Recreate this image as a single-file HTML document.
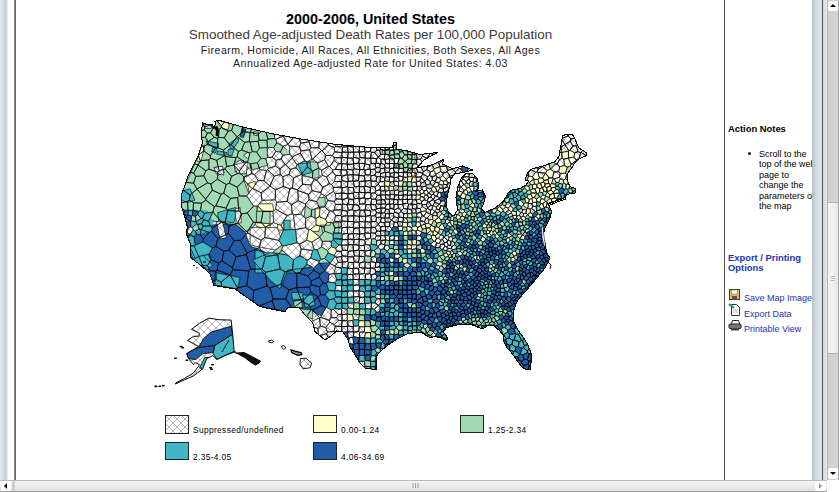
<!DOCTYPE html><html><head><meta charset="utf-8"><title>Map</title><style>
html,body{margin:0;padding:0;}
body{width:839px;height:492px;overflow:hidden;background:#fff;position:relative;font-family:"Liberation Sans",sans-serif;color:#000;}
.abs{position:absolute;}
#lstrip{left:0;top:0;width:8px;height:480px;background:linear-gradient(90deg,#dfe4ea 0,#d6dce3 3px,#c3cad1 6px,#e9ecef 7.5px,#fff 8px);}
#lline{left:14px;top:0;width:2px;height:480px;background:linear-gradient(90deg,#b5b5b5 0,#5f5f5f 1px,#6a6a6a 2px);}
#sline{left:724px;top:0;width:1px;height:480px;background:#555;}
#rstrip{left:812px;top:0;width:10px;height:480px;background:linear-gradient(90deg,#b4bcc4 0,#c6cdd5 3px,#dce2e9 7px,#d5dbe2 10px);opacity:.93}
#rline{left:822px;top:0;width:1px;height:480px;background:#555;}
#rstrip2{left:823px;top:0;width:4px;height:480px;background:linear-gradient(90deg,#cfd6de,#e6ebf0);}
#vsb{left:827px;top:0;width:12px;height:480px;background:#d2d2d2;border-left:1px solid #b4b4b4;border-right:1px solid #a8a8a8;box-sizing:border-box;}
#vthumb{left:828px;top:202px;width:10px;height:152px;background:linear-gradient(90deg,#f3f3f3 0,#f0f0f0 5px,#e4e4e4 10px);border-top:1px solid #b0b0b0;border-bottom:1px solid #b0b0b0;box-sizing:border-box;}
.btn{background:#fff;border-radius:2px;}
#vup{left:828px;top:1px;width:10px;height:10px;}
#vdn{left:828px;top:468px;width:10px;height:11px;}
#hsb{left:0;top:480px;width:827px;height:12px;background:linear-gradient(180deg,#b9b9b9 0,#b9b9b9 1px,#f2f2f2 1px,#ececec 6px,#e0e0e0 10.5px,#a9a9a9 10.5px,#a0a0a0 12px);}
#hl{left:1px;top:481px;width:10px;height:10px;}
#hr{left:815px;top:481px;width:11px;height:10px;}
#corner{left:827px;top:480px;width:12px;height:12px;background:#fff;}
.tri{width:0;height:0;position:absolute;}
.t{position:absolute;white-space:nowrap;text-align:center;left:170px;width:401px;}
#t1{top:10.5px;font-size:14.4px;font-weight:bold;}
#t2{top:27px;font-size:13.4px;color:#3c3c3c;}
#t3{top:44px;font-size:10.6px;letter-spacing:.46px;color:#222;}
#t4{top:56.5px;font-size:10.6px;letter-spacing:.46px;color:#222;}
.lg{position:absolute;width:22px;height:16px;border:1px solid #222;}
.lt{position:absolute;font-size:8.4px;letter-spacing:.35px;white-space:nowrap;}
.sb{position:absolute;font-size:9px;white-space:nowrap;}
.sbh{font-weight:bold;font-size:9.4px;}
.sbl{letter-spacing:0;}
.blue{color:#2233bb;}
</style></head><body>
<div class="t" id="t1">2000-2006, United States</div>
<div class="t" id="t2">Smoothed Age-adjusted Death Rates per 100,000 Population</div>
<div class="t" id="t3">Firearm, Homicide, All Races, All Ethnicities, Both Sexes, All Ages</div>
<div class="t" id="t4">Annualized Age-adjusted Rate for United States: 4.03</div>
<svg class="abs" style="left:0;top:0" width="839" height="480" viewBox="0 0 839 480">
<defs><pattern id="hatch" width="8" height="8" patternUnits="userSpaceOnUse"><rect width="8" height="8" fill="#fff"/><path d="M0 0L8 8M8 0L0 8" stroke="#888" stroke-width=".65"/></pattern><clipPath id="us"><path d="M202.5,123.0L207.0,124.5L212.0,124.0L214.0,128.0L215.5,124.0L215.0,121.5L218.0,120.0L242.6,127.0L272.6,133.8L300.0,138.8L335.0,144.3L370.0,147.5L392.5,147.5L393.7,142.5L396.0,142.5L396.0,149.0L407.5,151.0L420.0,154.5L437.5,152.5L424.0,160.0L417.5,167.5L427.5,166.0L435.0,163.7L443.7,159.0L442.5,164.0L452.5,168.7L462.5,166.0L472.5,170.0L463.7,172.5L455.0,173.7L451.0,178.7L450.0,185.0L447.5,195.0L446.0,205.0L448.7,212.5L453.7,216.0L457.5,210.0L456.0,197.5L457.5,187.5L461.0,178.7L466.0,173.7L472.5,173.7L477.5,178.7L478.7,187.5L476.0,191.0L482.5,190.0L485.5,196.0L483.7,203.7L481.0,208.7L485.0,212.5L495.0,208.0L503.0,201.7L509.0,191.7L512.0,190.0L520.0,188.5L526.0,185.0L529.0,181.0L525.0,180.0L527.5,173.0L531.7,169.0L543.0,166.0L555.0,161.7L559.0,156.0L561.0,145.0L562.5,136.0L566.7,134.0L571.7,134.0L574.0,136.7L576.7,143.0L579.0,148.0L586.0,152.5L586.0,156.0L581.7,157.5L577.5,160.0L574.0,164.0L571.7,168.0L568.0,173.0L567.5,181.0L570.0,186.7L573.0,187.5L576.0,189.0L575.0,193.0L571.7,193.0L566.7,195.0L561.7,199.0L548.0,204.0L551.7,211.7L550.0,218.0L547.5,223.0L545.0,228.0L543.0,236.7L545.0,243.0L546.7,253.0L550.0,258.0L545.0,268.0L536.0,279.0L527.5,289.0L517.5,300.5L513.7,310.5L513.0,320.0L518.0,330.0L523.0,336.7L528.0,345.0L531.0,353.0L531.0,363.0L530.0,370.0L525.0,369.0L521.7,366.7L516.7,360.0L511.7,353.0L506.7,347.5L504.0,341.7L503.0,335.0L500.0,331.0L494.0,326.0L488.0,325.0L483.0,329.0L480.0,328.0L470.0,324.0L460.0,324.0L453.0,326.0L446.7,327.5L443.0,331.7L448.0,338.0L446.7,341.0L440.0,337.5L435.0,336.7L430.0,337.5L420.0,332.0L407.0,334.0L397.0,339.0L388.0,345.0L380.0,351.7L376.0,356.7L376.7,361.7L376.7,370.0L365.0,368.0L360.0,363.0L355.0,355.0L350.0,346.7L348.0,340.0L343.0,331.7L336.7,331.0L330.0,336.7L325.0,340.0L315.0,331.7L312.5,322.5L305.0,315.0L299.0,307.5L288.0,307.5L286.7,309.0L285.0,311.7L260.0,306.7L235.0,289.0L213.7,285.5L210.0,274.0L201.0,265.5L191.0,258.0L190.0,243.0L186.0,233.0L187.5,227.5L185.0,217.5L181.0,205.0L181.0,196.0L185.0,185.0L187.5,177.5L191.0,170.0L197.5,157.5L202.5,142.5L201.0,135.0Z"/></clipPath></defs>
<g clip-path="url(#us)" stroke-linejoin="round">
<path d="M202.5,123.0L207.0,124.5L212.0,124.0L214.0,128.0L215.5,124.0L215.0,121.5L218.0,120.0L242.6,127.0L272.6,133.8L300.0,138.8L335.0,144.3L370.0,147.5L392.5,147.5L393.7,142.5L396.0,142.5L396.0,149.0L407.5,151.0L420.0,154.5L437.5,152.5L424.0,160.0L417.5,167.5L427.5,166.0L435.0,163.7L443.7,159.0L442.5,164.0L452.5,168.7L462.5,166.0L472.5,170.0L463.7,172.5L455.0,173.7L451.0,178.7L450.0,185.0L447.5,195.0L446.0,205.0L448.7,212.5L453.7,216.0L457.5,210.0L456.0,197.5L457.5,187.5L461.0,178.7L466.0,173.7L472.5,173.7L477.5,178.7L478.7,187.5L476.0,191.0L482.5,190.0L485.5,196.0L483.7,203.7L481.0,208.7L485.0,212.5L495.0,208.0L503.0,201.7L509.0,191.7L512.0,190.0L520.0,188.5L526.0,185.0L529.0,181.0L525.0,180.0L527.5,173.0L531.7,169.0L543.0,166.0L555.0,161.7L559.0,156.0L561.0,145.0L562.5,136.0L566.7,134.0L571.7,134.0L574.0,136.7L576.7,143.0L579.0,148.0L586.0,152.5L586.0,156.0L581.7,157.5L577.5,160.0L574.0,164.0L571.7,168.0L568.0,173.0L567.5,181.0L570.0,186.7L573.0,187.5L576.0,189.0L575.0,193.0L571.7,193.0L566.7,195.0L561.7,199.0L548.0,204.0L551.7,211.7L550.0,218.0L547.5,223.0L545.0,228.0L543.0,236.7L545.0,243.0L546.7,253.0L550.0,258.0L545.0,268.0L536.0,279.0L527.5,289.0L517.5,300.5L513.7,310.5L513.0,320.0L518.0,330.0L523.0,336.7L528.0,345.0L531.0,353.0L531.0,363.0L530.0,370.0L525.0,369.0L521.7,366.7L516.7,360.0L511.7,353.0L506.7,347.5L504.0,341.7L503.0,335.0L500.0,331.0L494.0,326.0L488.0,325.0L483.0,329.0L480.0,328.0L470.0,324.0L460.0,324.0L453.0,326.0L446.7,327.5L443.0,331.7L448.0,338.0L446.7,341.0L440.0,337.5L435.0,336.7L430.0,337.5L420.0,332.0L407.0,334.0L397.0,339.0L388.0,345.0L380.0,351.7L376.0,356.7L376.7,361.7L376.7,370.0L365.0,368.0L360.0,363.0L355.0,355.0L350.0,346.7L348.0,340.0L343.0,331.7L336.7,331.0L330.0,336.7L325.0,340.0L315.0,331.7L312.5,322.5L305.0,315.0L299.0,307.5L288.0,307.5L286.7,309.0L285.0,311.7L260.0,306.7L235.0,289.0L213.7,285.5L210.0,274.0L201.0,265.5L191.0,258.0L190.0,243.0L186.0,233.0L187.5,227.5L185.0,217.5L181.0,205.0L181.0,196.0L185.0,185.0L187.5,177.5L191.0,170.0L197.5,157.5L202.5,142.5L201.0,135.0Z" fill="url(#hatch)"/>
<path d="M200,118 218,118 273,133 277,141 287,150 292,163 287,165 277,153 270,158 263,160 260,168 248,168 243,160 247,175 243,178 250,197 257,203 257,222 252,228 245,232 235,225 217,222 210,220 190,222 180,215 180,195 190,175 200,150Z" fill="#a1dab4" stroke="#000" stroke-width=".65"/>
<path d="M202.6,122.5 210.1,124.2 211.7,128.4 205.1,128.4Z" fill="url(#hatch)" stroke="#000" stroke-width=".65"/>
<path d="M214.2,167.6 221.8,166.8 224.3,172.6 218.4,175.1Z" fill="url(#hatch)" stroke="#000" stroke-width=".65"/>
<path d="M234.3,163.4 240.1,160.1 248.5,168.4 243.5,173.4 235.1,171.8Z" fill="url(#hatch)" stroke="#000" stroke-width=".65"/>
<path d="M243.5,155.1 250.1,150.1 261.8,153.4 260.2,157.6 248.5,159.2Z" fill="url(#hatch)" stroke="#000" stroke-width=".65"/>
<path d="M253.5,131.7 258.5,132.5 258.5,135.9 253.5,135Z" fill="url(#hatch)" stroke="#000" stroke-width=".65"/>
<path d="M213.8,167.5 222.6,166.3 223.8,175 216.3,173.8Z" fill="url(#hatch)" stroke="#000" stroke-width=".65"/>
<path d="M233.8,165 247.6,161.3 246.4,173.8 237.6,173.8Z" fill="url(#hatch)" stroke="#000" stroke-width=".65"/>
<path d="M217.6,120 229.3,123.4 228.4,129.2 223.4,129.2 218.4,124.2Z" fill="#ffffcc" stroke="#000" stroke-width=".65"/>
<path d="M201.7,145.9 205.1,145.1 200.9,161.8 196.7,160.9Z" fill="#ffffcc" stroke="#000" stroke-width=".65"/>
<path d="M205.9,140.9 218.4,143.4 218.4,147.6 207.6,145.1Z" fill="#41b6c4" stroke="#000" stroke-width=".65"/>
<path d="M212.6,147.6 217.6,147.6 215.1,153.4 211.7,151.7Z" fill="#41b6c4" stroke="#000" stroke-width=".65"/>
<path d="M217.6,150.9 226.8,152.6 225.9,155.9 216.7,154.2Z" fill="#41b6c4" stroke="#000" stroke-width=".65"/>
<path d="M228.4,149.2 234.3,149.2 231.8,155.9 227.6,155.1Z" fill="#41b6c4" stroke="#000" stroke-width=".65"/>
<path d="M229.3,143.4 238.4,137.5 238.4,141.7 233.4,148.4 230.1,148.4Z" fill="#41b6c4" stroke="#000" stroke-width=".65"/>
<path d="M241.8,128.4 246,129.2 243.5,137.5 240.1,136.7Z" fill="#225ea8" stroke="#000" stroke-width=".65"/>
<path d="M292.7,160 318.9,162.5 318.9,177.5 310.2,178.8 295.2,175Z" fill="#a1dab4" stroke="#000" stroke-width=".65"/>
<path d="M297.7,163.8 310.2,162.5 311.4,172.5 302.7,175Z" fill="#41b6c4" stroke="#000" stroke-width=".65"/>
<path d="M247.6,183.8 255.1,181.3 255.1,190.1 248.9,191.3Z" fill="#ffffcc" stroke="#000" stroke-width=".65"/>
<path d="M257.6,203.8 272.6,203.8 273.9,211.3 257.6,211.3Z" fill="#ffffcc" stroke="#000" stroke-width=".65"/>
<path d="M256.4,211.3 270.1,211.3 270.1,223.8 256.4,222.6Z" fill="#a1dab4" stroke="#000" stroke-width=".65"/>
<path d="M255.1,222.6 270.1,223.8 270.1,230.1 256.4,226.3Z" fill="#ffffcc" stroke="#000" stroke-width=".65"/>
<path d="M267.6,190.1 276.4,191.3 276.4,196.3 268.9,195.1Z" fill="#ffffcc" stroke="#000" stroke-width=".65"/>
<path d="M277.6,220.1 283.9,220.1 283.9,230.1 277.6,230.1Z" fill="#ffffcc" stroke="#000" stroke-width=".65"/>
<path d="M283.9,220.1 290.2,220.1 290.2,231.4 283.9,231.4Z" fill="#41b6c4" stroke="#000" stroke-width=".65"/>
<path d="M273.9,242.6 290.2,240.1 290.2,252.6 277.6,255.1Z" fill="#a1dab4" stroke="#000" stroke-width=".65"/>
<path d="M305.2,206.3 315.2,206.3 315.2,222.6 303.9,220.1Z" fill="#a1dab4" stroke="#000" stroke-width=".65"/>
<path d="M316.4,197.6 325.2,197.6 325.2,206.3 316.4,206.3Z" fill="#a1dab4" stroke="#000" stroke-width=".65"/>
<path d="M310.2,231.4 339,225.1 339,247.6 330.2,255.1 310.2,250.1Z" fill="#a1dab4"/>
<path d="M320.2,222.6 339,222.6 339,232.6 332.7,235.1 322.7,232.6Z" fill="#a1dab4" stroke="#000" stroke-width=".65"/>
<path d="M315.2,208.8 321.5,208.8 321.5,216.3 330.2,216.3 330.2,225.1 320.2,225.1 318.9,231.4 310.2,231.4 310.2,222.6 315.2,221.3Z" fill="#ffffcc" stroke="#000" stroke-width=".65"/>
<path d="M302.7,237.6 310.2,237.6 310.2,246.4 301.4,246.4Z" fill="#ffffcc" stroke="#000" stroke-width=".65"/>
<path d="M300.2,250.1 332.7,255.1 332.7,265.1 325.2,267.6 305.2,260.1Z" fill="#41b6c4"/>
<path d="M181.3,191.3 190,188.8 195,200.1 187.5,202.6 181.3,200.1Z" fill="#41b6c4" stroke="#000" stroke-width=".65"/>
<path d="M217.6,212.6 235.1,207.6 237.6,208.8 233.8,222.6 218.8,221.3Z" fill="#41b6c4" stroke="#000" stroke-width=".65"/>
<path d="M235.1,208.8 240.1,207.6 241.4,222.6 236.3,223.8Z" fill="url(#hatch)" stroke="#000" stroke-width=".65"/>
<path d="M210,225 235,224 245,232 250,246 265,252 262,262 270,270 290,268 330,262 332,300 325,318 312,311 286,311 261,307 234,290 214,287 210,275 200,266 190,258 188,240 187,232 198,234Z" fill="#225ea8" stroke="#000" stroke-width=".65"/>
<path d="M216.3,221.3 222.6,222.6 226.3,237.6 220.1,238.9Z" fill="url(#hatch)" stroke="#000" stroke-width=".65"/>
<path d="M181.3,208.8 207.6,210.6 213.8,222.6 205.1,232.6 195,235.1 186.3,225.1Z" fill="#41b6c4"/>
<path d="M186.3,232.6 197.5,236.4 210.1,260.1 200.1,272.9 190,250.1Z" fill="#41b6c4"/>
<path d="M187.5,235 197.5,237.5 202.5,255 212.6,265 207.5,270.1 195,257.5 188.8,245Z" fill="#41b6c4" stroke="#000" stroke-width=".65"/>
<path d="M215.1,272.6 240.1,277.6 237.6,288.8 215.1,285.1Z" fill="#41b6c4" stroke="#000" stroke-width=".65"/>
<path d="M250.1,227.6 277.6,227.6 282.7,245.1 275.1,250.1 250.1,245.1Z" fill="url(#hatch)" stroke="#000" stroke-width=".65"/>
<path d="M255.1,250.1 277.6,255.1 300.2,250.1 305.2,260.1 300.2,272.9 255.1,272.9Z" fill="#41b6c4" stroke="#000" stroke-width=".65"/>
<path d="M252.6,260 270.1,252.5 306.4,257.5 310.2,267.5 287.6,270.1 286.4,273.8 280.1,288.8 270.1,280.1Z" fill="#41b6c4" stroke="#000" stroke-width=".65"/>
<path d="M272.6,252.5 285.1,242.5 287.6,255Z" fill="#a1dab4" stroke="#000" stroke-width=".65"/>
<path d="M287.6,235 330.2,235 332.7,262.5 310.2,262.5 306.4,255 287.6,255Z" fill="#a1dab4"/>
<path d="M291.4,292.6 302.7,292.6 303.9,298.8 292.7,300.1Z" fill="#41b6c4" stroke="#000" stroke-width=".65"/>
<path d="M302.7,295.1 312.7,295.1 315.2,305.1 305.2,307.6Z" fill="#41b6c4" stroke="#000" stroke-width=".65"/>
<path d="M293.9,301.3 301.4,300.1 302.7,307.6 293.9,307.6Z" fill="#a1dab4" stroke="#000" stroke-width=".65"/>
<path d="M300.2,308.8 312.7,310.1 312.7,318.9 305.2,316.4Z" fill="#a1dab4" stroke="#000" stroke-width=".65"/>
<path d="M382,150.5 394,150.5 396,148.5 407,151 415,153 415,165 411,170 405,172 400,168 396,160 390,157 382,155Z" fill="#a1dab4" stroke="#000" stroke-width=".65"/>
<path d="M394,163 397,163 397,168 394,168Z" fill="#41b6c4" stroke="#000" stroke-width=".65"/>
<path d="M410,170 415,170 415,176 410,176Z" fill="#ffffcc" stroke="#000" stroke-width=".65"/>
<path d="M398,176 403,176 403,185 398,185Z" fill="#ffffcc" stroke="#000" stroke-width=".65"/>
<path d="M400.1,180.9 411.8,180.9 411.8,190.1 400.1,190.1Z" fill="#41b6c4"/>
<path d="M441,191 448,191 451,205 452,214 446,214 443,204Z" fill="#225ea8"/>
<path d="M472.6,192.6 483.9,191.3 485.1,203.8 475.1,207.6Z" fill="#225ea8"/>
<path d="M460.1,317.4 485.7,317.4 485.7,327.4 460.1,327.4Z" fill="#a1dab4"/>
<path d="M467.4,312.8 480.2,312.8 480.2,318.3 467.4,318.3Z" fill="#41b6c4"/>
<path d="M247.6,150 290.2,150 290.2,165 280.2,167.5 265.1,165 247.6,167.5Z" fill="#a1dab4"/>
<path d="M330.2,271.3 346.5,270.1 351.5,280.1 351.5,305.1 341.5,313.9 330.2,313.9Z" fill="#41b6c4"/>
<path d="M360.2,281.3 380,280.1 380,301.3 365.2,302.6Z" fill="#41b6c4"/>
<path d="M456,226 466,226 466,237 456,237Z" fill="#225ea8"/>
<path d="M560.9,145 566.8,143.4 567.6,153.4 571.8,155.1 575.1,146.7 577.6,147.5 575.1,161.7 566.8,163.4 560.1,158.4Z" fill="#ffffcc"/>
<path d="M555.1,159.2 570.1,161.7 568.4,175.1 555.1,175.1 550.1,168.4Z" fill="#ffffcc"/>
<path d="M250,158 265,155 268,165 252,170Z" fill="#a1dab4" stroke="#000" stroke-width=".65"/>
<path d="M367,326 376,321 384,325 381,336 375,346 370,344 372,334Z" fill="#a1dab4"/>
<path d="M347,302 362,300 363,314 350,316Z" fill="#a1dab4"/>
<path d="M500.4,325.6 520.5,325.6 526,340.2 527.8,354.9 516.8,354.9 504,345.7 502.2,332.9Z" fill="#41b6c4"/>
<path d="M513.2,355.8 531.5,354.9 531.5,371.3 520.5,370.4Z" fill="#225ea8"/>
<path d="M335.4,146.7 341.9,146.7 341.9,144.9 335.8,144.4ZM341.9,146.7 342.4,147.2 347.4,146.7 348,146.1 348,145.5 341.9,144.9ZM341.7,152.6 342.2,152 342.4,147.2 341.9,146.7 335.4,146.7 334.4,147.7 334.5,151.7ZM342.2,152 348.1,152.3 347.4,146.7 342.4,147.2ZM348.2,152.3 353.6,152.1 353.2,147.3 348,146.1 347.4,146.7 348.1,152.3ZM359.4,146.5 354.3,146.1 353.2,147.3 353.6,152.1 353.8,152.2 359.2,152ZM359.2,152 359.3,152.1 364.8,151.6 364.7,147 359.4,146.5ZM364.8,151.6 365.3,152 370.7,151.6 370.7,147.5 370,147.5 364.7,147ZM376.2,147.5 370.7,147.5 370.7,151.6 371.4,152.3 374.6,152.3 377,150ZM341.4,157.8 342,157.1 341.7,152.6 334.5,151.7 332.4,155.4 333.9,157.6ZM342,157.1 347.4,157.9 348.2,152.3 348.1,152.3 342.2,152 341.7,152.6ZM347.4,157.9 347.6,158.1 352.8,158.1 353.5,157.4 353.8,152.2 353.6,152.1 348.2,152.3ZM359.2,158.4 360,157.5 359.3,152.1 359.2,152 353.8,152.2 353.5,157.4ZM360,157.5 365.1,158.1 365.3,152 364.8,151.6 359.3,152.1ZM370.6,158.2 371.4,152.3 370.7,151.6 365.3,152 365.1,158.1 365.4,158.3ZM374.6,152.3 371.4,152.3 370.6,158.2 370.7,158.2 376.8,158.5 378.2,157.4 378.3,157.3ZM334,160.3 338.2,163.8 341.3,163.5 341.4,157.8 333.9,157.6ZM341.8,163.8 347.1,164 347.6,158.1 347.4,157.9 342,157.1 341.4,157.8 341.3,163.5ZM352.8,158.1 347.6,158.1 347.1,164 347.5,164.4 353.5,164 353.7,163.7ZM359.2,158.4 353.5,157.4 352.8,158.1 353.7,163.7 358.8,163.1ZM364.7,163.5 365.4,158.3 365.1,158.1 360,157.5 359.2,158.4 358.8,163.1 359.1,163.4ZM370.7,158.2 370.6,158.2 365.4,158.3 364.7,163.5 364.8,163.7 369.6,165 371.2,163.2ZM376,163 376.8,158.5 370.7,158.2 371.2,163.2 375.1,163.9ZM338.2,163.8 335,169.2 341.2,169.9 341.4,169.8 341.8,163.8 341.3,163.5ZM347.5,169.1 347.5,164.4 347.1,164 341.8,163.8 341.4,169.8 346.7,170ZM347.5,164.4 347.5,169.1 353,170.1 354,168.9 353.5,164ZM358.8,163.1 353.7,163.7 353.5,164 354,168.9 359.6,169.6 359.1,163.4ZM359.6,169.6 359.7,169.7 363.7,169.3 364.8,163.7 364.7,163.5 359.1,163.4ZM371.2,163.2 369.6,165 370.1,169.1 370.5,169.5 374.7,169.2 375.9,167.7 375.1,163.9ZM341,175.6 341.2,169.9 335,169.2 332.8,170.1 332.7,171.8 335.6,175.5ZM347.6,175.1 353.1,174.6 353,170.1 347.5,169.1 346.7,170 347.1,174.7ZM354,168.9 353,170.1 353.1,174.6 353.3,174.8 359,175.2 359.7,169.7 359.6,169.6ZM365.3,174.9 364.8,170 363.7,169.3 359.7,169.7 359,175.2 359.1,175.3 364.2,176ZM370.4,174.9 370.5,169.5 370.1,169.1 364.8,170 365.3,174.9ZM376.2,172.2 374.7,169.2 370.5,169.5 370.4,174.9 371.1,175.7 374.7,175.2ZM341.7,176.2 341,175.6 335.6,175.5 334.4,181.5 341.2,181.5 342,180.6ZM347.8,181.9 348.3,181.4 347.6,175.1 347.1,174.7 341.7,176.2 342,180.6ZM353.3,174.8 353.1,174.6 347.6,175.1 348.3,181.4 352.9,181ZM359,175.2 353.3,174.8 352.9,181 353.4,181.3 358.5,180.6 359.1,175.3ZM359.1,175.3 358.5,180.6 359.2,181.3 365.2,181.1 364.2,176ZM370.4,174.9 365.3,174.9 364.2,176 365.2,181.1 365.3,181.2 370.6,180.5 371.1,175.7ZM374.7,175.2 371.1,175.7 370.6,180.5 371,181 376,181.2 376.6,176.9ZM334.4,181.5 331.5,184.4 333.2,187.4 341.2,187.2 341.2,181.5ZM341.2,181.5 341.2,187.2 342,187.9 347.5,186.7 347.8,181.9 342,180.6ZM347.5,186.7 348.1,187.4 353.4,187.6 354.3,186.7 353.4,181.3 352.9,181 348.3,181.4 347.8,181.9ZM353.4,181.3 354.3,186.7 359.3,186.6 359.2,181.3 358.5,180.6ZM359.2,181.3 359.3,186.6 359.5,186.8 364.4,186.6 364.9,186.1 365.3,181.2 365.2,181.1ZM370.6,180.5 365.3,181.2 364.9,186.1 370.4,187.3 371.3,186.4 371,181ZM376,181.2 371,181 371.3,186.4 374.9,186.9 378.3,184.3 378.3,183.2ZM341.2,187.2 333.2,187.4 333.2,191.6 335.4,193.7 341.9,193 341.9,193 342,187.9ZM341.9,193 347.9,193.7 348.2,193.5 348.1,187.4 347.5,186.7 342,187.9ZM354.1,192.2 353.4,187.6 348.1,187.4 348.2,193.5 353.1,193.3ZM358.9,192.7 359.3,192.3 359.5,186.8 359.3,186.6 354.3,186.7 353.4,187.6 354.1,192.2ZM365,192.7 364.4,186.6 359.5,186.8 359.3,192.3 364.9,192.7ZM370.4,187.3 364.9,186.1 364.4,186.6 365,192.7 370.2,192.5ZM370.4,187.3 370.2,192.5 371,193.3 374.8,192.8 375.9,190.7 374.9,186.9 371.3,186.4ZM341.9,193 335.4,193.7 335.8,198.9 341.9,199.2ZM342.3,199.7 347.9,198 347.9,193.7 341.9,193 341.9,193 341.9,199.2ZM353.1,193.3 348.2,193.5 347.9,193.7 347.9,198 348.9,199.1 353.6,199.4 354.3,198.8ZM358.9,192.7 354.1,192.2 353.1,193.3 354.3,198.8 358.9,198.4 358.9,198.4ZM364.3,198 364.9,192.7 359.3,192.3 358.9,192.7 358.9,198.4ZM370.2,192.5 365,192.7 364.9,192.7 364.3,198 365.3,199 370.8,198.2 371,193.3ZM370.8,198.2 371.6,199.1 375.5,199.2 377.2,195.2 374.8,192.8 371,193.3ZM335.8,198.9 334.1,201.3 335.4,204.4 342.2,204.5 342.7,204.1 342.3,199.7 341.9,199.2ZM348.9,199.1 347.9,204.1 353.4,204.9 353.8,204.5 353.6,199.4ZM354.3,198.8 353.6,199.4 353.8,204.5 358.8,205.3 359.8,204.2 358.9,198.4ZM358.9,198.4 359.8,204.2 365.1,203.7 365.3,199 364.3,198 358.9,198.4ZM365.3,199 365.1,203.7 366,204.7 370.7,204.6 370.8,204.5 371.6,199.1 370.8,198.2ZM370.8,204.5 375.7,204.7 376.6,203.8 376.5,200.2 375.5,199.2 371.6,199.1ZM335.4,204.4 333.8,210.1 341.9,209.8 342.2,204.5ZM341.9,209.8 342.2,210.2 347.2,211.2 348.2,210.2 347.2,204.6 342.7,204.1 342.2,204.5ZM353.4,204.9 347.9,204.1 347.2,204.6 348.2,210.2 352.5,209.8ZM353.8,204.5 353.4,204.9 352.5,209.8 353.8,211 359.6,209.8 358.8,205.3ZM365.1,203.7 359.8,204.2 358.8,205.3 359.6,209.8 360.1,210.2 364.6,210.2 365,209.9 366,204.7ZM366,204.7 365,209.9 370.4,210.8 371.5,209.7 370.7,204.6ZM371.5,209.7 375.5,210.1 376.5,208.7 375.7,204.7 370.8,204.5 370.7,204.6ZM332.9,211 335.5,215.6 340.9,215.6 342.2,210.2 341.9,209.8 333.8,210.1ZM347.2,211.2 342.2,210.2 340.9,215.6 341.7,216.4 347.6,215.7ZM353.9,215.7 353.9,215.7 353.8,211 352.5,209.8 348.2,210.2 347.2,211.2 347.6,215.7 347.9,216.1ZM359.5,216.2 360.1,210.2 359.6,209.8 353.8,211 353.9,215.7 359.4,216.3ZM365.6,216.2 364.6,210.2 360.1,210.2 359.5,216.2ZM370.4,210.8 365,209.9 364.6,210.2 365.6,216.2 365.6,216.2 370.5,215.5ZM375.1,215.8 376.5,212.7 375.5,210.1 371.5,209.7 370.4,210.8 370.5,215.5 371.1,216ZM334.3,221.1 341,221.9 341.9,221.1 341.7,216.4 340.9,215.6 335.5,215.6ZM347.6,215.7 341.7,216.4 341.9,221.1 347.7,221.4 347.7,221.4 347.9,216.1ZM347.7,221.4 353.5,221.6 353.9,215.7 347.9,216.1ZM353.9,215.7 353.9,215.7 353.5,221.6 354,222 359,222 359.5,221.4 359.4,216.3ZM365.6,216.2 365.6,216.2 359.5,216.2 359.4,216.3 359.5,221.4 365.2,221.9 365.5,221.6ZM371.1,216 370.5,215.5 365.6,216.2 365.5,221.6 370.8,222.1 371.1,221.8ZM376,221.4 376.4,217.5 375.1,215.8 371.1,216 371.1,221.8ZM347.7,221.4 341.9,221.1 341,221.9 341.5,227 342.1,227.5 347.3,227.4 347.5,227.2ZM347.7,221.4 347.5,227.2 353.2,227.6 354,222 353.5,221.6 347.7,221.4ZM354,222 353.2,227.6 353.8,228.2 359.1,227.9 359.5,227.5 359,222ZM359,222 359.5,227.5 364.9,227.7 365.2,221.9 359.5,221.4ZM365.5,221.6 365.2,221.9 364.9,227.7 364.9,227.7 370.9,227.7 371.3,227.3 370.8,222.1ZM378.3,223.7 376,221.4 371.1,221.8 370.8,222.1 371.3,227.3 375.2,227.3 378.2,224.5ZM347.6,233.3 347.3,227.4 342.1,227.5 341.3,233.2 342.2,234.2ZM347.5,227.2 347.3,227.4 347.6,233.3 348.3,234 353.2,233.6 353.4,233.4 353.8,228.2 353.2,227.6ZM353.8,228.2 353.4,233.4 359.5,234.2 359.6,234.1 359.1,227.9ZM364.9,227.7 364.9,227.7 359.5,227.5 359.1,227.9 359.6,234.1 364.5,233.5 365,232.9ZM371,232.9 370.9,227.7 364.9,227.7 365,232.9 370.5,233.4ZM375.3,233.2 376.8,231.1 375.2,227.3 371.3,227.3 370.9,227.7 371,232.9ZM342,239.2 342.1,239.4 347.7,239.7 348,239.3 348.3,234 347.6,233.3 342.2,234.2ZM353.8,239.3 353.2,233.6 348.3,234 348,239.3ZM354.1,239.6 359.2,239.1 359.5,234.2 353.4,233.4 353.2,233.6 353.8,239.3ZM359.6,234.1 359.5,234.2 359.2,239.1 359.3,239.2 364.8,240.2 365.7,239.2 364.5,233.5ZM370.5,233.4 365,232.9 364.5,233.5 365.7,239.2 370.5,238.3ZM371.6,239.1 374.8,238.8 376.5,235.8 375.3,233.2 371,232.9 370.5,233.4 370.5,238.3ZM348.4,244.5 347.7,239.7 342.1,239.4 341.3,244.9 341.5,245.2 348.1,244.8ZM347.7,239.7 348.4,244.5 353,245 353.5,244.6 354.1,239.6 353.8,239.3 348,239.3ZM353.5,244.6 358.9,245.2 359.3,239.2 359.2,239.1 354.1,239.6ZM364.8,240.2 359.3,239.2 358.9,245.2 359.3,245.6 364.4,245.3 365.4,244.3ZM365.7,239.2 364.8,240.2 365.4,244.3 370.2,245.3 371.3,244.3 371.6,239.1 370.5,238.3ZM342.4,250.1 341.5,245.2 341.3,244.9 338.9,245.1 335.5,248.4 336.5,251.2 341.4,251.4ZM341.5,245.2 342.4,250.1 347.5,250.5 348.1,244.8ZM347.5,250.5 348.3,251.3 353.5,250.7 353,245 348.4,244.5 348.1,244.8ZM359.3,245.6 358.9,245.2 353.5,244.6 353,245 353.5,250.7 353.6,250.8 358.7,250ZM359.3,245.6 358.7,250 359.3,250.6 364.6,250.7 364.4,245.3ZM364.4,245.3 364.6,250.7 365.1,251.2 370.7,250.1 370.2,245.3 365.4,244.3ZM342,255.9 341.4,251.4 336.5,251.2 334.2,255.3 334.9,256.8 336.1,257.3 341.4,256.6ZM347.5,256.3 348.3,251.3 347.5,250.5 342.4,250.1 341.4,251.4 342,255.9ZM353.5,256.9 354.4,255.9 353.6,250.8 353.5,250.7 348.3,251.3 347.5,256.3 347.9,256.8ZM358.7,250 353.6,250.8 354.4,255.9 359.4,256.2 359.3,250.6ZM364.6,250.7 359.3,250.6 359.4,256.2 359.5,256.3 364.3,256.5 364.9,255.9 365.1,251.2ZM364.9,255.9 370.6,256.4 370.9,250.3 370.7,250.1 365.1,251.2ZM375.8,253.7 374.5,250.5 370.9,250.3 370.6,256.4 371.3,257.1 374.5,256.5ZM336.1,257.3 337.9,262.3 342.3,262.4 342.4,262.2 341.4,256.6ZM342.4,262.2 347.5,261.5 347.9,256.8 347.5,256.3 342,255.9 341.4,256.6ZM347.5,261.5 348.3,262.4 353.6,262.5 354.2,262 353.5,256.9 347.9,256.8ZM354.4,255.9 353.5,256.9 354.2,262 358.5,262.3 359.5,256.3 359.4,256.2ZM364.3,256.5 359.5,256.3 358.5,262.3 359.3,263.1 365,261.7ZM376.4,262.2 376.6,258.1 374.5,256.5 371.3,257.1 370.8,261.7 375.7,262.6ZM337.9,262.3 335,266.1 335.5,267.1 341.5,268 342.3,267.4 342.3,262.4ZM342.4,262.2 342.3,262.4 342.3,267.4 347.6,268.2 347.8,268 348.3,262.4 347.5,261.5ZM353.5,268.2 353.6,262.5 348.3,262.4 347.8,268 353,268.7ZM359.5,267.5 359.3,263.1 358.5,262.3 354.2,262 353.6,262.5 353.5,268.2 358.7,268.3ZM364.4,268.3 364.8,268 365.3,262 365,261.7 359.3,263.1 359.5,267.5ZM370.5,268.2 370.6,268 370.1,262.3 365.3,262 364.8,268ZM370.8,261.7 370.1,262.3 370.6,268 374.5,268.2 375.4,267.3 375.7,262.6ZM335.5,267.1 333.9,273.5 334.5,273.9 341.2,273.3 341.5,268ZM347.2,274.3 352.9,274.6 353.3,274.1 353,268.7 347.8,268 347.6,268.2 347,274.1ZM358.7,268.3 353.5,268.2 353,268.7 353.3,274.1 358.9,273.9ZM359.3,274.3 364.5,273.5 364.4,268.3 359.5,267.5 358.7,268.3 358.9,273.9ZM365.5,274.2 369.8,273.7 370.5,268.2 364.8,268 364.4,268.3 364.5,273.5ZM371,274.8 374.9,273.8 375.9,271.4 374.5,268.2 370.6,268 370.5,268.2 369.8,273.7ZM347.4,279.9 353,279.5 353.2,279.3 352.9,274.6 347.2,274.3ZM353.3,274.1 352.9,274.6 353.2,279.3 359.2,279.8 359.4,279.5 359.3,274.3 358.9,273.9ZM359.4,279.5 364.8,279.6 365.1,279.4 365.5,274.2 364.5,273.5 359.3,274.3ZM371.2,280 371.4,279.9 371,274.8 369.8,273.7 365.5,274.2 365.1,279.4ZM371.4,279.9 375.5,280 377,276.1 374.9,273.8 371,274.8ZM359,284.9 359.2,279.8 353.2,279.3 353,279.5 353,285 353.4,285.3ZM341.7,291.2 341.7,285.7 335.9,285.5 334.7,290.6ZM353.3,290.9 353.3,291 359.1,290.9 359.2,290.8 359.9,285.9 359,284.9 353.4,285.3ZM347.3,291.2 347.7,297.3 353.5,297.1 353.6,297 353.3,291 353.3,290.9 347.5,291ZM353.6,297 359,296.6 359.1,290.9 353.3,291ZM359,296.6 359.9,297.3 364.4,297.2 364.8,296.9 364.7,292 359.2,290.8 359.1,290.9ZM353.6,297 353.5,297.1 354,302.7 358.9,303.1 359.9,297.3 359,296.6ZM359.9,297.3 358.9,303.1 359.6,303.9 364.8,303.2 364.4,297.2ZM347.8,303.1 347.6,303.3 348.2,308 353.4,308.6 353.9,302.8ZM371.4,303 371.1,302.7 365.3,303.7 365.6,308.8 370.8,309 371.2,308.7ZM374.5,309.3 378.3,305.3 375,302.8 371.4,303 371.2,308.7ZM334.3,308.7 333.4,309.5 338.2,314.4 341.7,314.4 341.5,309ZM341.7,314.4 342.1,314.7 347.2,314.2 347.2,309.2 342.2,308.4 341.5,309ZM338.2,314.4 336.5,317.6 338.2,320.3 341.9,320.7 342.1,314.7 341.7,314.4ZM341.9,320.7 342,320.8 347.3,320.6 347.4,314.3 347.2,314.2 342.1,314.7ZM353.3,313.9 352.5,314.7 353.3,319.8 358.5,320 359.3,314.8ZM334.2,324.7 335,326.2 341.7,326.4 342,320.8 341.9,320.7 338.2,320.3ZM341.7,326.4 341.8,326.5 347.5,326.5 347.9,326.1 347.7,321 347.3,320.6 342,320.8ZM347.7,321 347.9,326.1 353.2,326.6 353.6,326.2 352.8,320.3ZM341.8,326.5 341.7,326.4 335,326.2 334.1,331.2 335.1,332.4 336.7,331 341.8,331.6ZM347.6,331.9 347.7,331.8 347.5,326.5 341.8,326.5 341.8,331.6 343,331.7 343.3,332.2ZM347.9,326.1 347.5,326.5 347.7,331.8 353.3,331.9 353.2,326.6ZM358.4,325.7 353.6,326.2 353.2,326.6 353.3,331.9 353.6,332.2 358.7,331.5 359.2,326.6ZM358.7,331.5 359.5,332.4 364.5,331.7 364.6,326.8 359.2,326.6ZM353.3,331.9 347.7,331.8 347.6,331.9 347.9,336.8 349.2,337.8 352.9,337.3 353.5,336.6 353.6,332.2ZM353.6,332.2 353.5,336.6 359.2,337.9 359.6,337.5 359.5,332.4 358.7,331.5ZM359.5,332.4 359.6,337.5 364.6,337.6 365.5,332.8 364.5,331.7ZM349.2,337.8 348.5,341.5 349.1,343.7 353.3,344.4 354,343.8 352.9,337.3ZM358.8,361.1 358.8,361.1 360,363 364.1,367.1 365,366.2 364.6,361.3ZM393.8,145.3 396,145.2 396,142.5 393.7,142.5 393.2,144.6ZM380.5,149.6 380.8,147.5 376.2,147.5 377,150 379.8,150.2ZM380.5,149.6 384.9,150.3 385.1,150.1 385,147.5 380.8,147.5ZM385.1,150.1 389.4,149.3 389.2,147.5 385,147.5ZM389.4,149.3 390.3,150.1 393.4,149.9 393.8,145.3 393.2,144.6 392.5,147.5 389.2,147.5ZM393.8,145.3 393.4,149.9 393.7,150.2 398.2,149.4 396,149 396,145.2ZM380.5,154.5 379.8,150.2 377,150 374.6,152.3 378.3,157.3ZM378.2,157.4 381,159.4 384.2,159 385,154.3 380.5,154.5 378.3,157.3ZM389,154.9 385.2,154 385,154.3 384.2,159 385,159.6 389.5,158.7 389.5,158.6 389.4,155.4ZM422.3,154.2 420,154.5 417.1,153.7 416.6,154.4 417,159.2 420.4,159.3 422.7,156.1ZM380.9,163.4 381,159.4 378.2,157.4 376.8,158.5 376,163 380.3,163.9ZM385.6,163.5 385,159.6 384.2,159 381,159.4 380.9,163.4 384.8,164.4ZM389.4,163.4 389.5,158.7 385,159.6 385.6,163.5ZM389.5,158.6 389.5,158.7 389.4,163.4 389.4,163.4 394.1,163.6 394.3,163.4 394,159.5ZM394,159.5 394.3,163.4 397.9,163.5 399.2,158.6 394.9,158.4ZM418.9,165.8 422.2,162.1 420.4,159.3 417,159.2 416.7,159.5 416.6,163.7 418.3,165.9ZM380.3,163.9 376,163 375.1,163.9 375.9,167.7 379.8,167.7ZM384.8,164.4 380.9,163.4 380.3,163.9 379.8,167.7 380.5,168.4 384.5,168.4 384.9,167.9ZM389.5,168.1 389.4,163.4 389.4,163.4 385.6,163.5 384.8,164.4 384.9,167.9ZM393.8,168 394.1,163.6 389.4,163.4 389.5,168.1 389.9,168.5 393.4,168.3ZM416.5,168.2 418.3,165.9 416.6,163.7 412.3,164.1 412.2,168.4 412.3,168.5ZM379.7,172.3 380.5,168.4 379.8,167.7 375.9,167.7 374.7,169.2 376.2,172.2ZM385.1,172.3 384.5,168.4 380.5,168.4 379.7,172.3 380.7,173.6ZM389.9,168.5 389.5,168.1 384.9,167.9 384.5,168.4 385.1,172.3 385.5,172.7 389.1,172.3ZM393.4,168.3 389.9,168.5 389.1,172.3 390.1,173.3 394.4,172.5ZM398.3,172.8 398.4,172.6 398.9,168.5 398.7,168.2 393.8,168 393.4,168.3 394.4,172.5 394.4,172.5ZM403.8,172.3 403.9,172.3 403.3,168.4 398.9,168.5 398.4,172.6ZM380.4,176.3 380.7,173.6 379.7,172.3 376.2,172.2 374.7,175.2 376.6,176.9 380.4,176.3ZM384.7,177.7 385.8,176.7 385.5,172.7 385.1,172.3 380.7,173.6 380.4,176.3ZM389.1,172.3 385.5,172.7 385.8,176.7 389.5,177 390,176.5 390.1,173.3ZM394.4,172.5 390.1,173.3 390,176.5 393.8,177.3 394.4,172.5ZM398.9,176.1 398.3,172.8 394.4,172.5 393.8,177.3 394.2,177.7 398.3,177ZM403,176.7 403.8,172.3 398.4,172.6 398.3,172.8 398.9,176.1ZM407.3,177.4 407.6,177.1 407.2,172.6 403.9,172.3 403.8,172.3 403,176.7 403.4,177.1ZM411.7,176.5 411.5,172.9 407.2,172.6 407.2,172.6 407.6,177.1ZM415.9,177.2 421.1,176.9 422.8,173.8 422.6,173 417.6,172 416.3,173.3 415.8,177.1ZM380.1,181.7 380.4,176.3 376.6,176.9 376,181.2 378.3,183.2ZM384.9,181.1 384.7,177.7 380.4,176.3 380.4,176.3 380.1,181.7 384.7,181.4ZM384.9,181.1 389.5,181.6 389.5,177 385.8,176.7 384.7,177.7ZM393.8,177.3 390,176.5 389.5,177 389.5,181.6 390,182 393.4,181.6 393.9,181.1 394.2,177.7ZM398.3,177 394.2,177.7 393.9,181.1 398.6,181.8 399.2,181.1ZM403.4,181.8 407.1,182.2 407.8,181.5 407.3,177.4 403.4,177.1 402.5,180.9ZM419.6,181.2 421.3,178.1 421.1,176.9 415.9,177.2 416.4,181.3ZM384.9,186 384.7,181.4 380.1,181.7 378.3,183.2 378.3,184.3 380.4,186.7 384.5,186.3ZM389.4,186 393.6,186.8 394.7,185.7 393.4,181.6 390,182ZM393.4,181.6 394.7,185.7 398.6,185.9 398.6,181.8 393.9,181.1ZM411.9,182.2 411.8,186.5 412.3,186.8 416.9,186.2 416,181.9ZM416,181.9 416.9,186.2 417.3,186.4 420.5,186.1 421,183.1 419.6,181.2 416.4,181.3ZM374.9,186.9 375.9,190.7 380.1,190 380.4,186.7 378.3,184.3ZM380.4,186.7 380.1,190 380.9,191.1 385,190.6 384.5,186.3ZM385,190.6 385.7,191.2 389.2,190.3 389,186.3 384.9,186 384.5,186.3ZM394.7,185.7 393.6,186.8 393.8,190.1 394.5,190.6 398,189.9 398.7,186.1 398.6,185.9ZM416.9,190.2 419.8,191.1 421.9,189.2 421.8,187.1 420.5,186.1 417.3,186.4ZM375.9,190.7 374.8,192.8 377.2,195.2 380.5,195 380.6,195 380.9,191.1 380.1,190ZM380.9,191.1 380.6,195 385.3,194.9 385.4,194.8 385.7,191.2 385,190.6ZM385.7,191.2 385.4,194.8 390,195 390.3,194.6 389.7,190.7 389.2,190.3ZM394.4,194.6 394.6,194.9 398.2,195.1 399,191.1 398,189.9 394.5,190.6ZM398.5,195.4 403.2,195 403.5,194.8 402.9,191.3 399,191.1 398.2,195.1ZM407.3,189.9 403.1,190.9 402.9,191.3 403.5,194.8 407.3,195.2 407.7,190.4ZM407.3,195.2 407.4,195.3 411.7,195 411.8,195 411.8,191.3 407.7,190.4ZM411.8,191.3 411.8,195 416.3,195.1 416.4,195 416.2,190.9 412.6,190.5ZM420.5,193.9 419.8,191.1 416.9,190.2 416.2,190.9 416.4,195 419.9,195.1ZM375.5,199.2 376.5,200.2 381.2,199.8 381.3,199.6 380.5,195 377.2,195.2ZM389.9,198.9 390,195 385.4,194.8 385.3,194.9 385.7,198.9 389.4,199.3ZM394,199.3 394,199.3 394.6,194.9 394.4,194.6 390.3,194.6 390,195 389.9,198.9ZM394,199.3 398,199.9 398.8,199.2 398.5,195.4 398.2,195.1 394.6,194.9ZM403.2,195 398.5,195.4 398.8,199.2 402.5,199.8 402.8,199.5ZM407.4,195.3 407.3,195.2 403.5,194.8 403.2,195 402.8,199.5 407.4,199.3ZM412,199.3 411.7,195 407.4,195.3 407.4,199.3 407.6,199.6ZM411.8,195 411.7,195 412,199.3 412.6,199.9 416,199.7 416.3,195.1ZM380.9,204.2 385.6,203.9 384.7,199.8 381.3,199.6 381.2,199.8ZM385.7,198.9 384.7,199.8 385.6,203.9 386.1,204.4 389.5,204.1 389.4,199.3ZM389.5,204.1 389.8,204.2 393.4,204 394,199.3 389.9,198.9 389.4,199.3ZM394,199.3 393.4,204 394.1,204.5 397.9,204.4 398,199.9 394,199.3ZM398.8,199.2 398,199.9 397.9,204.4 398.3,204.7 402.8,204.2 403,203.9 402.5,199.8ZM407.4,199.3 402.8,199.5 402.5,199.8 403,203.9 407.6,203.3 407.6,199.6ZM412.6,199.9 412,199.3 407.6,199.6 407.6,203.3 408.6,204.2 411.8,204.1ZM412,204.3 416.6,204.4 417.1,203.7 416.2,199.8 416,199.7 412.6,199.9 411.8,204.1ZM416.2,199.8 417.1,203.7 421.4,203.4 421.8,201.6 419.7,199.2ZM375.7,204.7 376.5,208.7 380.9,208.1 380.9,208 380.7,204.5 376.6,203.8ZM380.9,208 385.1,208.2 386.1,204.4 385.6,203.9 380.9,204.2 380.7,204.5ZM388.9,209.4 390,208.4 389.8,204.2 389.5,204.1 386.1,204.4 385.1,208.2 385.7,209.1ZM393.4,204 389.8,204.2 390,208.4 393.8,209.1 394.1,204.5ZM397.9,204.4 394.1,204.5 393.8,209.1 394.5,210 398.3,208.1 398.3,204.7ZM403.7,208.4 402.8,204.2 398.3,204.7 398.3,208.1 401.3,210.6ZM408.6,204.2 407.6,203.3 403,203.9 402.8,204.2 403.7,208.4 407.3,209.1ZM412.6,208.6 412,204.3 411.8,204.1 408.6,204.2 407.3,209.1 407.4,209.1 411.8,209.3ZM417.1,203.7 416.6,204.4 417,208.1 420.3,208.7 422.1,206.6 422.2,204.9 421.4,203.4ZM380.9,208.1 376.5,208.7 375.5,210.1 376.5,212.7 381,213.1 381.1,213ZM385.1,208.2 380.9,208 380.9,208.1 381.1,213 384.7,212.9 385.7,209.1ZM384.7,212.9 385.5,213.7 389.4,213.6 389.8,213.3 388.9,209.4 385.7,209.1ZM394.4,212.3 394.5,210 393.8,209.1 390,208.4 388.9,209.4 389.8,213.3 393.4,213.4ZM407.4,209.1 407.3,209.1 403.7,208.4 401.3,210.6 401.2,211.5 403.7,214 407.4,212.9ZM411.6,213.8 412,213.3 411.8,209.3 407.4,209.1 407.4,212.9 407.9,213.4ZM416.1,212.9 415.8,209.1 412.6,208.6 411.8,209.3 412,213.3ZM420.9,212.3 421.2,211.5 420.3,208.7 417,208.1 415.8,209.1 416.1,212.9 416.6,213.3ZM376.4,217.5 380.7,217.2 381,213.1 376.5,212.7 375.1,215.8ZM385.1,218 385.5,213.7 384.7,212.9 381.1,213 381,213.1 380.7,217.2 381.3,217.9 384.9,218.1ZM389.2,218 389.4,213.6 385.5,213.7 385.1,218ZM389.8,213.3 389.4,213.6 389.2,218 391.5,220.2 391.5,220.2 394,216.9 393.4,213.4ZM398.7,213.4 394.4,212.3 393.4,213.4 394,216.9 398.4,217.8 398.9,217.3ZM403.7,214 401.2,211.5 398.7,213.4 398.9,217.3 403.3,217.5ZM403.5,217.7 406.8,218.1 407.6,217.5 407.9,213.4 407.4,212.9 403.7,214 403.3,217.5ZM420.5,217.6 422.3,216 420.9,212.3 416.6,213.3 416.7,216.8ZM380.3,222.2 381.3,217.9 380.7,217.2 376.4,217.5 376,221.4 378.3,223.7ZM385.3,222 384.9,218.1 381.3,217.9 380.3,222.2 384.7,222.8ZM389.8,222 391.5,220.2 389.2,218 385.1,218 384.9,218.1 385.3,222ZM398.4,217.8 394,216.9 391.5,220.2 394.2,222.2 397.5,222.2 398.1,221.5ZM398.9,217.3 398.4,217.8 398.1,221.5 402.8,222.1 403.5,217.7 403.3,217.5ZM402.8,222.1 402.9,222.2 407.5,222.9 407.9,222.5 406.8,218.1 403.5,217.7ZM416.6,216.9 416,221.8 416.4,222.1 419.7,222.1 420.7,220.8 420.5,217.6 416.7,216.8ZM380.7,226.9 385.1,226.3 384.7,222.8 380.3,222.2 378.3,223.7 378.2,224.5ZM385.1,226.3 385.6,226.8 389.5,226.4 389.8,222 385.3,222 384.7,222.8ZM389.8,222 389.5,226.4 391.7,228.3 393.5,226.9 394.2,222.2 391.5,220.2 391.5,220.2ZM397.5,222.2 394.2,222.2 393.5,226.9 398,227 398.5,226.3ZM398.1,221.5 397.5,222.2 398.5,226.3 402.2,226.1 402.9,222.2 402.8,222.1ZM411.9,227.5 412.6,226.6 411.7,221.8 407.9,222.5 407.5,222.9 407.4,226.2ZM375.2,227.3 376.8,231.1 380.4,231.2 380.6,231 380.7,226.9 378.2,224.5ZM380.7,226.9 380.6,231 385.2,230.7 385.3,230.7 385.6,226.8 385.1,226.3ZM391.8,230 391.7,228.3 389.5,226.4 385.6,226.8 385.3,230.7 389.4,231.6ZM402.2,226.1 398.5,226.3 398,227 398.3,230.8 398.6,231.1 402.3,230.4 403,226.9ZM407,230.9 407.8,231.5 411.7,230.7 412.1,230.1 411.9,227.5 407.4,226.2 406.7,227ZM376.5,235.8 380.6,236 381,235.6 380.4,231.2 376.8,231.1 375.3,233.2ZM385.2,230.7 380.6,231 380.4,231.2 381,235.6 384.9,235.7 385,235.6ZM412.3,235.2 416.2,235.2 416.1,231 412.1,230.1 411.7,230.7 412.2,235.2ZM421.7,232.5 421.4,231.7 417.4,230 416.1,231 416.2,235.2 416.9,235.9 420.2,235.4ZM376.5,240.5 380.5,239.9 380.6,236 376.5,235.8 374.8,238.8ZM381,235.6 380.6,236 380.5,239.9 380.9,240.4 385.6,240.1 385.7,240.1 384.9,235.7ZM388.7,235.1 385,235.6 384.9,235.7 385.7,240.1 389.3,240.5 389.5,240.3 389.8,236.2ZM389.5,240.3 394.2,240.2 394.3,235.8 394,235.4 389.8,236.2ZM398.6,235.8 394.3,235.8 394.2,240.2 394.4,240.4 398.4,240.6ZM422.2,238.2 420.2,235.4 416.9,235.9 416.2,239.6 416.6,240.1 419.8,240.7ZM380.9,240.4 380.5,239.9 376.5,240.5 376.4,244.9 377.9,246.4 380.9,243.7ZM384.6,244.7 385.6,240.1 380.9,240.4 380.9,243.7ZM389.5,244.3 394,244.8 394.4,240.4 394.2,240.2 389.5,240.3 389.3,240.5ZM377.9,246.4 378,247.5 380.5,249.5 383.9,248.9 385,245.1 384.6,244.7 380.9,243.7ZM385,245.1 383.9,248.9 387.3,251.4 389.5,248.4 388.7,245.3ZM403.3,245.1 403.2,249.1 407.2,249.2 407.4,248.9 407.2,245.1ZM411.9,249.5 416.6,248.8 416.7,245.4 416.1,244.8 412.3,244.6 411.7,245.1 411.5,248.9ZM394.6,253.9 398.8,253.9 398.8,249.4 398.5,249.1 394.2,249.9 393.7,252.9ZM394.5,258.2 398.1,258.6 401,256.2 401,256.1 398.8,253.9 394.6,253.9ZM375.4,267.3 379.8,267.1 380,262.9 376.4,262.2 375.7,262.6ZM375.4,267.3 374.5,268.2 375.9,271.4 380.2,271.5 380.5,267.8 379.8,267.1ZM380.3,280.7 384.8,280.4 384.3,276.7 380.6,276.1ZM380.1,294.5 376.1,294.3 375,296.5 376.5,298.8 380.7,298.9ZM378.5,305.3 380.5,303.1 380.7,299 380.7,298.9 376.5,298.8 375,302.8 378.3,305.3ZM376.2,312.3 379.6,312 380.4,307.8 378.5,305.3 378.3,305.3 374.5,309.3ZM380.4,348.3 380.3,351.4 383.9,348.5ZM420.5,217.6 420.7,220.8 424.5,221.5 426.1,218 423.9,216.2 422.3,216ZM467.8,170.7 468.3,171.2 472.5,170 467.8,168.1ZM449.9,176.2 454.1,174.8 455,173.7 455.7,173.6 455.5,171.9 452.3,169.2 447.8,170.3 447.2,171.7ZM510.9,204.3 508.8,202.2 506.7,202.7 505.2,206.2 505.4,207 508.1,208.1 510.6,206ZM434.7,210.9 434.8,211.6 437.1,213.1 440.3,211.4 439.5,209.9 436.5,209ZM432.3,180.1 430.4,181.5 430.1,183.9 432.9,186.2 435.5,182.1 435.2,181.4ZM492,264.6 490,264.2 488.3,267.4 488.5,267.7 491.3,268.4 492.9,266.8ZM468.9,176.8 469.2,177.3 474,177.6 474.4,177.3 474.8,176 472.5,173.7 469.3,173.7ZM430.3,171.8 427,169.5 423.3,171.6 422.6,173 422.8,173.8 427.4,176.6 429.6,175.6ZM461.5,181 463.8,184.8 464.5,184.8 466.4,182.9 466.2,181.3 462.9,179ZM431.8,164.7 434.2,168.7 439.7,167 440,166.5 439.1,163.7 437.3,162.5 435,163.7 431.8,164.7ZM470.6,181.5 469,183.9 469.9,186.4 473,186 473.4,182.4 472.9,181.8ZM443.5,184.3 446.9,184.8 448,182.8 446.2,179.8 443.6,181.3ZM439.5,209.9 440.7,205.6 439.6,204.4 439.2,204.4 436.1,207.2 436.5,209ZM477.1,255.6 476.6,255.3 474.1,255.9 473.2,257.4 475,260.2 475.2,260.2 476.6,259.3ZM463,176.8 468.9,176.8 469.3,173.7 466,173.7 463,176.7ZM467.8,170.7 463.1,172.5 463.1,172.6 463.7,172.5 468.3,171.2ZM440.7,171.6 443.1,173.2 447.2,171.7 447.8,170.3 446,166 440,166.5 439.7,167ZM421.8,187.1 426,186 426.4,185 424.9,181.7 421,183.1 420.5,186.1ZM427.2,200.7 424.5,199.8 421.8,201.6 421.4,203.4 422.2,204.9 426.2,204.4 427.9,201.7ZM469.2,187.4 471.5,191.6 472.3,191.9 473.9,190.7 474.1,186.8 473,186 469.9,186.4ZM553.8,171.9 558.8,171.8 559.7,166.8 557.3,163.9 555.7,163.9 550.4,169.1 550.4,169.2ZM568.4,151.1 568.8,150.6 564.9,144.7 561.3,146.8 561.7,152.5 561.7,152.6ZM431.6,190.2 429,192.9 431.5,195.1 433.5,194.3 434.1,192.2ZM438.2,192.1 441.1,193 443.7,191.7 443.2,188.7 442.9,188.3 439.8,188.3 437.7,191.4ZM569.1,188.7 571.6,189 573,187.5 570,186.7 569.6,185.8ZM438.5,185.8 439.1,184 438.7,183.1 435.5,182.1 432.9,186.2 433,186.5 435.2,187.3ZM427.1,323.7 423.9,324.3 423.1,327.9 425.2,328.7 427.7,327 427.7,324.2ZM502.9,211.3 505.7,212.8 508.5,209.9 508.1,208.1 505.4,207 503,209.6ZM439.2,204.4 435,202 432.9,205.6 436.1,207.2ZM570.8,164.4 576.9,160.6 573.9,157.3 568.5,157.8 568.2,158.2ZM438.5,238.3 440.6,240.2 442.6,239.6 444,237 444,236.7 441.4,234.8 440.6,234.8ZM528.4,175.5 528.8,176 532.5,176.7 535.7,172.3 531.1,169.6 528.7,171.8ZM446.7,250.9 447.6,248.5 446.8,246.9 444.8,246.4 442.3,249.6ZM543,166.5 547,170.6 550.4,169.2 550.4,169.1 548.9,163.9 543,166ZM433.6,170.6 430.3,171.8 429.6,175.6 432.1,176.9 435.9,175.5 436.1,173.9ZM460.3,186.9 461,186.9 463.8,184.8 461.5,181 459.9,181.5 459,183.6ZM423.3,171.6 421,167 417.5,167.5 418.9,165.8 418.3,165.9 416.5,168.2 417.6,172 422.6,173ZM440.6,180.2 440.1,178.1 437.1,177.1 435.2,181.4 435.5,182.1 438.7,183.1ZM448,182.8 446.9,184.8 447.4,187.1 448.8,188.2 449.2,188.2 450,185 450.4,182.8ZM492.9,231.4 494.9,230.7 495.4,228.6 494,226.8 491.5,226.8 491.3,227.2 491.2,230.6ZM574.7,152.9 578,151.7 576.4,145.9 572.9,145.9 569.9,150.3ZM426.5,190 423.9,191 423.6,192.9 425.6,194.9 426.9,194.7 428.5,192.9ZM581.1,152.4 580.6,152.6 578.9,159.2 581.7,157.5 586,156 586,155.9ZM428.9,202 433.4,199.7 431.1,197.1 428.5,197.6 427.2,200.7 427.9,201.7ZM448.8,188.2 447.4,187.1 443.2,188.7 443.7,191.7 444.2,191.9 447.1,191.6ZM438.7,217.5 441.7,213.8 440.9,211.7 440.3,211.4 437.1,213.1 437.1,215.9 438.3,217.4ZM454.9,242.7 451.9,241 451.2,241.2 450.4,245.2 451.8,246.6 454.7,244.8ZM452.3,169.2 452.4,168.7 446.1,165.7 446,166 447.8,170.3ZM477.6,179.2 477.5,178.7 474.8,176 474.4,177.3 477.1,179.3ZM433.2,154.9 437.5,152.5 430.5,153.3ZM434.2,168.7 431.8,164.7 427.3,167.6 427,169.5 430.3,171.8 433.6,170.6ZM441.7,249.8 441.7,249.8 442.3,249.6 444.8,246.4 443.9,244 440.4,244.4 439.9,247.4ZM449.7,176.7 449.9,176.2 447.2,171.7 443.1,173.2 442.7,175.8 446.3,179.3ZM436.1,336.4 435.9,334.6 433.4,332.5 430.5,335.4 431.7,337.2 435,336.7 435.8,336.8ZM545.6,173.2 545.6,173.2 547,170.6 543,166.5 538,169.2 537.2,172 537.8,172.4ZM568.8,150.6 569.9,150.3 572.9,145.9 570.2,141.1 564.9,144.6 564.9,144.7ZM577.5,144.8 576.7,143 574.6,138.1 570.8,138.8 570.2,141.1 572.9,145.9 576.4,145.9ZM423.9,197.2 425.6,194.9 423.6,192.9 420.5,193.9 419.9,195.1 420.5,196.2ZM576.4,145.9 578,151.7 580.6,152.6 581.1,152.4 582.6,150.3 579,148 577.5,144.8ZM439.3,198.6 439.4,198.1 437,195.9 435.3,196.2 433.5,199.7 434.7,201ZM553,178.5 554.4,178.9 559.4,177.3 560.1,173.2 558.8,171.8 553.8,171.9 552.4,177.9ZM563.6,180.2 560.2,178.6 558.7,182.5 559.3,183.6 562.4,184.1 563.7,183ZM521.1,217.1 523.1,216.2 523.6,213.6 522.1,212.4 520.5,212.7 519.3,215.5ZM448.7,240.5 447.8,240.9 446.9,242.1 448.4,245.1 450.4,245.2 451.2,241.2ZM458.3,167.1 452.5,168.7 452.4,168.7 452.3,169.2 455.5,171.9 458.9,168.5ZM449.9,176.2 449.7,176.7 451,178.7 454.1,174.8ZM555.7,163.9 557.3,163.9 559.6,159.3 557.6,158 555,161.7 553.8,162.1ZM432.2,209.3 430.6,210.1 430.2,214.1 430.3,214.2 432.1,214.8 434.8,211.6 434.7,210.9ZM557.3,163.9 559.7,166.8 564.6,165.6 563.9,159.1 562.1,158.3 559.6,159.3ZM347.1,174.7 346.7,170 341.4,169.8 341.2,169.9 341,175.6 341.7,176.2ZM532.6,214.1 535.3,211.5 531.7,208.6 530.1,209.2 530.2,212.7ZM459.7,187.4 460.3,186.9 459,183.6 457.6,187.3ZM464.2,209.8 461,208.7 459,210.2 459.2,212.3 462.4,213.3 464.5,211.8ZM576.9,160.6 570.8,164.4 570.3,166.2 571.9,167.7 574,164 577,160.6ZM430.2,153.3 422.3,154.2 422.7,156.1 426.8,158.4 427.3,158.2ZM492.1,209.4 496.8,208.5 496,207.2 495,208 492,209.3ZM512.8,215.3 511.5,212.8 507.9,214.8 509,217.2 509.5,217.4 512.6,215.9ZM437,195.9 439.4,198.1 441.3,196.5 441.1,193 438.2,192.1ZM431.1,205.2 427.6,207.9 427.5,208.4 430.6,210.1 432.2,209.3 432.8,205.7ZM526.1,213 523.6,213.6 523.1,216.2 525.3,217.4 527.7,214.5ZM440.8,201.2 439.6,204.4 440.7,205.6 444,206.2 444.2,206.1 445.5,203 444.5,200.7ZM424.9,181.7 426.4,185 430.1,183.9 430.4,181.5 427,179.1 425,181.1ZM517.4,234.5 521.2,234 520.9,230.9 517.4,230.9 516.8,233.8ZM535.7,172.3 537.2,172 538,169.2 537.2,167.5 531.7,169 531.1,169.6ZM440.3,211.4 440.9,211.7 443.5,210 444,206.2 440.7,205.6 439.5,209.9ZM440.6,234.8 441.4,234.8 443.6,229.9 443.6,229.7 439.9,229 438.2,232.8 438.3,233.2ZM565.5,179 566.6,174.4 565.4,173.2 560.1,173.2 559.4,177.3 560.2,178.6 563.6,180.2ZM564.9,144.6 570.2,141.1 570.8,138.8 568.2,135.8 562.1,138.5 561.9,139.5ZM568.2,135.8 568.1,134 566.7,134 562.5,136 562.1,138.5ZM455.5,171.9 455.7,173.6 463.1,172.6 463.1,172.5 460.9,168.8 458.9,168.5ZM521,218 521.1,217.1 519.3,215.5 516.9,215.7 516.6,217.8 518.6,220ZM432.1,214.8 430.3,214.2 427.3,218 429.1,219.8 432.8,219.6 432.6,215.5ZM458.9,168.5 460.9,168.8 463.1,166.2 462.5,166 458.3,167.1ZM431.5,188.7 427,187.9 426.5,190 428.5,192.9 429,192.9 431.6,190.2ZM435.3,196.2 433.5,194.3 431.5,195.1 431.1,197.1 433.4,199.7 433.5,199.7ZM468.9,176.8 463,176.8 462.9,179 466.2,181.3 469,179 469.2,177.3ZM532.7,206.4 531.7,208.6 535.3,211.5 536.4,211.5 536.7,211 536.7,206.3ZM449.7,176.7 446.3,179.3 446.2,179.8 448,182.8 450.4,182.8 451,178.7 451,178.7ZM516.6,217.8 516.9,215.7 516.4,215.3 512.8,215.3 512.6,215.9 513.3,218.7 514.8,219.1ZM532,198.5 529.2,199.2 528.2,203.1 528.3,203.3 531.9,203.8 532.9,202.5ZM427.3,158.2 433.2,154.9 430.5,153.3 430.2,153.3ZM446,166 446.1,165.7 442.5,164 443.3,160.6 442.3,160.4 439.1,163.7 440,166.5ZM461,186.9 460.3,186.9 459.7,187.4 459.2,191 462.8,192.5 462.8,192.5 464.1,190.1ZM426.2,204.4 427.6,207.9 431.1,205.2 428.9,202 427.9,201.7ZM472.9,181.8 473.4,182.4 476.3,182.2 477.1,179.3 474.4,177.3 474,177.6ZM462.9,268.1 463.6,267.1 462.4,264.2 460,264.3 459.1,268.2ZM485.9,239.2 485.9,238.7 482.1,235.9 482.1,235.9 480.6,239.5 480.8,240.4 482.8,241.8 484.3,241.4ZM431.3,245.4 435.3,247.5 436.8,242.9 435.1,241.1 433.8,241.2 430.9,243.9 430.9,244.7ZM561.3,146.8 564.9,144.7 564.9,144.6 561.9,139.5 561,145 560.7,146.6ZM468,192.3 466.1,189.4 464.1,190.1 462.8,192.5 466,195.2 467,194.8ZM422.7,156.1 420.4,159.3 422.2,162.1 424,160 426.8,158.4ZM426.3,209.2 425.8,210.8 426.3,212.4 430.2,214.1 430.6,210.1 427.5,208.4ZM421.3,178.1 425,181.1 427,179.1 427.4,176.6 422.8,173.8 421.1,176.9ZM445.9,235.5 444,236.7 444,237 447.8,240.9 448.7,240.5 449,237.1 447.7,235.7ZM568.2,135.8 570.8,138.8 574.6,138.1 574,136.7 571.7,134 568.1,134ZM507.9,214.8 511.5,212.8 511.6,211.8 508.5,209.9 505.7,212.8 506.2,214.1ZM486.6,234 487.5,236.8 490.5,237 490.9,236.7 491.4,235.3 489.6,233.2ZM428.5,197.6 426.9,194.7 425.6,194.9 423.9,197.2 424.5,199.8 427.2,200.7ZM410.7,264.9 407.2,262.6 404.2,263.7 403.7,266.4 407.5,268.2 410.7,265.4ZM423.3,171.6 427,169.5 427.3,167.6 426.2,166.2 421,167ZM432.9,205.6 435,202 434.7,201 433.5,199.7 433.4,199.7 428.9,202 431.1,205.2 432.8,205.7ZM444.5,242.9 446.9,242.1 447.8,240.9 444,237 442.6,239.6ZM545.6,196.2 545.4,195.8 543.1,194.9 540.3,197.2 541.2,198.7 544.3,199.5ZM438.6,269.7 440.1,266.2 436.6,264.8 434.9,267.9 435,268.1ZM444.8,246.4 446.8,246.9 448.4,245.1 446.9,242.1 444.5,242.9 443.9,244ZM435,202 439.2,204.4 439.6,204.4 440.8,201.2 439.3,198.6 434.7,201ZM528.3,203.3 527.6,208.6 530.1,209.2 531.7,208.6 532.7,206.4 531.9,203.8ZM580.6,152.6 578,151.7 574.7,152.9 573.9,157.3 576.9,160.6 577,160.6 577.5,160 578.9,159.2ZM534.4,184 536.8,184.9 538.9,182.9 538.1,179.6 533.7,179.2ZM478.1,184.2 478.3,184.2 477.6,179.2 477.1,179.3 476.3,182.2ZM451.8,246.6 451.6,248.4 452.3,249.7 456.7,249 456.8,248.8 456.8,247 454.7,244.8ZM461.5,181 462.9,179 463,176.8 463,176.7 461,178.7 459.9,181.5ZM450.4,245.2 448.4,245.1 446.8,246.9 447.6,248.5 451.6,248.4 451.8,246.6ZM423.9,216.2 426.3,212.4 425.8,210.8 421.2,211.5 420.9,212.3 422.3,216ZM435.9,175.5 437.1,177.1 440.1,178.1 442.7,175.8 443.1,173.2 440.7,171.6 436.1,173.9ZM419.7,199.2 421.8,201.6 424.5,199.8 423.9,197.2 420.5,196.2ZM469,179 470.6,181.5 472.9,181.8 474,177.6 469.2,177.3ZM425.5,223.8 424.5,221.5 420.7,220.8 419.7,222.1 420.8,225.5 425.2,224.3ZM342.7,204.1 347.2,204.6 347.9,204.1 348.9,199.1 347.9,198 342.3,199.7ZM581.1,152.4 586,155.9 586,152.5 582.6,150.3ZM427.1,233.7 427.2,233.8 431.8,235.7 433,235 433.3,231.4 430.6,230.7ZM427.3,218 426.1,218 424.5,221.5 425.5,223.8 428.4,223.2 429.1,219.8ZM426,186 421.8,187.1 421.9,189.2 423.9,191 426.5,190 427,187.9ZM442.3,160.4 442.2,159.8 437.3,162.5 439.1,163.7ZM566.6,174.4 565.5,179 567.6,180.1 567.9,174.6ZM348,146.1 353.2,147.3 354.3,146.1 348,145.5ZM380.6,195 380.5,195 381.3,199.6 384.7,199.8 385.7,198.9 385.3,194.9ZM479.2,256 478.5,255.6 477.1,255.6 476.6,259.3 479.9,260.3 480.4,259.5ZM568,189.3 569.1,188.7 569.6,185.8 569.3,185 567.6,183.8 566.1,184.3 565.8,188.7ZM443.9,244 444.5,242.9 442.6,239.6 440.6,240.2 439.4,243.2 440.4,244.4ZM493,234.5 495,235 496.9,233.5 497,233 494.9,230.7 492.9,231.4ZM499.6,206.6 498.9,204.9 496,207.2 496.8,208.5 497,208.5 499.6,206.6ZM478.1,184.2 476.9,186.2 478.1,188.3 478.7,187.5 478.3,184.2ZM401.2,211.5 401.3,210.6 398.3,208.1 394.5,210 394.4,212.3 398.7,213.4ZM412.6,208.6 415.8,209.1 417,208.1 416.6,204.4 412,204.3ZM432.1,176.9 432.3,180.1 435.2,181.4 437.1,177.1 435.9,175.5ZM427.4,176.6 427,179.1 430.4,181.5 432.3,180.1 432.1,176.9 429.6,175.6ZM434.1,192.2 433.5,194.3 435.3,196.2 437,195.9 438.2,192.1 437.7,191.4 437.1,191.2ZM536.8,206.1 536.5,202.1 532.9,202.5 531.9,203.8 532.7,206.4 536.7,206.3ZM454.1,253.4 452.2,249.9 450.2,251.7 450.3,254 452,254.9ZM539.3,178 542.6,178.1 545.6,173.2 537.8,172.4ZM440.4,244.4 439.4,243.2 436.8,242.9 435.3,247.5 435.4,247.7 439.9,247.4ZM389.1,258.2 390.1,262.5 393.7,262.3 394.3,258.4 389.6,257.6ZM437.1,215.9 437.1,213.1 434.8,211.6 432.1,214.8 432.6,215.5ZM427.3,167.6 431.8,164.7 431.8,164.7 427.5,166 426.2,166.2ZM419.6,181.2 421,183.1 424.9,181.7 425,181.1 421.3,178.1ZM447.7,235.7 449,237.1 451.7,236.7 452.2,235.5 451.2,233.8 449.7,233.4ZM551.5,183.7 554.9,184.2 556,182.3 554.4,178.9 553,178.5ZM538,169.2 543,166.5 543,166 543,166 537.2,167.5ZM442.3,160.4 443.3,160.6 443.7,159 442.2,159.8ZM412.6,190.5 416.2,190.9 416.9,190.2 417.3,186.4 416.9,186.2 412.3,186.8ZM380.7,204.5 380.9,204.2 381.2,199.8 376.5,200.2 376.6,203.8ZM422.2,204.9 422.1,206.6 426.3,209.2 427.5,208.4 427.6,207.9 426.2,204.4ZM369.6,165 364.8,163.7 363.7,169.3 364.8,170 370.1,169.1ZM428.5,192.9 426.9,194.7 428.5,197.6 431.1,197.1 431.5,195.1 429,192.9ZM567.6,183.8 569.3,185 568.1,182.5ZM447.4,187.1 446.9,184.8 443.5,184.3 442.8,184.9 442.9,188.3 443.2,188.7ZM466.2,181.3 466.4,182.9 469,183.9 470.6,181.5 469,179Z" fill="url(#hatch)" stroke="#000" stroke-width=".8"/>
<path d="M341,221.9 334.3,221.1 332.6,222.6 335,227.9 341.5,227ZM342.1,227.5 341.5,227 335,227.9 333.7,233.2 341.3,233.2ZM385,154.3 385.2,154 384.9,150.3 380.5,149.6 379.8,150.2 380.5,154.5ZM389,154.9 390.3,150.1 389.4,149.3 385.1,150.1 384.9,150.3 385.2,154ZM394.2,154.6 394.5,154.1 393.7,150.2 393.4,149.9 390.3,150.1 389,154.9 389.4,155.4ZM399.9,152 398.3,149.4 398.2,149.4 393.7,150.2 394.5,154.1 398.8,153.9ZM402.7,151.6 404.7,154.8 407.1,154.8 407.6,154.4 408.2,151.2 407.5,151 403.6,150.3ZM412,155 412.5,154.5 412,152.3 408.2,151.2 407.6,154.4ZM412.5,154.5 416.6,154.4 417.1,153.7 412,152.3ZM394.2,154.6 389.4,155.4 389.5,158.6 394,159.5 394.9,158.4ZM399.2,158.6 400.2,158 398.8,153.9 394.5,154.1 394.2,154.6 394.9,158.4ZM405.1,161.4 408.2,158.9 407.1,154.8 404.7,154.8 402.2,158.4 404.4,161.4ZM408.2,158.9 411.7,159.2 412,155 407.6,154.4 407.1,154.8ZM411.7,159.2 411.8,159.4 416.7,159.5 417,159.2 416.6,154.4 412.5,154.5 412,155ZM402.8,163.7 404.4,161.4 402.2,158.4 400.2,158 399.2,158.6 397.9,163.5 398.9,164.4ZM411.4,163.1 411.8,159.4 411.7,159.2 408.2,158.9 405.1,161.4 407.9,164ZM416.6,163.7 416.7,159.5 411.8,159.4 411.4,163.1 412.3,164.1ZM398.7,168.2 398.9,164.4 397.9,163.5 394.3,163.4 394.1,163.6 393.8,168ZM403.3,168.4 403.7,167.8 402.8,163.7 398.9,164.4 398.7,168.2 398.9,168.5ZM403.7,167.8 407.8,167.4 407.9,164 405.1,161.4 404.4,161.4 402.8,163.7ZM408.4,168.1 412.2,168.4 412.3,164.1 411.4,163.1 407.9,164 407.8,167.4ZM407.2,172.6 407.2,172.6 408.4,168.1 407.8,167.4 403.7,167.8 403.3,168.4 403.9,172.3ZM411.5,172.9 412.2,172.1 412.3,168.5 412.2,168.4 408.4,168.1 407.2,172.6ZM416.3,173.3 417.6,172 416.5,168.2 412.3,168.5 412.2,172.1ZM415.8,177.1 416.3,173.3 412.2,172.1 411.5,172.9 411.7,176.5 412.3,177.1ZM400.2,158 402.2,158.4 404.7,154.8 402.7,151.6 399.9,152 398.8,153.9ZM399.9,152 402.7,151.6 403.6,150.3 398.3,149.4ZM403.4,177.1 403,176.7 398.9,176.1 398.3,177 399.2,181.1 402.5,180.9Z" fill="none" stroke="#000" stroke-width=".8"/>
<path d="M341.3,233.2 333.7,233.2 332.9,234.1 333.2,238.5 342,239.2 342.2,234.2ZM333.2,238.5 332.9,239.5 338.9,245.1 341.3,244.9 342.1,239.4 342,239.2ZM376.4,244.9 371.3,244.3 370.2,245.3 370.7,250.1 370.9,250.3 374.5,250.5 378,247.5 377.9,246.4ZM341.5,268 341.2,273.3 342.3,274.3 347,274.1 347.6,268.2 342.3,267.4ZM341.2,273.3 334.5,273.9 336.8,279.9 341.3,279.6 342.3,274.3ZM342.3,274.3 341.3,279.6 341.9,280.2 347.4,279.9 347.4,279.9 347.2,274.3 347,274.1ZM341.7,285.7 342.3,285.2 341.9,280.2 341.3,279.6 336.8,279.9 334.8,282.9 335.9,285.5ZM347.8,285.1 347.4,279.9 341.9,280.2 342.3,285.2 347.3,285.7ZM353,285 353,279.5 347.4,279.9 347.4,279.9 347.8,285.1ZM359.9,285.9 364.8,285.7 365.1,285.4 364.8,279.6 359.4,279.5 359.2,279.8 359,284.9ZM364.8,279.6 365.1,285.4 370.4,284.9 371.2,280 365.1,279.4ZM370.4,284.9 371.2,285.9 376.3,285.7 376.3,280.7 375.5,280 371.4,279.9 371.2,280ZM342.3,285.2 341.7,285.7 341.7,291.2 341.9,291.3 347.3,291.2 347.5,291 347.3,285.7ZM347.5,291 353.3,290.9 353.4,285.3 353,285 347.8,285.1 347.3,285.7ZM359.2,290.8 364.7,292 365.8,290.8 364.8,285.7 359.9,285.9ZM364.8,285.7 365.8,290.8 370.6,291 371.1,290.6 371.2,285.9 370.4,284.9 365.1,285.4ZM334.4,290.9 335.5,296.9 341.3,297 341.9,291.3 341.7,291.2 334.7,290.6ZM341.3,297 341.7,297.5 347.7,297.3 347.7,297.3 347.3,291.2 341.9,291.3ZM370.6,291 365.8,290.8 364.7,292 364.8,296.9 370.2,297.2ZM370.3,297.3 375,296.5 376.1,294.3 375.1,291.5 371.1,290.6 370.6,291 370.2,297.2ZM335.5,296.9 334,298.8 336.7,303.7 341.5,303 341.7,297.5 341.3,297ZM341.7,297.5 341.5,303 342,303.4 347.6,303.3 347.8,303.1 347.7,297.3ZM347.8,303.1 353.9,302.8 354,302.7 353.5,297.1 347.7,297.3 347.7,297.3ZM364.8,296.9 364.4,297.2 364.8,303.2 365.3,303.7 371.1,302.7 370.3,297.3 370.2,297.2ZM376.5,298.8 375,296.5 370.3,297.3 371.1,302.7 371.4,303 375,302.8ZM342.2,308.4 342,303.4 341.5,303 336.7,303.7 334.3,308.7 341.5,309ZM347.2,309.2 348.2,308 347.6,303.3 342,303.4 342.2,308.4ZM364.8,303.2 359.6,303.9 359.3,308.7 359.6,309 365.1,309.3 365.6,308.8 365.3,303.7ZM365.6,308.8 365.1,309.3 365.3,314.5 370.3,315.1 370.8,309ZM370.8,309 370.3,315.1 370.8,315.6 375.1,314.5 376.2,312.3 374.5,309.3 371.2,308.7ZM358.5,320 353.3,319.8 352.8,320.3 353.6,326.2 358.4,325.7 359.1,320.7ZM370.3,343.7 370.4,343.6 370.6,338.1 364.6,337.7 365.1,343.7 365.2,343.8ZM370.7,338.1 370.6,338.1 370.4,343.6 375.7,343.3 375.7,343.2 376.1,339.1 375.1,337.8ZM371.2,349.9 370.7,354.7 371.1,355.2 374.9,356.1 376.9,352.8 374.8,349.5 371.2,349.8ZM364.7,355.3 359.1,355.5 358.9,355.7 358.8,361.1 364.6,361.3 365.3,360.5 364.8,355.3ZM370.5,361.2 370.5,366.6 370.6,366.7 375,366.6 375.3,366.3 375.9,362.2 374.9,361.1ZM365,366.2 364.1,367.1 365,368 370.4,368.9 370.6,366.7 370.5,366.6ZM375,366.6 370.6,366.7 370.4,368.9 375.9,369.9ZM412.2,217.2 411.8,217.8 412,221.5 416,221.8 416.6,216.9ZM412.6,226.6 415.9,226 416.4,222.1 416,221.8 412,221.5 411.7,221.8ZM389.4,231.6 385.3,230.7 385.2,230.7 385,235.6 388.7,235.1ZM394,235.4 393.8,231.8 391.8,230 389.4,231.6 388.7,235.1 389.8,236.2ZM398.6,231.1 398.3,230.8 393.8,231.8 394,235.4 394.3,235.8 398.6,235.8 399.4,235.1ZM398.5,240.6 398.4,240.6 394.4,240.4 394,244.8 394.1,244.9 398.4,245.5 398.7,245.1ZM407.5,240.3 403.4,240 403.1,240.3 403.1,244.8 403.3,245.1 407.2,245.1 407.7,244.6ZM388.7,245.3 389.5,248.4 393.3,248.7 394.1,244.9 394,244.8 389.5,244.3ZM383.9,248.9 380.5,249.5 380.5,253.6 384.6,254.5 387.3,251.6 387.3,251.4ZM398.8,249.4 398.8,253.9 401,256.1 403.5,253.6 402.9,249.5ZM403.2,249.1 402.9,249.5 403.5,253.6 407.3,253.8 407.5,253.6 407.2,249.2ZM375.8,253.7 374.5,256.5 376.6,258.1 379.8,257.3 380.3,253.8ZM389.8,253.8 387.3,251.6 384.6,254.5 385,258.1 385.6,258.5 389.1,258.2 389.6,257.6ZM401,256.1 401,256.2 402.9,258.5 407.3,258.6 407.4,258.5 407.3,253.8 403.5,253.6ZM407.5,253.6 407.3,253.8 407.4,258.5 411.3,258.6 412.2,257.6 411.6,253.4ZM416.9,257.7 421.2,257.9 421.3,257.9 421.1,253.2 420.8,252.9 416.7,253.7ZM412.2,262.8 411.3,258.6 407.4,258.5 407.3,258.6 407.2,262.6 410.7,264.9ZM380.6,262.5 380,262.9 379.8,267.1 380.5,267.8 384.8,267.2 384.8,263.5ZM394,267.1 394,262.7 393.7,262.3 390.1,262.5 389.5,263.2 390,266.8ZM384.8,267.2 380.5,267.8 380.2,271.5 380.7,272.2 384.4,272 385.2,271.1 385.1,267.5ZM389.8,271.3 393.3,271.5 394.1,267.2 394,267.1 390,266.8 389.3,267.4ZM398.3,267.5 394.1,267.2 393.3,271.5 393.8,272 397.8,272 398.4,271.3ZM403.1,271.9 402.6,267.1 398.9,266.9 398.3,267.5 398.4,271.3ZM403.4,272.2 407.4,271.3 407.5,268.2 403.7,266.4 402.6,267.1 403.1,271.9ZM380.6,276.1 384.3,276.7 385.4,275.7 384.4,272 380.7,272.2 380.2,275.6ZM384.4,272 385.4,275.7 389,275.7 389.2,271.9 385.2,271.1ZM420.6,271.6 417.5,271.7 416.7,272.4 416.4,276 416.5,276.2 421.6,276.4 422,276.1ZM377,276.1 375.5,280 376.3,280.7 380.2,280.8 380.3,280.7 380.6,276.1 380.2,275.6ZM385.5,281 384.8,280.4 380.3,280.7 380.2,280.8 380.9,285 384.8,284.8ZM389.9,285.1 389.7,280.7 389.3,280.4 385.5,281 384.8,284.8 385.5,285.7 389.2,285.7ZM402.8,285.1 403.1,280.6 398.7,280.6 398.7,280.6 399,285.2 399.1,285.4 402.3,285.5ZM380.6,294 380.5,289.6 378.7,287.9 375.1,291.5 376.1,294.3 380.1,294.5ZM416,289.9 416,294 416.6,294.5 420,294.3 420.9,291.9 418.3,288.2ZM385,294.2 380.6,294 380.1,294.5 380.7,298.9 380.7,299 384.4,298.5ZM389.4,298.5 389.7,298.1 389.5,294.9 389.3,294.7 385.3,294 385,294.2 384.4,298.5 384.8,298.9ZM389.6,302.8 390.2,303.3 394.1,302.9 394.4,298.7 389.7,298.1 389.4,298.5ZM403.2,303.1 403.5,303.4 407,303.2 407.4,302.7 407.3,298.4 403.1,298.8ZM380.4,307.8 384.4,308 385.2,307.1 384.9,303.7 380.5,303.1 378.5,305.3ZM390,308.1 394.1,308.1 395.5,304.1 394.1,302.9 390.2,303.3 389.6,307.5ZM394.1,308.1 390,308.1 389.4,311.7 389.5,312 393.4,313 395.7,310.6ZM384.9,315.9 384.8,311.9 380.1,312.5 380.9,316.5ZM388.6,316.3 389.5,312 389.4,311.7 385,311.6 384.8,311.9 384.9,315.9 385.8,316.6ZM398.2,316.6 398.7,312.2 397.5,310.7 395.7,310.6 393.4,313 394.1,316.8ZM398.6,316.9 402.6,317.1 402.8,316.9 403.3,312.6 403.1,312.4 398.7,312.2 398.2,316.6ZM398.5,321.2 399,321.8 403.1,321 403.1,321 402.6,317.1 398.6,316.9ZM380.2,326.1 380.6,321.6 375.8,320.8 375.3,325.2 378.6,327.7ZM389.3,321.5 389.2,325.9 389.4,326.1 394.3,325.4 394,321.4 393.7,321ZM394.3,325.4 396.1,327 398.9,324.9 399,321.8 398.5,321.2 394,321.4ZM398.9,324.9 403.1,326 403.4,325.8 403.1,321 399,321.8ZM407.8,322 407.1,325.4 408,326.3 412.2,326.1 412,321.6ZM416.2,321.5 412.2,321.4 412,321.6 412.2,326.1 412.3,326.1 416.9,325.7ZM384.7,326 380.2,326.1 378.6,327.7 378.6,328.2 380.5,330.2 384.8,330.1ZM389.5,329.7 389.6,329.8 393.9,330 396.2,327.9 396.1,327 394.3,325.4 389.4,326.1ZM408,326.3 407.1,325.4 403.4,325.8 403.1,326 402.7,329.8 402.8,329.9 407.8,330.3ZM412.2,326.1 408,326.3 407.8,330.3 408.1,330.6 411.9,330.4 412.5,329.8 412.3,326.1ZM416.9,325.7 412.3,326.1 412.5,329.8 416.5,330.3 416.9,330 416.9,325.7ZM416.9,330 420.7,330.4 421.9,328.3 419.4,325.5 416.9,325.7ZM398.9,335 403.7,334.8 402.8,329.9 402.7,329.8 398.9,330.5 398.1,334.1ZM402.8,329.9 403.7,334.8 404.3,335.3 407,334 407.7,333.9 408.1,330.6 407.8,330.3ZM411.9,330.4 408.1,330.6 407.7,333.9 412.4,333.2ZM389.2,339.2 393.6,339.1 394.1,334.7 394,334.6 390,333.7 388.6,334.9ZM403.7,334.8 398.9,335 399.1,338 404.3,335.3ZM382.5,341.5 380.3,338.7 376.1,339.1 375.7,343.2 381.3,343.1 382.4,342.1ZM385.2,344.3 382.4,342.1 381.3,343.1 380.3,348.1 380.4,348.3 383.9,348.5 385,347.5ZM376.9,352.8 374.9,356.1 375.8,357.3 376.1,357.3 376,356.7 379.1,352.8ZM375.8,357.3 374.9,361.1 375.9,362.2 376.7,362.1 376.7,361.7 376.1,357.3ZM375.3,366.3 375,366.6 375.9,369.9 376.7,370 376.7,366.3ZM512.9,241.4 514.6,241.7 516.1,240.8 515.8,238 513.1,237.4 512,240.3ZM476.3,224.6 476.9,224.8 480.1,222.1 480.1,221.5 477.4,220 474.9,221.6ZM521.7,340.4 522.3,340.4 524.4,339.1 523,336.7 520.2,333 518.3,334.2ZM509,338 513,340.5 514,339.9 515.9,334.2 515.3,333.6 509.7,334.4ZM518,356.8 519.6,354.2 515.2,350.8 513.8,351.6 512.8,354.5 514.3,356.6ZM505.7,340.1 507.2,344.5 509.8,345.2 511.8,344.3 513,340.5 509,338 506.4,338.7ZM564,189.3 563.2,193 565,194.4 566.5,194.4 568.4,191.9 568,189.3 565.8,188.7ZM531.5,230.6 533.5,232.4 534.4,232.4 536.5,229.3 534.7,227.5 533,228ZM516.5,249.2 513.4,246.7 511.4,249.1 513,251.6 515.5,251.2ZM490.5,237 487.5,236.8 485.9,238.7 485.9,239.2 489.8,241.3ZM503.1,334.3 501.3,329.3 499.4,329.1 498.5,329.8 500,331 502.7,334.6ZM455.6,253.8 457.1,252.9 457.4,252.2 456.7,249 452.3,249.7 452.2,249.9 454.1,253.4ZM539.5,227.5 542.6,227.3 543.6,225.4 543.5,224.4 539.7,222.9 538.3,224.3ZM511.8,192.7 508.4,196 508.5,197.4 509.7,198.8 512.7,198.5 513.7,197.6 512.5,192.9ZM544.6,268.5 545,268 546.4,265.3 544.1,264.6 543.7,268.4ZM517.9,194.2 520.6,196.5 523.6,194.5 523.8,193.5 522.1,191.4 519.2,192.1 517.9,194.1ZM527.6,352.6 527.3,351 523.5,347.8 521.9,348.3 520.2,354 522.7,354.9ZM512.7,198.5 514.3,202.3 518.7,200.9 518.8,200.8 515.7,197.5 513.7,197.6ZM437.3,281.6 439.2,280.6 439.2,276.6 438.2,276 435,277.6 434.8,278.1ZM505.7,340.1 506.4,338.7 503.4,334.4 503.1,334.3 502.7,334.6 503,335 503.8,340.4ZM423.9,334.1 427.6,336.2 428.3,334.9 427.1,333 426.5,332.8 424.3,333.4ZM443.3,218.8 441,219.7 440.8,222.2 441.7,223.6 442.5,223.9 445.6,222.7 445.7,220.3ZM432,298.6 427.5,299.3 426.9,300.9 428.5,303.1 431.9,303.1 432.9,302 432.9,299.8ZM508.5,225.8 509.9,227.7 512.9,226.5 511.3,223.5 509.6,223.5ZM507.4,233.8 505.5,233.1 503.1,234.5 503.7,236.8 507.1,236.5ZM461.1,281.4 457.5,281.6 457.4,284.8 458.8,285.5 461.9,283.7ZM434,254 433.7,258.4 437.4,258.2 439.2,256.2 437.8,253.1ZM513,340.5 511.8,344.3 516,347.4 518.2,346.6 519.2,341.7 514,339.9ZM503.5,250.3 505.8,253.2 508.4,251.8 508.8,249.3 506.5,248.4ZM465.1,233.3 465.1,233.3 462.7,230 460.7,230.8 460.4,231.4 461.9,234.9ZM499.3,274.4 499.3,276 501.2,277.1 504.6,274.8 502.9,271.9 501.3,271.6ZM470,195.9 472.4,193.4 472.3,191.9 471.5,191.6 468,192.3 467,194.8ZM452.9,307.4 454,307.1 454.1,306.9 454,303.5 451.5,303.3 450.6,304.3 450.7,306.2ZM457.7,260.3 457.9,257.4 455.6,256.6 454.1,257.9 456,260.6ZM491.1,311.2 490.3,313.2 490.8,314.1 494.8,314.4 495.4,312.5 494.5,310.5ZM530.9,257.3 527,257.6 526.6,258.2 527,260 530.8,260.9 531.2,260.8 531.8,259ZM508.2,244 507.7,242.9 507.3,242.7 503.9,243.2 503.3,245.2 503.8,245.9 505.8,246.3ZM455.3,286.1 454.3,285.9 452,286.7 451.6,287.5 452.1,290.1 452.9,290.7 456.3,289.6ZM475.9,229.9 476.7,230 478.1,229.3 478.4,226.6 476.9,224.8 476.3,224.6 473.4,226.8ZM482.8,241.8 482.2,245 482.9,246 484.8,246.3 487.4,244.2 484.3,241.4ZM500.6,288.4 500.5,288.5 500,292 500.3,292.4 504.5,292.3 505.3,291.6 504.1,288.2ZM466.1,228.4 465.3,227.9 463.4,228.6 462.7,230 465.1,233.3 466.8,231.7ZM504.3,288 504.1,288.2 505.3,291.6 506.9,291.9 508.1,291.4 509.8,288.3 509.5,287.4 507.7,286.4ZM486.9,292.2 487.7,291.5 488,287.9 486,287.6 484,289.2 485.6,291.7ZM496,216.2 493.2,217.3 492.8,219.2 494.2,220.6 496.1,220.3 496.9,219.2ZM508.4,251.8 505.8,253.2 505.5,254.4 505.7,254.8 509.1,256.9 509.3,256.8 510.5,253.3ZM480.2,216.7 479.3,213.5 475.1,215.4 474.9,216.2 477.6,218.1ZM546.9,218.2 549.4,217.8 550.2,214.2 548.8,213.1 546.1,214.9ZM437,298.7 439.5,300.1 440.6,299 441.1,294.1 436.8,295.3ZM461.9,240.8 463.5,238.2 461.6,235.3 459.8,236 458.7,238.7ZM458.4,269 460.4,271.4 463.3,270.8 462.9,268.1 459.1,268.2 458.6,268.7ZM485.2,306.9 482.9,305.8 482.7,305.8 480.8,308.1 481.1,309.3 484.6,310.2 484.7,310.1ZM446.1,264.1 447.3,261.2 447.2,261 444.5,259.6 442.9,260.3 441.9,262.2 442.3,263.9ZM477.2,207.8 477.5,207.6 478.6,204.1 475.9,202.8 474.3,203.7 474.3,207.1ZM495.4,326 493.8,324.6 492.2,325.3 492.1,325.7 494,326 495.1,326.9ZM472.4,253.9 473.4,251.4 473.3,251.3 470.6,250.7 468.9,252.5 470.4,254.3ZM531.2,260.8 530.8,260.9 527.8,264.6 529.7,265.7 532.5,265 533,263ZM448.6,213.7 446.5,212.6 444,214.9 444.4,216.2 447.8,217.1 448,216.9ZM541.9,235.3 541.8,235.3 541,237.2 542.4,240.3 542.6,240.2 543.8,239.3 543,236.7 543.2,235.9ZM548.8,259.6 549.2,259.6 550,258 548.7,256.1 548.4,256.1 547.7,257.4ZM436.3,323.5 439.4,321.8 437,317.5 434.7,318.6 433.4,322.1ZM470.6,278 470.6,277 468.6,274.6 466,275.7 465.7,277.2 467.5,279.7ZM499.2,245.9 498.7,246 497.4,247.9 498.3,250.6 502,249.5ZM473.4,182.4 473,186 474.1,186.8 476.9,186.2 478.1,184.2 476.3,182.2ZM438.2,261.6 437.4,258.2 433.7,258.4 432.9,258.9 433,262.1 436.3,263.6ZM480.4,297.3 479.6,300 480.5,301.5 483.4,301.1 483.9,298.8 483.1,297.7 480.6,297.2ZM452,225.6 450.3,226.7 449.6,229.4 453.4,230.7 454.9,229.1 452.6,225.6ZM522.3,340.4 524.4,345.6 527.8,344.6 524.4,339.1ZM466.6,251.1 467.7,247.9 467.6,247.7 464.2,247.5 463.3,249.3 464.2,250.7ZM449.5,283.6 449.5,283.6 447,286.8 448.2,288.1 451.6,287.5 452,286.7ZM498.9,231.8 497,233 496.9,233.5 499.3,236.2 501.7,233.6 501.1,232.2ZM493.9,260.3 491.2,259.9 488.9,262 488.9,262 490,264.2 492,264.6 494.2,263ZM539.7,221.5 539.7,222.9 543.5,224.4 544.9,222.1 542.2,219.8ZM502.7,238.5 499.3,236.6 497.5,238.4 498.1,240.8 500,241.6 502.1,240.7 502.8,239.4ZM522.4,289.7 525.5,287.9 525.7,287.5 524.6,285.7 521.5,286.1 521.4,288.9ZM506.9,291.9 507.8,296.5 510,296.6 511.8,293.8 511.7,293.8 508.1,291.4ZM491.4,235.3 490.9,236.7 493.7,238.8 495.5,237.7 495,235 493,234.5ZM469.5,313.5 468.4,313.7 467.9,314.2 469.5,318.6 471.2,318.7 471.7,318.2 471.8,315ZM512.4,235.8 513.9,233.8 512.5,231 512.2,231 508.9,233.1 511.7,235.8ZM447.8,217.1 444.4,216.2 443.3,218.8 445.7,220.3 447.4,219.5ZM487.3,295 486.9,292.2 485.6,291.7 482.5,293.5 484.1,295.5 487.1,295.2ZM518.7,205 516.2,206.5 516.1,207.1 517.8,210.3 521.4,208.1 521.5,206.5ZM496.3,308.5 496.2,306.3 494,305.3 492.2,307.2 494.6,310ZM454.9,229.1 455.9,229 456.6,228.4 457,224.7 453.6,224.7 452.6,225.6ZM444,206.2 443.5,210 446.2,211.4 447.6,209.4 446.8,207.2 444.2,206.1ZM437.3,281.6 433,283.4 432.7,285.2 434,286.7 437.1,287.3 438.5,286ZM527.3,351 527.6,352.6 529.1,353.9 531,354 531,353 529.3,348.5ZM490.2,295.8 491.8,293.7 491.4,291.5 487.7,291.5 486.9,292.2 487.3,295ZM455.2,261.9 456,260.6 454.1,257.9 453.5,258 451.8,260.7 452.1,262 452.4,262.2ZM468.3,238.6 471.2,239.9 472.3,239.6 472,236.3 469.4,235.6ZM441.8,335.9 441.5,336.8 446,338.8 446.8,336.5 444.9,334.1ZM529.2,225.6 529.2,221.5 526,222 525.8,224.7ZM517.6,275.1 515.6,272.2 514,272.8 513.3,275.2 513.7,276.1 516.4,277.1ZM435,277.6 438.2,276 437.7,273.2 433.2,272.5 432.6,273.6ZM517.4,289.9 516,290.5 515.8,294 518.1,294.9 519.7,293.1ZM429,273.8 427.5,271.2 425,272.2 424.6,276.2 426.2,276.2ZM502.3,255 501.7,258.1 502.8,258.7 504.7,258.1 505.7,254.8 505.5,254.4ZM460.1,244.6 456.8,247 456.8,248.8 460.8,248.9 460.9,245.3ZM539.6,267.7 540.8,265 539.5,262.7 536.7,264.2 536.7,266.8 537.4,267.5 539.5,267.7ZM427.9,258.9 425.8,255.5 422.4,258 426.5,261.5ZM469.6,210.7 468.4,208.5 465.3,208.5 464.2,209.8 464.5,211.8 466.4,213.1ZM483.5,321.4 483.8,321.4 486.4,318.8 486.3,317.9 483.8,316.8 482,317.8ZM458.6,204.6 460.8,204.7 461.2,204.3 460,200 457.5,200.1 456.6,202.3ZM426.2,295.2 428.6,294 429.4,290.7 428.4,289.3 425.1,288.8 423.9,291ZM481.8,325.5 485.4,325.8 485.9,325.4 485.6,322.8 483.8,321.4 483.5,321.4 481.3,323.1 481,324.6ZM528.3,218.7 525.6,218.5 524.7,220.6 526,222 529.2,221.5 529.4,221.3ZM495.1,213.2 492.3,212.5 490.3,214.1 490.3,215.1 493.2,217.3 496,216.2 496.3,215.3ZM422.4,258 421.3,257.9 421.2,257.9 420.7,263.1 421,263.3 425.5,262.8 426.5,261.9 426.5,261.5ZM498.7,246 499.2,245.9 499.9,245 500,241.6 498.1,240.8 495.4,242.5 495.1,243.6ZM503.7,236.8 502.7,238.5 502.8,239.4 506.1,240 507.8,237.5 507.1,236.5ZM469.5,225.8 471.8,225.6 471.9,223.1 469.6,221.9 468.4,224.7ZM469.8,232.6 472.8,232.2 473,231.8 471.7,229 469.8,229.2 469,231.8ZM472.4,245 472.8,244.8 474.1,240.4 472.3,239.6 471.2,239.9 469.6,242.8 470.2,244ZM495.4,242.5 498.1,240.8 497.5,238.4 495.5,237.7 493.7,238.8 493.6,239.9ZM512.5,231 513.6,229.9 513.5,226.7 512.9,226.5 509.9,227.7 509.7,228.7 512.2,231ZM549.3,210 548.4,211.7 548.8,213.1 550.2,214.2 551.1,214.1 551.7,211.7 550.8,209.9ZM509.8,345.2 509.4,349.9 513.8,351.6 515.2,350.8 516,347.4 511.8,344.3ZM418.8,286.5 418.3,288.2 420.9,291.9 423.9,291 425.1,288.8 424.7,288 419.7,286.1ZM515.7,197.5 518.8,200.8 520.2,200.2 520.8,199.4 520.6,196.5 517.9,194.2ZM449.1,295.6 447.6,295.4 445.4,297.6 445.3,298.3 449.1,299.9 450.5,299.4 450.6,298.3ZM464.5,217 464.8,217.9 467.7,218 469.4,215.8 466.6,213.8ZM483.5,198.2 480.9,201.5 481,202.8 483.8,203.1 484.8,199ZM539.9,201.9 536.8,201.8 536.5,202.1 536.8,206.1 539.4,206.2 541.1,203.5ZM476,200.2 475.9,202.8 478.6,204.1 480.6,203.3 481,202.8 480.9,201.5 478.4,198.7ZM471.9,272.3 474,269.6 473.6,268.9 471.9,268.1 469.4,269.1 469.2,272.6ZM555.2,187.3 555.9,189.4 558.6,190.3 560.2,188.3 558.2,185.9 555.7,186.2ZM457.4,281.5 457.5,281.6 461.1,281.4 462.4,279.3 462.4,279.3 461.4,277.9 458.8,277.1ZM527.6,241.9 526.7,243.1 527.1,244.9 528.9,246.1 531.2,245.7 531.3,245.6 531.1,242.1ZM477.1,251.1 477.2,248.4 476.1,247.9 473.6,249.1 473.3,251.3 473.4,251.4 476,252.1ZM509.2,276.4 510.1,275.1 509.4,272 508.5,271.4 505.4,275.1 505.4,275.1ZM452.2,235.5 451.7,236.7 452.7,238.8 455.6,237.8 455.3,235.1ZM442.5,223.9 444.7,228.1 445.1,227.9 447.4,225 447.3,223.8 445.6,222.7ZM494.8,314.4 495.2,315.9 498.8,316.4 499.8,315.2 498.4,312.2 495.4,312.5ZM499.4,329.1 497.6,325.7 495.4,326 495.1,326.9 498.5,329.8ZM486.8,306.3 487,302.5 484.4,302.1 482.9,305.8 485.2,306.9ZM509.8,316.2 510.4,316.1 512.3,313.5 510.8,310.8 507.8,311.8 507.5,312.5ZM501.3,271.6 502.9,271.9 505.1,270.1 504,267.3 503,267.1 501.8,267.7 501.3,271.5ZM529.7,265.7 527.8,264.6 527.8,264.6 526.3,268.5 526.7,269.3 529.3,270.2 530.1,269.1ZM434.9,267.9 430.7,265.6 428.8,268.5 433.1,271.5 435,268.1ZM565,194.4 563.2,193 560.3,194 561.8,198.5 562.1,198.7 564.4,196.9ZM515.6,189.3 512,190 510.6,190.8 511.8,192.7 512.5,192.9 514.3,192.4ZM495.6,276.2 498.3,276.6 499.3,276 499.3,274.4 496.2,272.3 494.8,272.6ZM513.5,313.5 513.7,310.5 514.2,309.1 511,309.9 510.8,310.8 512.3,313.5ZM441.7,249.8 439.9,247.4 435.4,247.7 435.2,248.8 437.9,252.8ZM482.4,190 477.9,190.7 477.6,191.5 478.4,192.8 482.1,192.7ZM478.4,226.6 478.1,229.3 480.5,230.6 482.6,230 483.3,227.9 482.2,225.6ZM500.1,294.9 502.2,296.7 503.9,296.4 504.5,292.3 500.3,292.4ZM500.3,284.4 500.6,288.4 504.1,288.2 504.3,288 503.2,283.7ZM518.1,245.1 521.4,246.2 522.1,245.6 522.4,243.4 519.3,241.2 518.8,241.5 518,244.8ZM468.3,204.1 468.5,200.1 464.9,198.7 463.7,203.9 464.8,204.6ZM514.7,226.3 513.5,226.7 513.6,229.9 517.1,230.2 517.7,227.3ZM533.5,232.4 531.7,235.1 533.5,237.5 536.3,234.4 534.4,232.4ZM442.6,329.8 442.1,329.9 440.5,333.2 441.8,335.9 444.9,334.1 443,331.7 443.9,330.7ZM466.6,251.1 467.3,252.3 468.9,252.5 470.6,250.7 469.9,248.5 467.7,247.9ZM512.7,198.5 509.7,198.8 508.8,202.2 510.9,204.3 513.7,203.6 514.3,202.3ZM487.2,219.7 486,218.2 482.3,219.3 482.3,219.4 484.7,222.2 486.7,221.3ZM436.1,303.6 432.9,302 431.9,303.1 432,307.8 432.4,308 435.8,307ZM491.7,318.5 494.3,317.8 495.2,315.9 494.8,314.4 490.8,314.1 489.9,316.5 490.7,318.1ZM480.9,208.8 481,211.9 484.7,212.7 485,212.5 481,208.7 481,208.7ZM449,273.3 449.6,276.2 452,276.8 453.9,274.7 453.9,274.6 452.4,272.5 450.4,272.4ZM474,314.2 471.8,315 471.7,318.2 475,317.7 474.8,314.6ZM449.5,213.5 452.2,215.5 452.6,215.2 449.7,213.2ZM504,317 505.2,316.1 505.7,313.4 502.8,311.7 501.7,314.9ZM506.1,219.1 509,217.2 507.9,214.8 506.2,214.1 504.1,217.3 504.4,218.4ZM488.4,287.6 488.5,284 488.4,283.9 484.8,284.9 486,287.6 488,287.9ZM508.5,271.4 509.4,272 511.9,271.5 512.7,268.3 511.6,267.2 508.6,268.1 507.9,270.4ZM498.1,304.9 498.4,303.5 496.5,302.1 493.7,303.3 494,305.3 496.2,306.3ZM556.7,200.8 561.7,199 562.1,198.7 561.8,198.5 556.6,199.1ZM483.4,254.1 484.4,253.8 485.3,251.4 485,250.6 481.9,249.3 481.4,249.6 480.5,251.9ZM511.2,244.6 512.9,241.4 512,240.3 510.1,240.1 507.7,242.9 508.2,244 509.2,244.7ZM524.4,345.6 523.5,347.8 527.3,351 529.3,348.5 528,345 527.8,344.6ZM443.5,254.5 446.5,252.8 446.9,251.2 446.7,250.9 442.3,249.6 441.7,249.8ZM444.8,301.9 444.6,299 440.6,299 439.5,300.1 439.5,300.9 443.4,303.2ZM457.2,221.1 457.5,219.7 456.2,217.5 454,217.9 452.9,220.6 453.8,221.4ZM441.7,271.6 439.3,271.3 437.7,273.2 438.2,276 439.2,276.6 441.7,276.3 442.7,273ZM515.3,333.6 515.9,334.2 518.3,334.2 520.2,333 518,330 516.9,327.7 515.2,328.1 514.2,329.2ZM480.6,239.5 482.1,235.9 479.9,234.6 476.7,237.5ZM517.1,230.2 517.4,230.9 520.9,230.9 521.6,230.1 519.3,226.3 517.7,227.3ZM504.6,274.8 505.4,275.1 508.5,271.4 507.9,270.4 505.1,270.1 502.9,271.9ZM482.5,293.5 481.3,293.2 480.6,297.2 483.1,297.7 484.1,295.5ZM487.5,267.3 488.3,267.4 490,264.2 488.9,262 485.1,263.5 485.1,263.8ZM443.6,229.9 441.4,234.8 444,236.7 445.9,235.5 445.9,232.1ZM464.9,223.6 465.7,224.6 468.4,224.7 469.6,221.9 469.3,220.9 468.9,220.7 465.4,221.7ZM548.8,259.6 547,261.3 547.8,262.5 549.2,259.6ZM515.2,328.1 516.9,327.7 515,323.9ZM493.2,217.3 490.3,215.1 489.8,215.8 489.6,219.2 490.4,219.9 492.8,219.2ZM522.5,189.8 520.7,188.1 520,188.5 517.5,189 519.2,192.1 522.1,191.4ZM519.4,249.6 520.9,248.9 521.4,246.2 518.1,245.1 516.8,249ZM513.4,246.5 511.2,244.6 509.2,244.7 509,249.2 511.4,249.1 513.4,246.7ZM494,305.3 493.7,303.3 492.4,302.4 490.3,303.6 490.2,307.2 492.2,307.2ZM470.4,254.3 468.9,252.5 467.3,252.3 465.5,255.4 468.3,257 469.8,256.2ZM525.2,250 524.8,246.5 522.1,245.6 521.4,246.2 520.9,248.9 523.4,250.4 525.1,250.1ZM430.9,243.9 433.8,241.2 431.4,238.2 428.2,239.6 428,241.3ZM512.5,192.9 513.7,197.6 515.7,197.5 517.9,194.2 517.9,194.1 514.3,192.4ZM522.5,264.3 523.7,265.2 527.1,264.2 526,261.7 523.1,261.4ZM530.3,225.8 529.4,225.8 528.4,228.7 529.9,230.7 531.5,230.6 533,228ZM524,242.3 526.7,243.1 527.6,241.9 527.5,240 524.6,238.5 523.7,239.4ZM484.9,281.2 483.6,279.1 480.8,279.3 479.7,281 479.8,281.2 483.9,282.6ZM425,272.2 427.5,271.2 428.4,268.7 425.4,267.3 422.5,268.5 422.3,270.1ZM491.7,287.1 491.6,284.5 488.5,284 488.4,287.6 490.5,288ZM446,338.8 446.3,339.7 447.2,339.9 448,338 446.8,336.5ZM502.8,239.4 502.1,240.7 503.9,243.2 507.3,242.7 506.1,240ZM399.5,307.9 398.1,304 395.5,304.1 394.1,308.1 395.7,310.6 397.5,310.7ZM500.9,212.5 500.2,214.7 500.7,215.7 504.1,217.3 506.2,214.1 505.7,212.8 502.9,211.3ZM428.2,239.6 426.1,236.9 423,238.4 424.6,242.8 428,241.3ZM496.4,321 496.1,320.9 494,322.5 493.8,324.6 495.4,326 497.6,325.7 498.2,324.4ZM429,273.8 426.2,276.2 428.3,278.1 430.5,277.5 431.3,274.2ZM535,262.7 536.7,264.2 539.5,262.7 539.6,262.1 536.6,259.6ZM476.6,259.3 475.2,260.2 475.9,262.5 477.7,263 479.9,260.8 479.9,260.3ZM494.7,277 491.3,275.9 491.2,275.9 491.1,280 491.2,280 494.4,279.6ZM513.1,208.5 512.5,211.1 516.4,211.8 517.8,210.4 517.8,210.3 516.1,207.1ZM521.9,348.3 523.5,347.8 524.4,345.6 522.3,340.4 521.7,340.4 519.2,341.7 518.2,346.6ZM501.9,322.7 501,320 499.6,319.4 496.4,321 498.2,324.4 501.5,323.5ZM471.2,318.7 469.5,318.6 467.7,319.8 467.9,322.2 470,323.5 472,323 472.4,321.8ZM513.1,237.4 515.8,238 517.5,236.6 517.4,234.5 516.8,233.8 513.9,233.8 512.4,235.8ZM511.8,293.8 514.4,294.8 515.8,294 516,290.5 513.2,290.1 511.7,293.8ZM430.5,277.5 432.4,279.4 434.8,278.1 435,277.6 432.6,273.6 431.3,274.2ZM466.1,234.9 465.4,237.9 467.1,239.1 468.3,238.6 469.4,235.6 469.4,235.6ZM520.2,284.8 521.5,286.1 524.6,285.7 524.8,284.1 522.1,282.4ZM519.3,241.2 522.4,243.4 524,242.3 523.7,239.4 520.2,239.1ZM473.7,211.9 475.1,215.4 479.3,213.5 479.4,213 476.9,211ZM499.3,258.6 498.1,255.4 496.7,255.2 494.7,257.4 494.7,259.6 498.5,259.9ZM469.4,235.6 469.4,235.6 472,236.3 474,234.7 472.8,232.2 469.8,232.6ZM480.6,203.3 478.6,204.1 477.5,207.6 480.9,208.8 481,208.7 481.9,207ZM528.3,218.7 529.4,221.3 531.2,221 532.3,217 529.7,216.8ZM509.4,277.8 509.2,276.4 505.4,275.1 505.5,279.4 506.4,279.8ZM474.1,255.9 472.4,253.9 470.4,254.3 469.8,256.2 471.9,257.7 473.2,257.4ZM512.3,313.5 510.4,316.1 513.1,318.5 513.5,313.5ZM515.5,264.3 515.5,264.3 516.6,266.2 519.3,266.6 520.4,264.8 518.5,261.4ZM523.6,194.5 525.6,197.9 526.9,197.6 528.3,194.8 526.2,192.8 523.8,193.5ZM469,272.8 468.6,274.6 470.6,277 474,275.1 471.9,272.3 469.2,272.6ZM459,307.9 457,306.2 454.1,306.9 454,307.1 455.5,309.5 457.5,309.8 459,307.9ZM447.4,302.7 449.1,299.9 445.3,298.3 444.6,299 444.8,301.9ZM443.3,305.4 440,305.8 438.5,308.5 439.1,310.3 444.2,308.7 444.4,306.7ZM441.4,337 436.1,336.4 435.8,336.8 440,337.5 441.2,338.1ZM493.6,270.9 492.3,270.5 490,272.1 491.5,274.9 494.7,272.6ZM456.8,247 460.1,244.6 460,244 456.4,241.9 454.9,242.7 454.7,244.8ZM486.5,298.3 488.2,300.1 489.4,299.6 490.7,296.9 490.2,295.8 487.3,295 487.1,295.2ZM482.6,285.5 484.1,284.5 483.9,282.6 479.8,281.2 479.6,281.8 480.9,285.2ZM480.5,251.9 481.4,249.6 478.3,247.9 477.2,248.4 477.1,251.1 480.2,252.1ZM451.1,220.6 450.6,217.5 448,216.9 447.8,217.1 447.4,219.5 450.1,221.3ZM543.7,268.4 539.6,267.7 539.5,267.7 540,270.3 541.7,271.5 542.3,271.3 543.4,270ZM506.8,265.3 503.5,262.5 503.3,262.4 502.6,262.8 502.1,263.8 503,267.1 504,267.3ZM435.2,248.8 431.1,252 434,254 437.8,253.1 437.9,252.8ZM490.7,318.1 489.9,316.5 487.6,316.4 486.3,317.9 486.4,318.8 488.4,320.1ZM476.6,255.3 476,252.1 473.4,251.4 472.4,253.9 474.1,255.9ZM516.8,249 518.1,245.1 518,244.8 515.3,244.5 513.4,246.5 513.4,246.7 516.5,249.2ZM502.2,221.3 504.6,223.6 507.6,221.6 506.1,219.1 504.4,218.4ZM480.1,222.1 476.9,224.8 478.4,226.6 482.2,225.6 482.4,225.1ZM503.8,245.9 502.4,249.6 502.7,250 503.5,250.3 506.5,248.4 505.8,246.3ZM437.6,330.3 435.1,329.3 433.3,331.5 433.4,332.5 435.9,334.6 438.1,332.6ZM439.6,326.8 440,328.7 442.1,329.9 442.6,329.8 444,327.4 442.2,323.5 442.1,323.5ZM445.5,198.5 444.5,200.7 445.5,203 446.3,203 446.9,198.9ZM519.2,341.7 521.7,340.4 518.3,334.2 515.9,334.2 514,339.9ZM424.6,276.2 424.6,276.2 425,272.2 422.3,270.1 420.6,271.6 422,276.1ZM503.7,236.8 503.1,234.5 501.7,233.6 499.3,236.2 499.3,236.6 502.7,238.5ZM482.9,305.8 484.4,302.1 483.4,301.1 480.5,301.5 479.7,303.3 482.7,305.8ZM493.7,244.6 493.1,246.5 495,248.1 497.4,247.9 498.7,246 495.1,243.6ZM506.8,259.7 509.1,256.9 505.7,254.8 504.7,258.1ZM515.6,272.2 517.6,275.1 519.9,274.6 519.2,271 518.8,270.7 516.3,271.1ZM452.1,290.1 451.6,287.5 448.2,288.1 447.8,291 449.4,291.5ZM497.4,280.1 498.3,276.6 495.6,276.2 494.7,277 494.4,279.6 495.1,280.1ZM543.9,232.8 544.6,229.7 543.6,229.7 543,231.1 543.4,232.7ZM484.6,214.5 481.5,217.4 482.3,219.3 486,218.2 486.3,216.8ZM443.4,303.2 439.5,300.9 438.5,302.7 440,305.8 443.3,305.4ZM482.1,192.7 483,193.5 484,193 482.5,190 482.4,190ZM520.6,196.5 520.8,199.4 524.9,198.8 525.6,197.9 523.6,194.5ZM503.4,334.4 506.4,338.7 509,338 509.7,334.4 507.7,332.1ZM509.7,228.7 509.9,227.7 508.5,225.8 506.1,226.3 506.2,229.3 507.9,229.9ZM502.1,263.8 498.8,265.3 499.1,266.8 501.8,267.7 503,267.1ZM494.3,290.2 493.8,287.7 491.7,287.1 490.5,288 491.5,291.3ZM447.4,225 445.1,227.9 449.6,229.4 449.6,229.4 450.3,226.7ZM447.7,303.5 447.4,302.7 444.8,301.9 443.4,303.2 443.3,305.4 444.4,306.7 446.6,305.9ZM457.3,239.2 456.4,241.9 460,244 462,241 461.9,240.8 458.7,238.7ZM460.1,256 460.1,255.9 457.1,252.9 455.6,253.8 455.6,256.6 457.9,257.4ZM496.3,215.3 496,216.2 496.9,219.2 499.5,219.4 500.7,215.7 500.2,214.7ZM498.8,281.5 502.1,279.5 501.2,277.1 499.3,276 498.3,276.6 497.4,280.1ZM452.9,290.7 453.3,293.4 456.7,293.9 457.4,290.5 457.3,290.4 456.3,289.6ZM524.9,231.3 527,228.8 524.3,226.4 522.8,229.9ZM494.5,310.5 495.4,312.5 498.4,312.2 499,311.5 498.7,309 496.3,308.5 494.6,310ZM474.5,195.8 472.4,193.4 470,195.9 470.8,199.1 471.4,199.3 473.3,198.6ZM526,261.7 527.1,264.2 527.8,264.6 527.8,264.6 530.8,260.9 527,260ZM476.9,313.8 476.5,310.8 474.3,310.3 473.4,311.7 474,314.2 474.8,314.6ZM550.2,214.2 549.4,217.8 549.9,218.2 550,218 551.1,214.1ZM468.9,220.7 467.7,218 464.8,217.9 464.4,219.7 465.4,221.7ZM469.5,205 468.3,204.1 464.8,204.6 465.3,208.5 468.4,208.5 469.7,206ZM448.2,282.7 449.5,283.6 449.5,283.6 451.6,281.7 451.3,280.1 448.3,278.8 447.6,279.7ZM463.3,249.3 464.2,247.5 463.4,245.7 460.9,245.3 460.8,248.9 461.1,249.2ZM477.5,242.4 480.8,240.4 480.6,239.5 476.7,237.5 476.6,237.5 475,240.2ZM484,289.2 482.7,289 481.5,289.6 480.8,291.1 481.2,293.1 481.3,293.2 482.5,293.5 485.6,291.7ZM469.8,282.7 468.7,282.5 466.8,284.3 466.9,285.5 469.5,286.8 470.8,284.7ZM523.1,261.4 526,261.7 527,260 526.6,258.2 524.2,258.1 522.5,260.4ZM470.7,304.3 467.8,303.2 465.7,304.6 465.7,305.3 468.5,308.1 468.7,308 470.8,304.6ZM506.1,325.2 504.9,327.7 508,330.2 511.1,328.2 510.4,325.6 508.6,324.3ZM498,269.7 496.2,272.3 499.3,274.4 501.3,271.6 501.3,271.5ZM477.8,314.2 476.9,313.8 474.8,314.6 475,317.7 475.6,318.2 478.3,317.1ZM430.6,258 429.8,253.6 426,254.4 425.8,255.5 427.9,258.9ZM478.6,197.1 478.4,198.7 480.9,201.5 483.5,198.2 483.1,196.6ZM456.3,264.3 455.2,261.9 452.4,262.2 453.2,265.3 454.5,265.9 455.6,265.6ZM503.8,301.4 501.2,299.2 500.3,299.6 499.5,303 501.4,303.6 503.8,302ZM398.6,231.1 399.4,235.1 402.9,235.8 403.1,235.6 403.7,231.6 402.3,230.4ZM407.7,317.4 406.9,321 407.8,322 412,321.6 412.2,321.4 411.7,317.1ZM483.8,234.2 486.6,234 486.5,231 482.9,230.3ZM543.1,213.9 543.3,217.5 546.8,218.3 546.9,218.2 546.1,214.9 543.2,213.9ZM504.9,327.7 506.1,325.2 504.1,322.7 501.9,322.7 501.5,323.5 502.7,328ZM484.8,284.9 488.4,283.9 488.4,283 486.4,280.9 484.9,281.2 483.9,282.6 484.1,284.5ZM471.9,257.7 470.7,260.7 471.9,261.4 475,260.2 473.2,257.4ZM485.9,325.4 485.4,325.8 485.4,327 487.3,325.5ZM559.6,193.8 556.2,198.5 556.6,199.1 561.8,198.5 560.3,194ZM458.8,285.5 459.9,287.5 461.3,287.9 463.2,286.2 462.8,284.3 461.9,283.7ZM513.8,351.6 509.4,349.9 509.1,350.2 511.7,353 512.8,354.5ZM440.5,333.2 442.1,329.9 440,328.7 437.6,330.3 438.1,332.6ZM490.5,288 488.4,287.6 488,287.9 487.7,291.5 491.4,291.5 491.5,291.3ZM421.9,328.3 423.1,327.9 423.9,324.3 421.5,322.2 419.4,325.5ZM537.5,254.7 539.1,254.5 540.1,250.8 537.1,250.8 535.8,252.5ZM394.1,316.8 393.4,313 389.5,312 388.6,316.3 389.2,316.9 394,316.9ZM426.8,246.2 426.8,249.2 429.9,250.2 431.3,245.4 430.9,244.7ZM483.4,258.5 482.6,255.6 479.2,256 480.4,259.5ZM430.4,308.4 427,306 425.5,306.3 425.2,310.9 429.1,310.7ZM525.8,202.7 524.9,198.8 520.8,199.4 520.2,200.2 523.8,203.9ZM514.3,192.4 517.9,194.1 519.2,192.1 517.5,189 515.6,189.3ZM445.9,273.6 442.7,273 441.7,276.3 443.4,277.9 445.5,276.5ZM488.4,283 488.4,283.9 488.5,284 491.6,284.5 492.7,283.7 491.2,280 491.1,280 491.1,280ZM482.6,285.5 482.7,289 484,289.2 486,287.6 484.8,284.9 484.1,284.5ZM510.3,219.4 509.5,217.4 509,217.2 506.1,219.1 507.6,221.6 508.3,221.8ZM452.2,216 452.2,215.5 449.5,213.5 448.6,213.7 448,216.9 450.6,217.5ZM558.2,185.9 559.3,183.6 558.7,182.5 556,182.3 554.9,184.2 555.7,186.2ZM484.1,295.5 483.1,297.7 483.9,298.8 486.5,298.3 487.1,295.2ZM503.5,262.5 506.8,260.4 506.8,259.7 504.7,258.1 502.8,258.7 503.3,262.4Z" fill="#41b6c4" stroke="#000" stroke-width=".8"/>
<path d="M371.3,244.3 376.4,244.9 376.5,240.5 374.8,238.8 371.6,239.1ZM370.1,262.3 370.8,261.7 371.3,257.1 370.6,256.4 364.9,255.9 364.3,256.5 365,261.7 365.3,262ZM353.9,302.8 353.4,308.6 353.8,309.1 359.3,308.7 359.6,303.9 358.9,303.1 354,302.7ZM347.2,314.2 347.4,314.3 352.5,314.7 353.3,313.9 353.8,309.1 353.4,308.6 348.2,308 347.2,309.2ZM359.6,309 359.3,308.7 353.8,309.1 353.3,313.9 359.3,314.8 359.5,314.7ZM364.6,315.1 365.3,314.5 365.1,309.3 359.6,309 359.5,314.7ZM359.3,314.8 358.5,320 359.1,320.7 364.6,320.8 364.6,320.7 364.6,315.1 359.5,314.7ZM364.8,326.5 370.4,326.7 370.7,326.2 370,320.6 364.6,320.7 364.6,320.8ZM375.7,320.6 371,319.4 370,320.6 370.7,326.2 375.3,325.2 375.8,320.8ZM375.3,325.2 370.7,326.2 370.4,326.7 371.4,331.5 374.9,332.1 378.6,328.2 378.6,327.7ZM370.5,332.5 370.7,338.1 375.1,337.8 376.1,334.4 374.9,332.1 371.4,331.5ZM370.1,360.8 370.5,361.2 374.9,361.1 375.8,357.3 374.9,356.1 371.1,355.2ZM370.1,360.8 365.3,360.5 364.6,361.3 365,366.2 370.5,366.6 370.5,361.2ZM402.2,186.3 402.4,186.5 407.1,186.3 407.1,182.2 403.4,181.8ZM407.1,186.3 407.7,186.9 411.8,186.5 411.9,182.2 411.3,181.7 407.8,181.5 407.1,182.2ZM398,189.9 399,191.1 402.9,191.3 403.1,190.9 402.4,186.5 402.2,186.3 398.7,186.1ZM407.7,186.9 407.1,186.3 402.4,186.5 403.1,190.9 407.3,189.9ZM411.8,191.3 412.6,190.5 412.3,186.8 411.8,186.5 407.7,186.9 407.3,189.9 407.7,190.4ZM390.3,194.6 394.4,194.6 394.5,190.6 393.8,190.1 389.7,190.7ZM412.2,217.2 416.6,216.9 416.7,216.8 416.6,213.3 416.1,212.9 412,213.3 411.6,213.8ZM406.8,218.1 407.9,222.5 411.7,221.8 412,221.5 411.8,217.8 407.6,217.5ZM403,226.9 402.3,230.4 403.7,231.6 407,230.9 406.7,227ZM411.7,230.7 407.8,231.5 407.8,235.3 408,235.4 412.2,235.2ZM407.8,235.3 403.1,235.6 402.9,235.8 403.4,240 407.5,240.3 408.2,239.8 408,235.4ZM385.6,240.1 384.6,244.7 385,245.1 388.7,245.3 389.5,244.3 389.3,240.5 385.7,240.1ZM421.1,244.6 419.8,240.7 416.6,240.1 416.1,244.8 416.7,245.4ZM420.4,249.6 422,248 422,245 421.1,244.6 416.7,245.4 416.6,248.8 416.7,249ZM378,247.5 374.5,250.5 375.8,253.7 380.3,253.8 380.5,253.6 380.5,249.5ZM393.7,252.9 394.2,249.9 393.3,248.7 389.5,248.4 387.3,251.4 387.3,251.6 389.8,253.8ZM416.7,249 416.6,248.8 411.9,249.5 411.8,253.1 416.4,253.4ZM411.8,253.1 411.6,253.4 412.2,257.6 416.7,257.9 416.9,257.7 416.7,253.7 416.4,253.4ZM398.6,262.9 402.5,261.9 402.9,258.5 401,256.2 398.1,258.6 398.5,262.8ZM417,262.7 416.3,262.1 412.2,262.8 410.7,264.9 410.7,265.4 412.6,267.4 416.4,267.2ZM384.3,276.7 384.8,280.4 385.5,281 389.3,280.4 389,275.8 389,275.7 385.4,275.7ZM394.2,276.6 393.3,275.6 389,275.8 389.3,280.4 389.7,280.7 393.4,280.3ZM398.4,276.2 398.7,280.6 403.1,280.6 403.3,280.5 403.2,276 403,275.7 398.4,276.2ZM384.4,298.5 380.7,299 380.5,303.1 384.9,303.7 385.6,303 384.8,298.9ZM407.4,302.7 407,303.2 408.4,307.6 411,307.5 412.4,303.6 411.3,302.5ZM415.9,303.6 412.4,303.6 411,307.5 411.9,308.2 416.3,307.9 416.6,307.6ZM396.1,327 396.2,327.9 398.9,330.5 402.7,329.8 403.1,326 398.9,324.9ZM374.9,332.1 376.1,334.4 380.8,335 381.1,334.7 380.5,330.2 378.6,328.2ZM385.1,334.3 388.6,334.9 390,333.7 389.6,329.8 389.5,329.7 385.4,330.6ZM394.1,334.7 398.1,334.1 398.9,330.5 396.2,327.9 393.9,330 394,334.6ZM416.5,330.3 412.5,329.8 411.9,330.4 412.4,333.2 416.4,332.6ZM421,331.4 420.7,330.4 416.9,330 416.5,330.3 416.4,332.6 420,332 420.5,332.3ZM375.1,337.8 376.1,339.1 380.3,338.7 380.8,335 376.1,334.4ZM376.9,352.8 379.1,352.8 380,351.7 380.3,351.4 380.4,348.3 380.3,348.1 376.6,347.7 374.8,349.5ZM497.7,223.9 495.5,224.5 494,226.8 495.4,228.6 498.2,228.3 498,224ZM457.9,195.3 457.1,192.3 456.8,192.2 456,197.2ZM516.8,254 519.7,253.4 519.4,249.6 516.8,249 516.5,249.2 515.5,251.2ZM510,262.5 509.3,262.6 506.9,265.3 508.6,268.1 511.6,267.2 512,265.1ZM438.5,185.8 439.8,188.3 442.9,188.3 442.8,184.9 439.1,184ZM431.4,238.2 431.8,235.7 427.2,233.8 426.1,236.9 428.2,239.6ZM430.1,330.1 427.1,333 428.3,334.9 430.5,335.4 433.4,332.5 433.3,331.5ZM565.4,173.2 566.6,174.4 567.9,174.6 568,173 571.7,168 571.9,167.7 570.3,166.2 567.2,167ZM471.8,211.5 472.4,211.3 473.3,207.8 469.7,206 468.4,208.5 469.6,210.7ZM572.9,191.1 572.1,193 575,193 575.6,190.7ZM466.4,182.9 464.5,184.8 466.8,188.2 469.2,187.4 469.9,186.4 469,183.9ZM521.5,206.5 521.4,208.1 522.7,209.9 526.5,209.5 527.3,208.7 523.4,205.2ZM477.7,296.2 475.8,298.6 476.2,299.6 479.6,300 480.4,297.3ZM478.4,327.4 480,328 481.4,328.5 482,328 481.8,325.5 481,324.6 478.9,325.5ZM463,322.1 465.5,324 467.9,322.2 467.7,319.8 466.1,319.1 462.9,321.7ZM501.8,227.9 502.2,226.8 499.5,223.5 498,224 498.2,228.3 498.3,228.3ZM461.3,323.8 463,322.1 462.9,321.7 461.3,319.7 458.3,320.7 459.2,323.7ZM479.2,245.4 478.3,247.9 481.4,249.6 481.9,249.3 482.9,246 482.2,245ZM458.6,204.6 456.6,202.3 456.6,202.3 457,206.1ZM463.7,203.9 464.9,198.7 464.9,198.7 461.6,198.1 460,200 461.2,204.3ZM444.5,259.6 445.2,257.2 443.5,254.7 439.4,256.3 442.9,260.3ZM467.7,218 468.9,220.7 469.3,220.9 471,219.5 471.1,216.5 470.2,215.8 469.4,215.8ZM456.6,202.3 457.5,200.1 456.1,198.2 456.6,202.3ZM484.6,214.5 486.3,216.8 489.8,215.8 490.3,215.1 490.3,214.1 486.7,211.7 485,212.5 485,212.5 484.7,212.7ZM518.3,222.3 519.3,226.3 522.9,225.4 522.2,221.9 518.4,222.2ZM471.2,239.9 468.3,238.6 467.1,239.1 466.6,241.9 469.6,242.8ZM528.5,181.7 526,185 525,185.6 525.1,185.8 528.6,186.3 530.5,184.2 529.7,182.3ZM421.1,253.2 421.3,257.9 422.4,258 425.8,255.5 426,254.4 424.8,252.8ZM466.8,231.7 465.1,233.3 465.1,233.3 466.1,234.9 469.4,235.6 469.8,232.6 469,231.8ZM478.9,321 479.9,317.9 478.3,317.1 475.6,318.2 475.9,320.7 476.8,321.4ZM477.5,207.6 477.2,207.8 476.9,211 479.4,213 481,211.9 480.9,208.8ZM440.9,281.1 443.5,279 443.4,277.9 441.7,276.3 439.2,276.6 439.2,280.6ZM516.2,206.5 513.7,203.6 510.9,204.3 510.6,206 513.1,208.5 516.1,207.1ZM525,231.6 526.6,232.7 529.3,231.6 529.9,230.7 528.4,228.7 527,228.8 524.9,231.3ZM536.7,211 536.4,211.5 537.7,213.9 539.9,214.5 542.3,213.6 541.1,209.4ZM522.1,282.4 524.8,284.1 526.2,283 526.3,280.5 523.4,279.4 521.9,280.1ZM465.5,324 469.9,324 470,323.5 467.9,322.2 465.5,324ZM426.5,261.9 430.6,264.2 433,262.1 432.9,258.9 430.6,258 427.9,258.9 426.5,261.5ZM518.8,241.5 519.3,241.2 520.2,239.1 520.1,238.6 517.5,236.6 515.8,238 516.1,240.8ZM509.3,256.8 509.1,256.9 506.8,259.7 506.8,260.4 509.3,262.6 510,262.5 510.9,261.4 511.2,257.9ZM501.3,329.3 503.1,334.3 503.4,334.4 507.7,332.1 508,330.2 504.9,327.7 502.7,328ZM498.3,228.3 498.2,228.3 495.4,228.6 494.9,230.7 497,233 498.9,231.8ZM475.1,265.7 477.8,266.1 478.5,265.2 477.7,263 475.9,262.5 474.4,264.3ZM466.1,319.1 464.9,317 461.6,317.3 461.3,319.7 462.9,321.7ZM490.4,221.8 490.4,219.9 489.6,219.2 487.2,219.7 486.7,221.3 488.6,222.9ZM542.5,192.6 539.5,192.1 537.8,193.5 539.7,197 540.3,197.2 543.1,194.9ZM541.3,209 539.4,206.2 536.8,206.1 536.7,206.3 536.7,211 541.1,209.4ZM566.1,184.3 563.7,183 562.4,184.1 562.1,188.1 564,189.3 565.8,188.7ZM461,208.7 464.2,209.8 465.3,208.5 464.8,204.6 463.7,203.9 461.2,204.3 460.8,204.7ZM494,322.5 496.1,320.9 494.3,317.8 491.7,318.5 491.8,321.6ZM480.8,240.4 477.5,242.4 477.5,243.5 479.2,245.4 482.2,245 482.8,241.8ZM439.3,271.3 441.7,271.6 443.9,268.4 441.8,265.6 440.1,266.2 438.6,269.7ZM575.7,188.8 573,187.5 573,187.5 571.6,189 572.9,191.1 575.6,190.7 575.8,189.9ZM504.7,230.3 506.2,229.3 506.1,226.3 504.7,225.4 502.2,226.8 501.8,227.9 502.7,229.9ZM467.7,246.5 470.2,244 469.6,242.8 466.6,241.9 465.5,242.7 465.4,243.6ZM488.5,267.7 488.2,271.7 490,272.1 492.3,270.5 491.3,268.4ZM464.4,219.7 461.7,220.1 461,222.3 462.1,223.9 464.9,223.6 465.4,221.7ZM471.4,199.3 470.8,199.1 468.5,200.1 468.3,204.1 469.5,205 472.6,203.1ZM506.7,202.7 508.8,202.2 509.7,198.8 508.5,197.4 505,198.4 504.6,199.1 504.7,201.4ZM480.5,230.6 479.8,234.2 479.9,234.6 482.1,235.9 482.1,235.9 483.8,234.2 482.9,230.3 482.6,230ZM528.8,176 528.4,175.5 526.7,175.2 525,180 526.8,180.5ZM516.8,233.8 517.4,230.9 517.1,230.2 513.6,229.9 512.5,231 513.9,233.8ZM539.9,214.5 540,217.4 542.2,218.5 543.3,217.5 543.1,213.9 542.3,213.6ZM545.5,201.5 546.5,201.8 550,198.5 549.4,197.3 545.6,196.2 544.3,199.5ZM497.3,209.8 495.1,213.2 496.3,215.3 500.2,214.7 500.9,212.5ZM508.3,221.8 507.6,221.6 504.6,223.6 504.7,225.4 506.1,226.3 508.5,225.8 509.6,223.5ZM511.9,219.8 510.3,219.4 508.3,221.8 509.6,223.5 511.3,223.5 512.6,222.3ZM515.2,268.4 516.3,271.1 518.8,270.7 519.4,266.7 519.3,266.6 516.6,266.2ZM471.1,216.5 474.4,216.6 474.9,216.2 475.1,215.4 473.7,211.9 472.4,211.3 471.8,211.5 470.2,215.8ZM515.3,259.5 517.2,259.7 518,257.3 516.3,254.9 513.9,256.1 513.5,257.1ZM456.2,217.5 457.1,214.7 455.1,213.8 453.7,216 452.6,215.2 452.2,215.5 452.2,216 454,217.9ZM449.6,229.4 448.8,231.4 449.7,233.4 451.2,233.8 453.4,231.3 453.4,230.7 449.6,229.4ZM461,222.3 457.6,221.8 457.3,224.4 460.8,225.9 460.9,225.9 462.1,223.9ZM491.3,226.4 492,222.9 490.4,221.8 488.6,222.9 488.4,224.4ZM445.5,276.5 443.4,277.9 443.5,279 444.8,280.2 447.6,279.7 448.3,278.8 448.2,278ZM475.1,325 473.3,324.7 473,325.2 475.2,326.1ZM462.5,254.3 465,255.6 465.5,255.4 467.3,252.3 466.6,251.1 464.2,250.7 462.4,253.7ZM427.6,336.2 430,337.5 431.7,337.2 430.5,335.4 428.3,334.9ZM475.6,318.2 475,317.7 471.7,318.2 471.2,318.7 472.4,321.8 475.9,320.7ZM488.4,320.1 486.4,318.8 483.8,321.4 485.6,322.8 488.5,321.9ZM524.9,236.5 526.9,235.6 526.6,232.7 525,231.6 522.7,234.8ZM459.2,212.3 457.7,214.5 460.7,216.8 462.4,216.1 462.4,213.3ZM568.4,191.9 566.5,194.4 567,194.9 571,193.3ZM502.2,221.3 501.1,221.5 499.5,223.5 502.2,226.8 504.7,225.4 504.6,223.6ZM469.8,229.2 471.7,229 473.2,226.8 471.8,225.6 469.5,225.8 468.7,228ZM465.5,324 463,322.1 461.3,323.8 461.4,324 465.5,324ZM526.2,192.8 527.4,190.5 524.7,188.2 522.5,189.8 522.1,191.4 523.8,193.5ZM481,202.8 480.6,203.3 481.9,207 483.7,203.7 483.8,203.1ZM472.3,239.6 474.1,240.4 475,240.2 476.6,237.5 474.6,234.8 474,234.7 472,236.3ZM499,311.5 502.8,311.5 503.1,310.4 500.5,307.6 500.3,307.6 498.7,309ZM461,208.7 460.8,204.7 458.6,204.6 457,206.1 457.4,209.4 459,210.2ZM449.3,257.8 452.1,256.8 452,254.9 450.3,254 448.2,255.2 448,256.3ZM504.3,288 507.7,286.4 507.2,283.4 503.2,283.7 503.2,283.7ZM442.9,260.3 439.4,256.3 439.2,256.2 437.4,258.2 438.2,261.6 441.9,262.2ZM503.9,243.2 502.1,240.7 500,241.6 499.9,245 503.3,245.2ZM476.4,324.3 478.9,325.5 481,324.6 481.3,323.1 478.9,321 476.8,321.4ZM453.5,258 454.1,257.9 455.6,256.6 455.6,253.8 454.1,253.4 452,254.9 452.1,256.8ZM437.8,253.1 439.2,256.2 439.4,256.3 443.5,254.7 443.5,254.5 441.7,249.8 441.7,249.8 437.9,252.8ZM449,307.4 446.6,305.9 444.4,306.7 444.2,308.7 445.6,310.7 447.1,310.8 448.9,309.5ZM432.9,186.2 430.1,183.9 426.4,185 426,186 427,187.9 431.5,188.7 433,186.5ZM435.9,226.8 438.9,227.6 441.7,223.6 440.8,222.2 436.7,223ZM455.6,265.6 454.5,265.9 453.9,269.1 454.3,269.9 456.7,270.2 458.4,269 458.6,268.7ZM443.5,279 440.9,281.1 442,283.4 444.4,283.9 444.9,283.3 444.8,280.2ZM478.9,321 481.3,323.1 483.5,321.4 482,317.8 481.2,317.6 479.9,317.9ZM421.9,328.3 420.7,330.4 421,331.4 424.3,333.4 426.5,332.8 425.2,328.7 423.1,327.9ZM446.5,212.6 446.2,211.4 443.5,210 440.9,211.7 441.7,213.8 444,214.9ZM447.2,261 449.3,259.2 449.3,257.8 448,256.3 445.2,257.2 444.5,259.6ZM475.9,202.8 476,200.2 473.3,198.6 471.4,199.3 472.6,203.1 474.3,203.7ZM448.8,188.2 447.1,191.6 448.1,192.6 449.2,188.2ZM495.3,268 493.6,270.9 494.7,272.6 494.8,272.6 496.2,272.3 498,269.7 497.8,268.8ZM502.3,202.4 504.7,201.4 504.6,199.1 503,201.7 502.2,202.3ZM526.2,192.8 528.3,194.8 530.9,194.3 531.4,193 530.6,190.1 529.9,189.8 527.4,190.5ZM471.8,225.6 473.2,226.8 473.4,226.8 476.3,224.6 474.9,221.6 474.6,221.5 471.9,223.1ZM530.5,184.2 528.6,186.3 529.9,189.8 530.6,190.1 532.6,188.8 532.3,184.9ZM473.9,190.7 477.6,191.5 477.9,190.7 476,191 478.1,188.3 476.9,186.2 474.1,186.8ZM491.3,226.4 491.5,226.8 494,226.8 495.5,224.5 493.5,222.4 492,222.9ZM489.6,322.9 491.8,321.6 491.7,318.5 490.7,318.1 488.4,320.1 488.5,321.9ZM498.8,316.4 495.2,315.9 494.3,317.8 496.1,320.9 496.4,321 499.6,319.4ZM466,195.2 464.9,198.7 464.9,198.7 468.5,200.1 470.8,199.1 470,195.9 467,194.8ZM568,189.3 568.4,191.9 571,193.3 571.7,193 572.1,193 572.9,191.1 571.6,189 569.1,188.7ZM525,231.6 524.9,231.3 522.8,229.9 521.6,230.1 520.9,230.9 521.2,234 522.2,234.8 522.7,234.8ZM460.3,218.5 457.5,219.7 457.2,221.1 457.6,221.8 461,222.3 461.7,220.1ZM446.7,250.9 446.9,251.2 450.2,251.7 452.2,249.9 452.3,249.7 451.6,248.4 447.6,248.5ZM456.4,241.9 457.3,239.2 455.6,237.8 452.7,238.8 451.9,241 454.9,242.7ZM498.7,309 500.3,307.6 498.1,304.9 496.2,306.3 496.3,308.5ZM457.3,224.4 457.6,221.8 457.2,221.1 453.8,221.4 453.6,224.7 457,224.7ZM493.8,324.6 494,322.5 491.8,321.6 489.6,322.9 489.7,323.9 492.2,325.3ZM474.9,221.6 477.4,220 477.6,218.1 474.9,216.2 474.4,216.6 474,220.5 474.6,221.5ZM433.6,220.4 431.2,225.2 431.3,225.6 435.1,227.2 435.9,226.8 436.7,223 434.8,220.6ZM486.6,234 486.6,234 483.8,234.2 482.1,235.9 485.9,238.7 487.5,236.8ZM518,244.8 518.8,241.5 516.1,240.8 514.6,241.7 515.3,244.5ZM482.6,230 482.9,230.3 486.5,231 487.4,230.1 487.3,228.2 486.5,227.4 483.3,227.9ZM525.1,185.8 525,185.6 520.7,188.1 522.5,189.8 524.7,188.2ZM451.2,233.8 452.2,235.5 455.3,235.1 455.7,234.4 453.4,231.3ZM543.4,232.7 541.9,235.3 543.2,235.9 543.9,232.8ZM543.9,191.1 542.5,192.6 543.1,194.9 545.4,195.8 547.3,192 547.2,191.6 547,191.4ZM505.5,233.1 504.7,230.3 502.7,229.9 501.1,232.2 501.7,233.6 503.1,234.5ZM536.5,199.1 539.7,197 537.8,193.5 536.7,193.4 534.1,197.5ZM524.2,225.9 525.8,224.7 526,222 524.7,220.6 523.1,220.8 522.2,221.9 522.9,225.4ZM485.6,322.8 485.9,325.4 487.3,325.5 488,325 488.9,325.1 489.7,323.9 489.6,322.9 488.5,321.9ZM426.1,228.2 422.5,229 421.4,231.7 421.7,232.5 427,233.6 426.2,228.3ZM513.3,218.7 512.6,215.9 509.5,217.4 510.3,219.4 511.9,219.8ZM470,323.5 469.9,324 470,324 473,325.2 473.3,324.7 472,323ZM513.5,257.1 513.9,256.1 512,253.1 510.5,253.3 509.3,256.8 511.2,257.9ZM469.4,215.8 470.2,215.8 471.8,211.5 469.6,210.7 466.4,213.1 466.6,213.8ZM515.5,222.4 514.7,226.3 517.7,227.3 519.3,226.3 519.3,226.3 518.3,222.3ZM471.9,223.1 474.6,221.5 474,220.5 471,219.5 469.3,220.9 469.6,221.9ZM524.2,225.9 524.3,226.4 527,228.8 528.4,228.7 529.4,225.8 529.2,225.6 525.8,224.7ZM473.3,207.8 472.4,211.3 473.7,211.9 476.9,211 477.2,207.8 474.3,207.1ZM508.5,237.7 510.1,240.1 512,240.3 513.1,237.4 512.4,235.8 511.7,235.8ZM499.8,315.2 501.7,314.9 502.8,311.7 502.8,311.5 499,311.5 498.4,312.2ZM437.3,281.6 434.8,278.1 432.4,279.4 431.9,281.2 433,283.4 437.3,281.6ZM545.5,211 548.4,211.7 549.3,210 548.6,207.9 546,207.1 544.3,207.8 544.2,207.9ZM480.2,216.7 477.6,218.1 477.4,220 480.1,221.5 482.3,219.4 482.3,219.3 481.5,217.4ZM460.1,256 457.9,257.4 457.7,260.3 459.1,261 461.6,259.5ZM519.3,226.3 521.6,230.1 522.8,229.9 524.3,226.4 524.2,225.9 522.9,225.4 519.3,226.3ZM502.3,202.4 502.4,204.8 505.2,206.2 506.7,202.7 504.7,201.4ZM503.1,310.4 502.8,311.5 502.8,311.7 505.7,313.4 507.5,312.5 507.8,311.8 506.5,309.8 504.3,309.5ZM469.8,229.2 468.7,228 466.1,228.4 466.8,231.7 469,231.8ZM522.2,221.9 523.1,220.8 521,218 518.6,220 518.4,222.2ZM449,326.3 447,326 446,327.3 446.3,327.9 446.7,327.5 449.2,326.9ZM502.3,202.4 502.2,202.3 498.9,204.9 499.6,206.6 502.4,204.8ZM424.3,333.4 421,331.4 420.5,332.3 423.9,334.1ZM559.3,183.6 558.2,185.9 560.2,188.3 562.1,188.1 562.4,184.1ZM478.9,325.5 476.4,324.3 475.1,325 475.2,326.1 478.4,327.4ZM446.1,264.1 442.3,263.9 441.8,265.6 443.9,268.4 445.7,268.5 446.9,265.2ZM426.5,332.8 427.1,333 430.1,330.1 429.9,328.5 427.7,327 425.2,328.7ZM513,251.6 511.4,249.1 509,249.2 508.8,249.3 508.4,251.8 510.5,253.3 512,253.1ZM548.6,207.9 549.3,210 550.8,209.9 549.4,207ZM494.8,267.3 496.1,264.3 494.2,263 492,264.6 492.9,266.8ZM451.8,260.7 453.5,258 452.1,256.8 449.3,257.8 449.3,259.2ZM475.9,320.7 472.4,321.8 472,323 473.3,324.7 475.1,325 476.4,324.3 476.8,321.4ZM461.1,249.2 460.8,248.9 456.8,248.8 456.7,249 457.4,252.2 460.5,251.5ZM398.4,245.5 394.1,244.9 393.3,248.7 394.2,249.9 398.5,249.1ZM459.1,268.2 460,264.3 459.5,263.8 456.3,264.3 455.6,265.6 458.6,268.7ZM486.9,225.3 486.5,227.4 487.3,228.2 491.3,227.2 491.5,226.8 491.3,226.4 488.4,224.4ZM566.5,194.4 565,194.4 564.4,196.9 566.7,195 567,194.9ZM494.8,267.3 492.9,266.8 491.3,268.4 492.3,270.5 493.6,270.9 495.3,268ZM464.2,250.7 463.3,249.3 461.1,249.2 460.5,251.5 462.4,253.7ZM486.3,216.8 486,218.2 487.2,219.7 489.6,219.2 489.8,215.8ZM488.6,222.9 486.7,221.3 484.7,222.2 484.4,223.6 486.9,225.3 488.4,224.4ZM445.9,232.1 445.9,235.5 447.7,235.7 449.7,233.4 448.8,231.4ZM515.5,222.4 514.8,219.1 513.3,218.7 511.9,219.8 512.6,222.3ZM375.9,362.2 375.3,366.3 376.7,366.3 376.7,362.1ZM528.4,175.5 528.7,171.8 527.5,173 526.7,175.2ZM555.7,163.9 553.8,162.1 548.9,163.9 550.4,169.1ZM527.7,214.5 525.3,217.4 525.6,218.5 528.3,218.7 529.7,216.8 527.7,214.6ZM517.8,210.3 517.8,210.4 520.5,212.7 522.1,212.4 522.7,209.9 521.4,208.1ZM473,231.8 475.9,229.9 473.4,226.8 473.2,226.8 471.7,229ZM474.4,216.6 471.1,216.5 471,219.5 474,220.5Z" fill="#a1dab4" stroke="#000" stroke-width=".8"/>
<path d="M376.3,285.7 371.2,285.9 371.1,290.6 375.1,291.5 378.7,287.9 378.6,287.5ZM370.3,315.1 365.3,314.5 364.6,315.1 364.6,320.7 370,320.6 371,319.4 370.8,315.6ZM371,319.4 375.7,320.6 377,317.2 375.1,314.5 370.8,315.6ZM347.9,336.8 347.6,331.9 343.3,332.2 346.3,337.2ZM365.1,343.7 364.6,337.7 364.6,337.6 359.6,337.5 359.2,337.9 358.6,343.2 358.7,343.3ZM353.3,348.5 353.3,344.4 349.1,343.7 350,346.7 351.5,349.3ZM358.6,343.2 354,343.8 353.3,344.4 353.3,348.5 354.5,349.7 359.6,349.4 359.6,349.3 358.7,343.3ZM365.2,343.8 365.1,343.7 358.7,343.3 359.6,349.3 364.4,349.4ZM364.5,349.5 371.2,349.9 371.2,349.8 370.3,343.7 365.2,343.8 364.4,349.4ZM371.2,349.8 374.8,349.5 376.6,347.7 375.7,343.3 370.4,343.6 370.3,343.7ZM354.5,349.7 354.4,354.1 355,355 358.9,355.7 359.1,355.5 359.6,349.4ZM359.6,349.3 359.6,349.4 359.1,355.5 364.7,355.3 364.5,349.5 364.4,349.4ZM364.7,355.3 364.8,355.3 370.7,354.7 371.2,349.9 364.5,349.5ZM358.8,361.1 358.9,355.7 355,355 355,355 358.8,361.1ZM364.8,355.3 365.3,360.5 370.1,360.8 371.1,355.2 370.7,354.7ZM393.8,231.8 398.3,230.8 398,227 393.5,226.9 391.7,228.3 391.8,230ZM399.4,235.1 398.6,235.8 398.4,240.6 398.5,240.6 403.1,240.3 403.4,240 402.9,235.8ZM408,235.4 408.2,239.8 411.7,240.2 411.9,240 412.3,235.2 412.2,235.2ZM411.9,240 416.2,239.6 416.9,235.9 416.2,235.2 412.3,235.2ZM403.1,240.3 398.5,240.6 398.7,245.1 403.1,244.8ZM403.2,249.1 403.3,245.1 403.1,244.8 398.7,245.1 398.4,245.5 398.5,249.1 398.8,249.4 402.9,249.5ZM416.7,253.7 420.8,252.9 420.4,249.6 416.7,249 416.4,253.4ZM384.6,254.5 380.5,253.6 380.3,253.8 379.8,257.3 381.2,258.7 385,258.1ZM394.3,258.4 394.5,258.2 394.6,253.9 393.7,252.9 389.8,253.8 389.6,257.6ZM380,262.9 380.6,262.5 381.2,258.7 379.8,257.3 376.6,258.1 376.4,262.2ZM390.1,262.5 389.1,258.2 385.6,258.5 385.2,263.1 389.5,263.2ZM393.7,262.3 394,262.7 398.5,262.8 398.1,258.6 394.5,258.2 394.3,258.4ZM412.2,257.6 411.3,258.6 412.2,262.8 416.3,262.1 416.7,257.9ZM416.3,262.1 417,262.7 420.7,263.1 421.2,257.9 416.9,257.7 416.7,257.9ZM390,266.8 389.5,263.2 385.2,263.1 384.8,263.5 384.8,267.2 385.1,267.5 389.3,267.4ZM398.3,267.5 398.9,266.9 398.6,262.9 398.5,262.8 394,262.7 394,267.1 394.1,267.2ZM398.9,266.9 402.6,267.1 403.7,266.4 404.2,263.7 402.5,261.9 398.6,262.9ZM416.9,267.6 421,266.8 421,263.3 420.7,263.1 417,262.7 416.4,267.2ZM385.1,267.5 385.2,271.1 389.2,271.9 389.8,271.3 389.3,267.4ZM410.7,265.4 407.5,268.2 407.4,271.3 409.8,273.4 412.5,271.1 412.6,267.4ZM417.5,271.7 420.6,271.6 422.3,270.1 422.5,268.5 421,266.8 416.9,267.6ZM380.7,272.2 380.2,271.5 375.9,271.4 374.9,273.8 377,276.1 380.2,275.6ZM397.8,272 398.4,276.2 403,275.7 403.4,272.2 403.1,271.9 398.4,271.3ZM403,275.7 403.2,276 407.4,276.5 409.8,274.6 409.8,273.4 407.4,271.3 403.4,272.2ZM416.4,276 416.7,272.4 412.5,271.1 409.8,273.4 409.8,274.6 411.8,276.4ZM407.4,276.5 403.2,276 403.3,280.5 406.9,280.9 407.2,280.6ZM411.8,276.4 409.8,274.6 407.4,276.5 407.2,280.6 411.6,280.7ZM416.5,280.7 416.9,280.2 416.5,276.2 416.4,276 411.8,276.4 411.6,280.7 412,281.2ZM416.5,276.2 416.9,280.2 420.6,280.6 421.6,276.4ZM380.9,285 380.2,280.8 376.3,280.7 376.3,285.7 378.6,287.5ZM394.5,285.1 394.4,281.3 393.4,280.3 389.7,280.7 389.9,285.1 393.9,285.8ZM398.7,280.6 394.4,281.3 394.5,285.1 399,285.2ZM406.9,280.9 403.3,280.5 403.1,280.6 402.8,285.1 407.1,285.5 407.3,285.3ZM411.7,285.2 412,281.2 411.6,280.7 407.2,280.6 406.9,280.9 407.3,285.3ZM411.9,285.4 417.1,285.2 416.5,280.7 412,281.2 411.7,285.2ZM416.9,280.2 416.5,280.7 417.1,285.2 418.8,286.5 419.7,286.1 422.1,282.2 420.6,280.6ZM385.5,285.7 384.8,284.8 380.9,285 378.6,287.5 378.7,287.9 380.5,289.6 384.9,289.7ZM389.6,289.8 389.2,285.7 385.5,285.7 384.9,289.7 385.2,290.1ZM390,290.2 393.5,289.9 394.1,289.3 393.9,285.8 389.9,285.1 389.2,285.7 389.6,289.8ZM399.1,285.4 399,285.2 394.5,285.1 393.9,285.8 394.1,289.3 398.2,290ZM399.1,285.4 398.2,290 398.3,290.1 402.8,290.2 403,290 402.3,285.5ZM402.8,285.1 402.3,285.5 403,290 406.8,290 406.8,290 407.1,285.5ZM407.1,285.5 406.8,290 411.4,290.1 412.2,289.1 411.9,285.4 411.7,285.2 407.3,285.3ZM417.1,285.2 411.9,285.4 412.2,289.1 416,289.9 418.3,288.2 418.8,286.5ZM384.9,289.7 380.5,289.6 380.6,294 385,294.2 385.3,294 385.2,290.1ZM385.3,294 389.3,294.7 390,290.2 389.6,289.8 385.2,290.1ZM393.5,289.9 390,290.2 389.3,294.7 389.5,294.9 393.9,294.1ZM398.2,294.1 398.3,290.1 398.2,290 394.1,289.3 393.5,289.9 393.9,294.1 396.5,296.2ZM398.3,290.1 398.2,294.1 402.5,294.1 402.8,290.2ZM403,290 402.8,290.2 402.5,294.1 403,294.7 407.1,294.7 406.8,290ZM411.4,290.1 411.8,293.9 412.1,294.2 416,294 416,289.9 412.2,289.1ZM393.9,294.1 389.5,294.9 389.7,298.1 394.4,298.7 396.5,296.6 396.5,296.2ZM396.5,296.6 398.9,298.6 402.3,298.1 403,294.7 402.5,294.1 398.2,294.1 396.5,296.2ZM403.1,298.8 407.3,298.4 407.5,298.2 407.4,294.9 407.1,294.7 403,294.7 402.3,298.1ZM412.2,298.6 412.1,294.2 411.8,293.9 407.4,294.9 407.5,298.2 412,298.8ZM416,299.1 416.6,294.5 416,294 412.1,294.2 412.2,298.6ZM417.2,300.6 421.8,296.9 420,294.3 416.6,294.5 416,299.1ZM385.6,303 389.6,302.8 389.4,298.5 384.8,298.9ZM394.4,298.7 394.1,302.9 395.5,304.1 398.1,304 399,303.2 398.9,298.6 396.5,296.6ZM398.9,298.6 399,303.2 403.2,303.1 403.1,298.8 402.3,298.1ZM407.5,298.2 407.3,298.4 407.4,302.7 411.3,302.5 412,298.8ZM417.2,300.6 416,299.1 412.2,298.6 412,298.8 411.3,302.5 412.4,303.6 415.9,303.6 417.3,301.6ZM384.9,303.7 385.2,307.1 389.6,307.5 390.2,303.3 389.6,302.8 385.6,303ZM403.2,308.2 403.5,303.4 403.2,303.1 399,303.2 398.1,304 399.5,307.9ZM422.4,303.7 417.3,301.6 415.9,303.6 416.6,307.6 420.6,307.7 422.7,304.9ZM379.6,312 380.1,312.5 384.8,311.9 385,311.6 384.4,308 380.4,307.8ZM385.2,307.1 384.4,308 385,311.6 389.4,311.7 390,308.1 389.6,307.5ZM398.7,312.2 403.1,312.4 403.3,308.3 403.2,308.2 399.5,307.9 397.5,310.7ZM403.3,312.6 407.2,312.7 407.8,312.2 407.8,308.2 403.3,308.3 403.1,312.4ZM412.1,312.5 411.9,308.2 411,307.5 408.4,307.6 407.8,308.2 407.8,312.2 411.5,313.1ZM416.3,312.1 416.3,307.9 411.9,308.2 412.1,312.5ZM421.2,309.6 420.6,307.7 416.6,307.6 416.3,307.9 416.3,312.1 416.8,312.6 419.8,312.5ZM375.1,314.5 377,317.2 380.7,316.7 380.9,316.5 380.1,312.5 379.6,312 376.2,312.3ZM407.2,312.7 403.3,312.6 402.8,316.9 407.2,316.9ZM411.5,313.1 407.8,312.2 407.2,312.7 407.2,316.9 407.7,317.4 411.7,317.1 411.8,317ZM416.3,312.1 412.1,312.5 411.5,313.1 411.8,317 416.4,316.6 416.8,312.6ZM416.8,312.6 416.4,316.6 416.7,316.9 420.5,317.3 421.6,314.4 419.8,312.5ZM384.9,315.9 380.9,316.5 380.7,316.7 381.5,320.8 384.5,321.2 385,320.9 385.8,316.6ZM389.2,316.9 388.6,316.3 385.8,316.6 385,320.9 389.3,321.5ZM389.2,316.9 389.3,321.5 389.3,321.5 393.7,321 394,316.9ZM393.7,321 394,321.4 398.5,321.2 398.6,316.9 398.2,316.6 394.1,316.8 394,316.9ZM402.8,316.9 402.6,317.1 403.1,321 406.9,321 407.7,317.4 407.2,316.9ZM416.4,316.6 411.8,317 411.7,317.1 412.2,321.4 416.2,321.5 416.4,321.3 416.7,316.9ZM416.4,321.3 421.3,321.3 422,319.8 420.5,317.3 416.7,316.9ZM385.1,325.7 384.5,321.2 381.5,320.8 380.6,321.6 380.2,326.1 384.7,326ZM389.3,321.5 385,320.9 384.5,321.2 385.1,325.7 389.2,325.9 389.3,321.5ZM403.1,321 403.1,321 403.4,325.8 407.1,325.4 407.8,322 406.9,321ZM419.4,325.5 421.5,322.2 421.3,321.3 416.4,321.3 416.2,321.5 416.9,325.7 416.9,325.7ZM389.2,325.9 385.1,325.7 384.7,326 384.8,330.1 385.4,330.6 389.5,329.7 389.4,326.1ZM384.8,330.1 380.5,330.2 381.1,334.7 384.4,334.8 385.1,334.3 385.4,330.6ZM381.1,334.7 380.8,335 380.3,338.7 382.5,341.5 385.1,339.3 384.4,334.8ZM385.1,334.3 384.4,334.8 385.1,339.3 389.1,339.4 389.2,339.2 388.6,334.9ZM398.9,335 398.1,334.1 394.1,334.7 393.6,339.1 394.8,340.5 397,339 399.1,338ZM382.5,341.5 382.4,342.1 385.2,344.3 388.7,343.8 389.1,339.4 385.1,339.3ZM393.6,339.1 389.2,339.2 389.1,339.4 388.7,343.8 389.2,344.2 394.8,340.5ZM380.3,348.1 381.3,343.1 375.7,343.2 375.7,343.3 376.6,347.7ZM388.7,343.8 385.2,344.3 385,347.5 388,345 389.2,344.2ZM500.3,299.6 501.2,299.2 502.2,296.7 500.1,294.9 497.3,296.1 497.5,298.6ZM521.9,280.1 523.4,279.4 524.3,276.3 521.7,274.8 520.6,275 520.3,279 520.7,279.6ZM470.7,260.7 471.9,257.7 469.8,256.2 468.3,257 468.1,260.1 469.3,260.9ZM477.6,195.3 478.4,192.8 477.6,191.5 473.9,190.7 472.3,191.9 472.4,193.4 474.5,195.8ZM424.6,242.8 424,244.1 426.8,246.2 430.9,244.7 430.9,243.9 428,241.3ZM432.1,296 428.6,294 426.2,295.2 425.7,296.1 427.5,299.3 432,298.6ZM460.9,168.8 463.1,172.5 467.8,170.7 467.8,168.1 463.1,166.2ZM520.9,248.9 519.4,249.6 519.7,253.4 520,253.5 522.2,253 523.4,250.4ZM509.4,349.9 509.8,345.2 507.2,344.5 505.7,345.3 506.7,347.5 509.1,350.2ZM508,330.2 507.7,332.1 509.7,334.4 515.3,333.6 514.2,329.2 511.1,328.2ZM519.2,271 519.9,274.6 520.6,275 521.7,274.8 523.4,271.6 522.3,270.6ZM482.7,305.8 479.7,303.3 478.6,303.9 477.8,306.7 480.8,308.1ZM433.1,271.5 433.2,272.5 437.7,273.2 439.3,271.3 438.6,269.7 435,268.1ZM519.3,266.6 519.4,266.7 522.4,268.4 523.8,267.4 523.7,265.2 522.5,264.3 520.4,264.8ZM426.8,321 427.1,323.7 427.7,324.2 431.8,323.5 432.6,322.4 428.9,318.8ZM520.4,264.8 522.5,264.3 523.1,261.4 522.5,260.4 521.3,260.1 518.5,261.3 518.5,261.4ZM529.9,272.2 529.3,270.2 526.7,269.3 524.5,271.7 526.5,274.4ZM483.3,328.7 485.4,327 485.4,325.8 481.8,325.5 482,328ZM469.5,286.8 466.9,285.5 465.2,287.2 465.5,288.6 469.1,289.9 469.3,289.8 470,288.8ZM426.1,236.9 427.2,233.8 427.1,233.7 427,233.6 421.7,232.5 420.2,235.4 422.2,238.2 423,238.4ZM514.4,294.8 511.8,293.8 510,296.6 511.2,298.5 514.7,297.3ZM449,326.3 449.2,326.9 452.3,326.2 452,325.3 450.2,324.7ZM528.6,361.1 528.1,364.4 529.1,365.9 530.6,366.1 531,363 531,360.7ZM454.3,269.9 452.4,272.5 453.9,274.6 456.8,273.2 456.7,270.2ZM444.2,191.9 443.7,191.7 441.1,193 441.3,196.5 445.1,197.4 445.5,196.6ZM540.1,255.4 539.7,257.8 541.9,259.5 544.1,257.8 543.5,255ZM468.7,228 469.5,225.8 468.4,224.7 465.7,224.6 465.3,227.9 466.1,228.4ZM535.8,258.2 531.8,259 531.2,260.8 533,263 535,262.7 536.6,259.6 536.5,258.9ZM537.5,254.7 535.8,252.5 534.1,252.7 533.1,253.7 533.1,253.9 535.8,257.2ZM534.4,275.2 535.3,275.3 536.8,272.2 535.7,270.8 534.2,270.7 532.3,272.5ZM535.6,278 533.4,279.7 533.1,280.9 534,281.3 536,279 536.3,278.6ZM468.7,308 468.5,308.1 467.2,309.6 468.4,313.7 469.5,313.5 470.8,311.8 470.3,309ZM487.5,278.8 486.4,280.9 488.4,283 491.1,280ZM529.1,365.9 528,369.6 530,370 530.6,366.1ZM528.9,246.1 527.1,244.9 524.8,246.5 525.2,250 528.3,248.5ZM479.4,213 479.3,213.5 480.2,216.7 481.5,217.4 484.6,214.5 484.7,212.7 481,211.9ZM435.9,334.6 436.1,336.4 441.4,337 441.5,336.8 441.8,335.9 440.5,333.2 438.1,332.6ZM488.9,262 488.9,262 486.1,258.5 484.4,259 484.1,262.1 485.1,263.5ZM505.1,270.1 507.9,270.4 508.6,268.1 506.9,265.3 506.8,265.3 504,267.3ZM536.2,242.9 536.3,242.8 537.4,240.6 537.2,239.2 533.5,237.7 532,239.6 532.1,240.7ZM434.6,292.8 432.5,290.7 429.4,290.7 428.6,294 432.1,296 434.6,293.8ZM484.9,281.2 486.4,280.9 487.5,278.8 487.1,277.6 484.7,277.1 483.6,279.1ZM458.5,300.5 459.9,299.8 460.2,295.3 457.3,294.9 455.9,297.5 456.2,299.2ZM446,327.3 444,327.4 442.6,329.8 443.9,330.7 446.3,327.9ZM448.6,319.5 446.8,320 447.5,323.1 449.8,323.4 451.1,321.2 450.9,320.8ZM531.9,249.4 531.2,245.7 528.9,246.1 528.3,248.5 530.2,250.6ZM469.8,295 470.9,293.1 469.3,289.8 469.1,289.9 466.1,292.9 467.4,295.5ZM441.2,316.4 441.3,313.4 439,310.9 436.2,312.9 437.1,317.4ZM515.5,264.3 518.5,261.4 518.5,261.3 517.2,259.7 515.3,259.5 514,261.4ZM436.8,295.3 441.1,294.1 441.2,294 440.8,291.9 437.6,290.2 434.6,292.8 434.6,293.8ZM452.4,262.2 452.1,262 449.9,263.3 449.4,265.1 450.4,266.6 453.2,265.3ZM446,338.8 441.5,336.8 441.4,337 441.2,338.1 445.7,340.5 446.3,339.7ZM465.7,271 464.2,271.5 463.9,274.2 466,275.7 468.6,274.6 469,272.8ZM432.9,302 436.1,303.6 438.5,302.7 439.5,300.9 439.5,300.1 437,298.7 432.9,299.8ZM471.7,301.2 475.3,302 476.2,299.6 475.8,298.6 473.5,297.4 472,297.7 471,299.8ZM476.1,276.6 474.8,275.2 474,275.1 470.6,277 470.6,278 472.4,280.2 473.1,280.4ZM543.9,254.1 540.7,250.4 540.1,250.8 539.1,254.5 540.1,255.4 543.5,255ZM450.5,299.4 450.5,299.4 454.5,300.4 456.2,299.2 455.9,297.5 452.9,296.6 450.6,298.3ZM501.5,323.5 498.2,324.4 497.6,325.7 499.4,329.1 501.3,329.3 502.7,328ZM438.5,308.5 440,305.8 438.5,302.7 436.1,303.6 435.8,307ZM503.5,250.3 502.7,250 500.7,253.8 502.3,255 505.5,254.4 505.8,253.2ZM460.5,291.4 457.4,290.5 456.7,293.9 457.3,294.9 460.2,295.3 461.4,294.8ZM420,294.3 421.8,296.9 422.1,297 425.7,296.1 426.2,295.2 423.9,291 420.9,291.9ZM450.2,267.9 450.4,266.6 449.4,265.1 446.9,265.2 445.7,268.5 446.2,268.9 449.9,268.4ZM479.9,260.3 479.9,260.8 481.2,262.3 484.1,262.1 484.4,259 483.4,258.5 480.4,259.5ZM479.2,256 482.6,255.6 483.4,254.1 480.5,251.9 480.2,252.1 478.5,255.6ZM423,282.2 425.6,285 427.9,284.1 428.1,281.3 428,281.1 424.6,280.8ZM451.1,321.2 454.5,322.6 456,320.5 453,317.2 450.9,320.8ZM452.5,312.2 451.6,310.5 448.9,309.5 447.1,310.8 448.7,313.6 452.4,312.4ZM512.7,268.3 511.9,271.5 514,272.8 515.6,272.2 516.3,271.1 515.2,268.4ZM504.1,322.7 505.9,320.9 506,319.9 503.9,317.8 501,320 501.9,322.7ZM508.6,318.5 509.2,316.6 505.2,316.1 504,317 503.9,317.8 506,319.9ZM447.3,261.2 449.9,263.3 452.1,262 451.8,260.7 449.3,259.2 447.2,261ZM473.5,308.3 474.3,310.3 476.5,310.8 477.1,310.3 477.6,306.8 474.1,306.5ZM453.3,282.3 454.3,285.9 455.3,286.1 457.4,284.8 457.5,281.6 457.4,281.5 455.6,280.8ZM473.8,305.8 470.8,304.6 468.7,308 470.3,309 473.5,308.3 474.1,306.5ZM471,299.8 472,297.7 469.8,295 467.4,295.5 466.9,296.2 468.4,299.9ZM537.4,267.5 535.7,270.8 536.8,272.2 538,272.2 540,270.3 539.5,267.7ZM479.6,281.8 479.8,281.2 479.7,281 478.1,280.2 474.2,281.5 474.3,282.4 477,284.2ZM507.8,311.8 510.8,310.8 511,309.9 509.7,307 509.5,307 508.1,307.3 506.5,309.8ZM528.9,285.7 528.1,287 528.6,287.8 530.1,286ZM517.5,287.4 517.7,289.2 521.4,288.9 521.5,286.1 520.2,284.8 518.9,284.8ZM508.4,196 511.8,192.7 510.6,190.8 509,191.7 507.1,194.8ZM528.6,277.9 528.4,279.2 531,281.9 531.5,281.9 533.1,280.9 533.4,279.7 531.5,276.9 530.7,276.8ZM532.9,268.4 533.6,266.8 532.5,265 529.7,265.7 530.1,269.1ZM493.3,298 495.4,295 495.3,294.7 491.8,293.7 490.2,295.8 490.7,296.9ZM447.8,291 448.2,288.1 447,286.8 445.1,286.5 443.1,288.6 443.1,288.9 446.7,291.6ZM505,305.7 505.5,303.6 503.8,302 501.4,303.6 502.2,305.9 504.4,306.2ZM425.3,250.2 426.8,249.2 426.8,246.2 424,244.1 422,245 422,248ZM432.2,316.8 432.8,313.7 429.8,312.7 427.8,316 429,317.6ZM461.6,235.3 463.5,238.2 465.4,237.9 466.1,234.9 465.1,233.3 461.9,234.9ZM464.9,317 466.2,314.5 464.6,313.2 461,314.2 460.6,316.1 461.6,317.3ZM467.8,303.2 470.7,304.3 471.7,301.2 471,299.8 468.4,299.9 468,300.4ZM444.4,283.9 445.1,286.5 447,286.8 449.5,283.6 448.2,282.7 444.9,283.3ZM511.3,223.5 512.9,226.5 513.5,226.7 514.7,226.3 515.5,222.4 515.5,222.4 512.6,222.3ZM442.8,294.3 446.2,292.8 446.7,291.6 443.1,288.9 440.8,291.9 441.2,294ZM460.7,304.3 460.8,305.9 463.7,307.2 465.7,305.3 465.7,304.6 463.6,302.5ZM442,283.4 439.8,285.9 443.1,288.6 445.1,286.5 444.4,283.9ZM499.1,266.8 498.8,265.3 497.6,264.2 496.1,264.3 494.8,267.3 495.3,268 497.8,268.8ZM488.2,276 491.2,275.9 491.3,275.9 491.5,274.9 490,272.1 488.2,271.7 487.7,272.1 487.1,273.5ZM442.4,317.5 440.9,322.2 442.1,323.5 442.2,323.5 442.5,323.4 446.1,319.8 444.6,317.5ZM462.4,264.2 463.6,267.1 466.8,267.2 467.5,265.3 465.2,263 463.5,263ZM510.4,325.6 511.1,328.2 514.2,329.2 515.2,328.1 515,323.9 514.7,323.4 513.1,322.8ZM434.9,328.1 435.1,329.3 437.6,330.3 440,328.7 439.6,326.8 436.6,326ZM515.2,350.8 519.6,354.2 520.2,354 521.9,348.3 518.2,346.6 516,347.4ZM464.1,290.4 465.5,288.6 465.2,287.2 463.2,286.2 461.3,287.9 462,289.8ZM445.5,196.6 445.1,197.4 445.5,198.5 446.9,198.9 447.4,195.4ZM532.5,222 532.5,223.9 535.1,225.5 536.6,224.2 535.2,221.2ZM562.1,188.1 560.2,188.3 558.6,190.3 559,193.1 559.6,193.8 560.3,194 563.2,193 564,189.3ZM493.8,299 492.2,301.4 492.4,302.4 493.7,303.3 496.5,302.1 496.4,299.7ZM503.3,262.4 502.8,258.7 501.7,258.1 499.3,258.6 498.5,259.9 498.8,260.7 502.6,262.8ZM496.4,299.7 496.5,302.1 498.4,303.5 499.5,303 500.3,299.6 497.5,298.6ZM463.6,302.5 465.7,304.6 467.8,303.2 468,300.4 463.6,300.5ZM512.4,320.8 513.1,322.8 514.7,323.4 513,320 513,319.4ZM445.7,315.8 444.4,312.7 441.3,313.4 441.2,316.4 442.4,317.5 444.6,317.5ZM543.9,249.3 545.7,250.8 546.3,250.4 545.5,246ZM503.9,317.8 504,317 501.7,314.9 499.8,315.2 498.8,316.4 499.6,319.4 501,320ZM512,265.1 511.6,267.2 512.7,268.3 515.2,268.4 516.6,266.2 515.5,264.3ZM458.3,320.7 461.3,319.7 461.6,317.3 460.6,316.1 457.8,316.4 456.8,320.2ZM492.4,255.5 493,253.9 492,251.6 489.2,252 488.9,253.9 490.8,256.2ZM498.8,260.7 497.6,264.2 498.8,265.3 502.1,263.8 502.6,262.8ZM508.5,197.4 508.4,196 507.1,194.8 505,198.4ZM451.6,281.7 453.3,282.3 455.6,280.8 454.7,278.9 452.5,278.5 451.3,280.1ZM497.6,288 495.6,290.7 496.2,291.8 500,292 500.5,288.5ZM480.8,291.1 477.1,290.5 476.5,291.4 477.1,294.2 477.3,294.3 481.2,293.1ZM474.3,287 474.2,287.5 476.9,289.6 478.9,287 478.9,286.8 477.1,285.4ZM488.2,271.7 488.5,267.7 488.3,267.4 487.5,267.3 485,268.4 484.6,270.3 487.7,272.1ZM483.6,279.1 484.7,277.1 483.8,275.8 482,275.8 480.7,277.3 480.8,279.3ZM429.8,253.6 430.6,258 432.9,258.9 433.7,258.4 434,254 431.1,252 431.1,252ZM477.7,263 478.5,265.2 480.8,265 481.2,262.3 479.9,260.8ZM476.3,276.6 478,276 479.6,272.7 476.6,271 474.8,275.2 476.1,276.6ZM434,286.7 432.7,285.2 430.2,285.9 428.4,289.3 429.4,290.7 432.5,290.7ZM523.7,365.3 521.7,363.4 520.1,364.6 521.7,366.7 523.5,368ZM514.3,202.3 513.7,203.6 516.2,206.5 518.7,205 518.7,200.9ZM471.9,247.3 473.6,249.1 476.1,247.9 475,245.4 472.8,244.8 472.4,245ZM543,231.1 539.1,231.2 538.7,233.5 541.8,235.3 541.9,235.3 543.4,232.7ZM544.2,262.8 546.2,261.3 544.6,258 544.1,257.8 541.9,259.5 541.7,260.6ZM491.5,247.4 492.1,251.5 494.7,250.5 495,248.1 493.1,246.5ZM488.2,244.3 489.5,247.2 491.5,247.4 493.1,246.5 493.7,244.6 490,242.1ZM544.7,245.3 545.5,245.9 545,243 544.9,242.8ZM446.2,268.9 445.7,268.5 443.9,268.4 441.7,271.6 442.7,273 445.9,273.6 447,272.9ZM516.3,254.9 518,257.3 520.5,256.9 520.7,256.6 520,253.5 519.7,253.4 516.8,254ZM490.3,214.1 492.3,212.5 492.1,209.4 492,209.3 486.7,211.7ZM425.3,250.2 424.8,252.8 426,254.4 429.8,253.6 431.1,252 429.9,250.2 426.8,249.2ZM494.6,283.8 496,284.9 498.7,283.4 498.8,281.5 497.4,280.1 495.1,280.1ZM525.5,254.4 526.7,255.2 528.8,254.2 529.1,252.2 525.8,251.3ZM472.4,280.2 469.8,282.7 470.8,284.7 473.1,284.8 474.3,282.4 474.2,281.5 473.1,280.4ZM445.1,227.9 444.7,228.1 443.6,229.7 443.6,229.9 445.9,232.1 448.8,231.4 449.6,229.4ZM472.8,232.2 474,234.7 474.6,234.8 476.8,233.2 476.7,230 475.9,229.9 473,231.8ZM481.7,271.4 480.2,272.6 482,275.8 483.8,275.8 484.6,274.2 482.7,271.5ZM484.6,310.2 481.1,309.3 480.2,310.8 480.6,313.1 480.9,313.3 483.5,313.2ZM471.1,265.3 471.9,268.1 473.6,268.9 475.1,265.7 474.4,264.3 472.6,264ZM542.3,213.6 543.1,213.9 543.2,213.9 545.5,211 544.2,207.9 541.3,209 541.1,209.4ZM522,295.3 524.5,292.4 522.6,291.9 521.3,293.2ZM424.5,313.8 421.6,314.4 420.5,317.3 422,319.8 423.1,319.5 426.1,315.7ZM493.8,287.7 494.3,290.2 495.6,290.7 497.6,288 496,285.5ZM458.6,276.8 458.8,277.1 461.4,277.9 462.9,274.6 460.1,273.4 458.7,274.5ZM489.2,252 488.8,251.7 485.3,251.4 484.4,253.8 486.4,255.4 488.9,253.9ZM537.1,250.8 540.1,250.8 540.7,250.4 540.9,249.8 540.3,247.7 539.3,246.9 535.6,248 535.6,248.1ZM500.7,253.8 499.5,253.9 498.1,255.4 499.3,258.6 501.7,258.1 502.3,255ZM473.9,291.6 472.8,288.7 470,288.8 469.3,289.8 470.9,293.1 472.9,293ZM483.5,313.2 480.9,313.3 481.2,317.6 482,317.8 483.8,316.8 484.4,314.2ZM509.5,307 509.7,307 512.2,305.3 512.4,304.7 509.8,301.5 508.6,301.9 507.9,302.8ZM464.2,258.7 465,255.6 462.5,254.3 460.1,255.9 460.1,256 461.6,259.5 462.6,259.7ZM495.6,253.9 496.2,251.6 494.7,250.5 492.1,251.5 492,251.6 493,253.9ZM484.6,270.3 485,268.4 482.5,266.5 481,268.7 481.7,271.4 482.7,271.5ZM457.8,316.4 460.6,316.1 461,314.2 460.3,312.6 458,311.9 456.6,313.3 456.6,315.5ZM544.2,262.8 541.7,260.6 539.6,262.1 539.5,262.7 540.8,265 544.1,264.6ZM483.5,195.6 483,193.5 482.1,192.7 478.4,192.8 477.6,195.3 478.6,197.1 483.1,196.6ZM545.6,253.3 545.7,250.8 543.9,249.3 540.9,249.8 540.7,250.4 543.9,254.1ZM524.2,258.1 523.2,256.3 520.7,256.6 520.5,256.9 521.3,260.1 522.5,260.4ZM499.5,219.4 501.1,221.5 502.2,221.3 504.4,218.4 504.1,217.3 500.7,215.7ZM459,228.3 460.7,230.8 462.7,230 463.4,228.6 460.9,225.9 460.8,225.9ZM501.8,267.7 499.1,266.8 497.8,268.8 498,269.7 501.3,271.5ZM463.4,300.2 459.9,299.8 458.5,300.5 458.5,302.7 460.7,304.3 463.6,302.5 463.6,300.5ZM457.5,309.8 458,311.9 460.3,312.6 461.8,310.2 459,307.9ZM504.1,322.7 506.1,325.2 508.6,324.3 508.5,322.7 505.9,320.9ZM431.8,323.5 432.3,326.5 434.9,328.1 436.6,326 436.3,323.5 433.4,322.1 432.6,322.4ZM472.6,264 474.4,264.3 475.9,262.5 475.2,260.2 475,260.2 471.9,261.4ZM483.4,258.5 484.4,259 486.1,258.5 486.7,257.5 486.4,255.4 484.4,253.8 483.4,254.1 482.6,255.6ZM496.2,291.8 495.3,294.7 495.4,295 497.3,296.1 500.1,294.9 500.3,292.4 500,292ZM463.5,263 465.2,263 467,260.3 464.2,258.7 462.6,259.7ZM517.9,282.2 520.7,279.6 520.3,279 516.6,277.9 515.6,280ZM510.4,316.1 509.8,316.2 509.2,316.6 508.6,318.5 510,320.9 512.4,320.8 513,319.4 513.1,318.5ZM524.3,276.3 523.4,279.4 526.3,280.5 528.4,279.2 528.6,277.9 526.3,275.4ZM466.9,296.2 467.4,295.5 466.1,292.9 464.6,292.2 461.5,294.8 464.1,297.2ZM448.2,278 448.3,278.8 451.3,280.1 452.5,278.5 452,276.8 449.6,276.2ZM481.9,249.3 485,250.6 486.1,248.4 484.8,246.3 482.9,246ZM490.3,303.6 492.4,302.4 492.2,301.4 489.4,299.6 488.2,300.1 487.2,302.3ZM429.8,312.7 429.1,310.7 425.2,310.9 425.1,311 424.5,313.8 426.1,315.7 427.8,316ZM460,264.3 462.4,264.2 463.5,263 462.6,259.7 461.6,259.5 459.1,261 459.5,263.8ZM506.9,265.3 509.3,262.6 506.8,260.4 503.5,262.5 506.8,265.3ZM444.4,312.7 445.6,310.7 444.2,308.7 439.1,310.3 439,310.9 441.3,313.4ZM509.4,277.8 506.4,279.8 507.6,282.7 510.3,282.2 511.6,279.4ZM465,281.2 464.9,283.1 466.8,284.3 468.7,282.5 467.3,280.2ZM538.7,233.5 536.9,234.5 538.1,237.8 541,237.2 541.8,235.3ZM496.9,219.2 496.1,220.3 497.7,223.9 498,224 499.5,223.5 501.1,221.5 499.5,219.4ZM480.2,252.1 477.1,251.1 476,252.1 476.6,255.3 477.1,255.6 478.5,255.6ZM532.7,216.9 534,217.3 536.1,216.6 537.7,213.9 536.4,211.5 535.3,211.5 532.6,214.1ZM486.1,258.5 488.9,262 491.2,259.9 490.3,257.5 486.7,257.5ZM479.6,272.7 480.2,272.6 481.7,271.4 481,268.7 478,268.1 476.3,270.4 476.6,271ZM432.8,313.7 434.8,312.6 432.4,308 432,307.8 430.4,308.4 429.1,310.7 429.8,312.7ZM424.6,276.2 422,276.1 421.6,276.4 420.6,280.6 422.1,282.2 423,282.2 424.6,280.8ZM442.2,323.5 444,327.4 446,327.3 447,326 446.4,324.2 442.5,323.4ZM452.9,316.5 452.4,312.4 448.7,313.6 448.3,315.2 449.4,316.5ZM544.1,257.8 544.6,258 547.7,257.4 548.4,256.1 546.7,253.6 545.6,253.3 543.9,254.1 543.5,255ZM489.8,241.3 485.9,239.2 484.3,241.4 487.4,244.2 488.2,244.3 490,242.1 490,241.7ZM478.1,280.2 479.7,281 480.8,279.3 480.7,277.3 478,276 476.3,276.6ZM538.7,244.5 541.4,243 541.7,241 537.4,240.6 536.3,242.8ZM430.2,285.9 432.7,285.2 433,283.4 431.9,281.2 428.1,281.3 427.9,284.1ZM529.1,365.9 528.1,364.4 523.7,365.3 523.5,368 525,369 528,369.6ZM490.3,257.5 491.2,259.9 493.9,260.3 494.7,259.6 494.7,257.4 492.4,255.5 490.8,256.2ZM522.7,354.9 520.2,354 519.6,354.2 518,356.8 518.5,359.8 521.6,361.5 524.2,359.4ZM519.1,297.6 518.2,296.7 515.4,297.8 515.7,300.1 517.3,300.9 517.5,300.5 518.6,299.3ZM459.8,236 457.1,234 455.7,234.4 455.3,235.1 455.6,237.8 457.3,239.2 458.7,238.7ZM439.1,310.3 438.5,308.5 435.8,307 432.4,308 434.8,312.6 436.2,312.9 439,310.9ZM512.1,284.3 509.5,287.4 509.8,288.3 512.8,289.4 514.3,286 513.7,284.4ZM458.8,285.5 457.4,284.8 455.3,286.1 456.3,289.6 457.3,290.4 459.9,287.5ZM462.8,284.3 464.9,283.1 465,281.2 462.4,279.3 461.1,281.4 461.9,283.7ZM506.1,298.9 506.1,297.5 503.9,296.4 502.2,296.7 501.2,299.2 503.8,301.4ZM535.8,257.2 533.1,253.9 531,256 530.9,257.3 531.8,259 535.8,258.2ZM510,262.5 512,265.1 515.5,264.3 515.5,264.3 514,261.4 510.9,261.4ZM490.3,303.6 487.2,302.3 487,302.5 486.8,306.3 489.5,307.6 490.2,307.2ZM546.7,222 548,221.9 549.9,218.2 549.4,217.8 546.9,218.2 546.8,218.3 546,221.6ZM535.3,220.9 535.2,221.2 536.6,224.2 538.3,224.3 539.7,222.9 539.7,221.5 538.1,219.9ZM468.6,264.7 471.1,265.3 472.6,264 471.9,261.4 470.7,260.7 469.3,260.9ZM425.2,310.9 425.5,306.3 422.7,304.9 420.6,307.7 421.2,309.6 425.1,311ZM459.2,323.7 458.3,320.7 456.8,320.2 456,320.5 454.5,322.6 454.6,323 455.6,324.3 457.4,324.7 458.6,324.4ZM477.6,195.3 474.5,195.8 473.3,198.6 476,200.2 478.4,198.7 478.6,197.1ZM439.4,321.8 436.3,323.5 436.6,326 439.6,326.8 442.1,323.5 440.9,322.2ZM505.4,275.1 505.4,275.1 504.6,274.8 501.2,277.1 502.1,279.5 502.9,280 505.5,279.4ZM482.5,266.5 482.4,266.3 480.8,265 478.5,265.2 477.8,266.1 478,268.1 481,268.7ZM456.8,273.2 458.7,274.5 460.1,273.4 460.4,271.4 458.4,269 456.7,270.2ZM512.4,304.7 512.2,305.3 514.7,307.9 515.9,304.7 515.6,304.1 513.9,303.7ZM475.3,302 475.3,302.2 478.6,303.9 479.7,303.3 480.5,301.5 479.6,300 476.2,299.6ZM428.4,268.7 428.8,268.5 430.7,265.6 430.6,264.2 426.5,261.9 425.5,262.8 425.4,267.3ZM455.9,297.5 457.3,294.9 456.7,293.9 453.3,293.4 452.8,293.9 452.9,296.6ZM483.4,301.1 484.4,302.1 487,302.5 487.2,302.3 488.2,300.1 486.5,298.3 483.9,298.8ZM456.6,313.3 458,311.9 457.5,309.8 455.5,309.5 453.6,312ZM437.1,287.3 437.6,290.2 440.8,291.9 443.1,288.9 443.1,288.6 439.8,285.9 438.5,286ZM445.5,203 444.2,206.1 446.8,207.2 446,205 446.3,203ZM529.1,353.9 527.6,352.6 522.7,354.9 524.2,359.4 527.3,359.6ZM452.4,272.5 454.3,269.9 453.9,269.1 450.2,267.9 449.9,268.4 450.4,272.4ZM478,268.1 477.8,266.1 475.1,265.7 473.6,268.9 474,269.6 476.3,270.4ZM427.8,316 426.1,315.7 423.1,319.5 426.8,321 428.9,318.8 429,317.6ZM487.1,277.6 487.5,278.8 491.1,280 491.1,280 491.2,275.9 488.2,276ZM477.1,294.2 474.3,294.8 473.5,297.4 475.8,298.6 477.7,296.2 477.3,294.3ZM518.5,359.8 518,356.8 514.3,356.6 516.7,360 517.2,360.7ZM539.7,257.8 540.1,255.4 539.1,254.5 537.5,254.7 535.8,257.2 535.8,258.2 536.5,258.9ZM493.5,222.4 495.5,224.5 497.7,223.9 496.1,220.3 494.2,220.6ZM422.1,297 421.8,296.9 417.2,300.6 417.3,301.6 422.4,303.7 423.4,302.1ZM544.7,245.3 543.2,245.2 540.3,247.7 540.9,249.8 543.9,249.3 545.5,246 545.5,245.9ZM486.5,314.2 487.6,316.4 489.9,316.5 490.8,314.1 490.3,313.2 487.7,312.7ZM515.7,300.1 513.9,301.1 513.9,303.7 515.6,304.1 516.4,303.5 517.3,300.9ZM477.6,306.8 477.8,306.7 478.6,303.9 475.3,302.2 473.8,305.8 474.1,306.5ZM529.1,252.2 530,251.5 530.2,250.6 528.3,248.5 525.2,250 525.1,250.1 525.8,251.3ZM532.3,217 531.2,221 532.5,222 535.2,221.2 535.3,220.9 534,217.3 532.7,216.9ZM450.6,304.3 451.5,303.3 450.5,299.4 450.5,299.4 449.1,299.9 447.4,302.7 447.7,303.5ZM517.9,282.2 517.9,283.5 518.9,284.8 520.2,284.8 522.1,282.4 521.9,280.1 520.7,279.6ZM533.1,253.9 533.1,253.7 530,251.5 529.1,252.2 528.8,254.2 531,256ZM465.2,263 467.5,265.3 468.6,264.7 469.3,260.9 468.1,260.1 467,260.3ZM491.4,291.5 491.8,293.7 495.3,294.7 496.2,291.8 495.6,290.7 494.3,290.2 491.5,291.3ZM508.1,291.4 511.7,293.8 513.2,290.1 512.8,289.4 509.8,288.3ZM531.1,242.1 531.3,245.6 534.4,245.6 536.2,242.9 532.1,240.7ZM458.5,302.7 458.5,300.5 456.2,299.2 454.5,300.4 454.2,303.3 457.2,303.7ZM546.7,222 546,221.6 544.9,222.1 543.5,224.4 543.6,225.4 545.9,226.2 547.3,223.4ZM483,193.5 483.5,195.6 485.3,195.6 484,193ZM466.8,267.2 466.9,267.4 469.4,269.1 471.9,268.1 471.1,265.3 468.6,264.7 467.5,265.3ZM467.7,319.8 469.5,318.6 467.9,314.2 466.2,314.5 464.9,317 466.1,319.1ZM450.6,304.3 447.7,303.5 446.6,305.9 449,307.4 450.7,306.2ZM498.8,260.7 498.5,259.9 494.7,259.6 493.9,260.3 494.2,263 496.1,264.3 497.6,264.2ZM465.5,242.7 466.6,241.9 467.1,239.1 465.4,237.9 463.5,238.2 461.9,240.8 462,241ZM421.1,244.6 422,245 424,244.1 424.6,242.8 423,238.4 422.2,238.2 419.8,240.7ZM542.2,219.8 544.9,222.1 546,221.6 546.8,218.3 543.3,217.5 542.2,218.5ZM453.6,312 455.5,309.5 454,307.1 452.9,307.4 451.6,310.5 452.5,312.2ZM533.5,237.7 533.5,237.5 531.7,235.1 530,235 528.6,236.1 529.1,238.4 532,239.6ZM428,281.1 428.3,278.1 426.2,276.2 424.6,276.2 424.6,276.2 424.6,280.8ZM462.1,223.9 460.9,225.9 463.4,228.6 465.3,227.9 465.7,224.6 464.9,223.6ZM522.1,245.6 524.8,246.5 527.1,244.9 526.7,243.1 524,242.3 522.4,243.4ZM502.2,305.9 501.4,303.6 499.5,303 498.4,303.5 498.1,304.9 500.3,307.6 500.5,307.6ZM424.7,288 425.1,288.8 428.4,289.3 430.2,285.9 427.9,284.1 425.6,285ZM515.5,222.4 518.3,222.3 518.4,222.2 518.6,220 516.6,217.8 514.8,219.1 515.5,222.4ZM514.4,280.5 515.6,280 516.6,277.9 516.4,277.1 513.7,276.1 511.6,279.3ZM506.5,309.8 508.1,307.3 505,305.7 504.4,306.2 504.3,309.5ZM423.1,319.5 422,319.8 421.3,321.3 421.5,322.2 423.9,324.3 427.1,323.7 426.8,321ZM460.1,244.6 460.9,245.3 463.4,245.7 465.4,243.6 465.5,242.7 462,241 460,244ZM529.3,270.2 529.9,272.2 530.2,272.4 532.3,272.5 534.2,270.7 532.9,268.4 530.1,269.1ZM464.6,313.2 466.2,314.5 467.9,314.2 468.4,313.7 467.2,309.6 464.1,310.1ZM476.7,230 476.8,233.2 479.8,234.2 480.5,230.6 478.1,229.3ZM478.9,287 481.5,289.6 482.7,289 482.6,285.5 480.9,285.2 478.9,286.8ZM511.2,298.5 510,296.6 507.8,296.5 506.1,297.5 506.1,298.9 508.6,301.9 509.8,301.5 511.2,299.7ZM522.3,270.6 523.4,271.6 524.5,271.7 526.7,269.3 526.3,268.5 523.8,267.4 522.4,268.4ZM484.7,222.2 482.3,219.4 480.1,221.5 480.1,222.1 482.4,225.1 484.4,223.6ZM473.1,284.8 470.8,284.7 469.5,286.8 470,288.8 472.8,288.7 474.2,287.5 474.3,287ZM474.1,240.4 472.8,244.8 475,245.4 477.5,243.5 477.5,242.4 475,240.2ZM532.1,283.5 534,281.3 533.1,280.9 531.5,281.9ZM456.8,273.2 453.9,274.6 453.9,274.7 455.8,277 458.6,276.8 458.7,274.5ZM528.6,236.1 526.9,235.6 524.9,236.5 524.6,238.5 527.5,240 529.1,238.4ZM539.7,221.5 542.2,219.8 542.2,218.5 540,217.4 538.2,218.7 538.1,219.9ZM427.7,324.2 427.7,327 429.9,328.5 432.3,326.5 431.8,323.5ZM534.7,227.5 535.1,225.5 532.5,223.9 530.3,225.8 533,228ZM467.5,279.7 465.7,277.2 462.4,279.3 462.4,279.3 465,281.2 467.3,280.2ZM475.3,302.2 475.3,302 471.7,301.2 470.7,304.3 470.8,304.6 473.8,305.8ZM489.5,307.6 486.8,306.3 485.2,306.9 484.7,310.1 487.1,310.9 489.4,308.4ZM449.5,283.6 452,286.7 454.3,285.9 453.3,282.3 451.6,281.7ZM447,272.9 445.9,273.6 445.5,276.5 448.2,278 449.6,276.2 449,273.3ZM479.9,317.9 481.2,317.6 480.9,313.3 480.6,313.1 477.8,314.2 478.3,317.1ZM460.1,273.4 462.9,274.6 463.9,274.2 464.2,271.5 463.3,270.8 460.4,271.4ZM492.1,251.5 491.5,247.4 489.5,247.2 488.7,248.1 488.8,251.7 489.2,252 492,251.6ZM546.7,253.6 548.4,256.1 548.7,256.1 547,253.4ZM530.7,276.8 531.5,276.9 534.4,275.2 532.3,272.5 530.2,272.4ZM511.2,298.5 511.2,299.7 513.9,301.1 515.7,300.1 515.4,297.8 514.7,297.3ZM535.1,225.5 534.7,227.5 536.5,229.3 538,229.3 539.5,227.5 538.3,224.3 536.6,224.2ZM453,317.2 453,316.5 452.9,316.5 449.4,316.5 448.6,319.5 450.9,320.8ZM528.6,277.9 530.7,276.8 530.2,272.4 529.9,272.2 526.5,274.4 526.3,275.4ZM532.5,265 533.6,266.8 536.7,266.8 536.7,264.2 535,262.7 533,263ZM437,298.7 436.8,295.3 434.6,293.8 432.1,296 432,298.6 432.9,299.8ZM446.2,292.8 442.8,294.3 445.4,297.6 447.6,295.4ZM513.2,290.1 516,290.5 517.4,289.9 517.7,289.2 517.5,287.4 514.3,286 512.8,289.4ZM425.7,296.1 422.1,297 423.4,302.1 426.9,300.9 427.5,299.3ZM537.4,240.6 541.7,241 542.4,240.3 541,237.2 538.1,237.8 537.2,239.2ZM476.5,291.4 473.9,291.6 472.9,293 474.3,294.8 477.1,294.2ZM513.7,284.4 514.3,286 517.5,287.4 518.9,284.8 517.9,283.5 514,284.1ZM528.1,287 525.7,287.5 525.5,287.9 526.4,290.3 527.5,289 528.6,287.8ZM422.1,282.2 419.7,286.1 424.7,288 425.6,285 423,282.2ZM543.6,229.7 542.6,227.3 539.5,227.5 538,229.3 539.1,231.2 543,231.1ZM528.4,279.2 526.3,280.5 526.2,283 528.7,284.1 531,281.9ZM482.4,266.3 482.5,266.5 485,268.4 487.5,267.3 485.1,263.8ZM432,307.8 431.9,303.1 428.5,303.1 427,306 430.4,308.4ZM473.4,311.7 470.8,311.8 469.5,313.5 471.8,315 474,314.2ZM468.7,282.5 469.8,282.7 472.4,280.2 470.6,278 467.5,279.7 467.3,280.2ZM456.6,315.5 456.6,313.3 453.6,312 452.5,312.2 452.4,312.4 452.9,316.5 453,316.5ZM532,239.6 529.1,238.4 527.5,240 527.6,241.9 531.1,242.1 532.1,240.7ZM437,317.5 437.1,317.4 436.2,312.9 434.8,312.6 432.8,313.7 432.2,316.8 434.7,318.6ZM523.9,254.9 523.2,256.3 524.2,258.1 526.6,258.2 527,257.6 526.7,255.2 525.5,254.4ZM528.6,361.1 531,360.7 531,354 529.1,353.9 527.3,359.6ZM429.9,250.2 431.1,252 431.1,252 435.2,248.8 435.4,247.7 435.3,247.5 431.3,245.4ZM507.9,302.8 508.6,301.9 506.1,298.9 503.8,301.4 503.8,302 505.5,303.6ZM539.5,274.1 538,272.2 536.8,272.2 535.3,275.3 535.7,275.9 538.5,276 539.2,275.1ZM437.6,290.2 437.1,287.3 434,286.7 432.5,290.7 434.6,292.8ZM450.4,293.9 449.4,291.5 447.8,291 446.7,291.6 446.2,292.8 447.6,295.4 449.1,295.6ZM455.8,277 454.7,278.9 455.6,280.8 457.4,281.5 458.8,277.1 458.6,276.8ZM526.5,274.4 524.5,271.7 523.4,271.6 521.7,274.8 524.3,276.3 526.3,275.4ZM492.2,307.2 490.2,307.2 489.5,307.6 489.4,308.4 491.1,311.2 494.5,310.5 494.6,310ZM460.8,305.9 460.7,304.3 458.5,302.7 457.2,303.7 457,306.2 459,307.9ZM467,260.3 468.1,260.1 468.3,257 465.5,255.4 465,255.6 464.2,258.7ZM508.6,233 507.9,229.9 506.2,229.3 504.7,230.3 505.5,233.1 507.4,233.8ZM542.4,240.3 541.7,241 541.4,243 543.2,245.2 544.7,245.3 544.9,242.8 544.6,241.6 542.6,240.2ZM448.3,315.2 445.7,315.8 444.6,317.5 446.1,319.8 446.8,320 448.6,319.5 449.4,316.5ZM461.8,310.2 463.7,309.8 463.7,307.2 460.8,305.9 459,307.9 459,307.9ZM489.4,299.6 492.2,301.4 493.8,299 493.3,298 490.7,296.9ZM464.1,297.2 461.5,294.8 461.4,294.8 460.2,295.3 459.9,299.8 463.4,300.2ZM521.7,363.4 521.6,361.5 518.5,359.8 517.2,360.7 520.1,364.6ZM507.2,283.4 507.6,282.7 506.4,279.8 505.5,279.4 502.9,280 503.2,283.7ZM477.8,314.2 480.6,313.1 480.2,310.8 477.1,310.3 476.5,310.8 476.9,313.8ZM537.2,239.2 538.1,237.8 536.9,234.5 536.3,234.4 533.5,237.5 533.5,237.7ZM498.1,255.4 499.5,253.9 498.1,251 496.2,251.6 495.6,253.9 496.7,255.2ZM463.2,286.2 465.2,287.2 466.9,285.5 466.8,284.3 464.9,283.1 462.8,284.3ZM512.2,305.3 509.7,307 511,309.9 514.2,309.1 514.7,307.9ZM425.4,267.3 425.5,262.8 421,263.3 421,266.8 422.5,268.5ZM441.2,316.4 437.1,317.4 437,317.5 439.4,321.8 440.9,322.2 442.4,317.5ZM459.1,261 457.7,260.3 456,260.6 455.2,261.9 456.3,264.3 459.5,263.8ZM494.4,279.6 491.2,280 492.7,283.7 494.6,283.8 495.1,280.1ZM468,300.4 468.4,299.9 466.9,296.2 464.1,297.2 463.4,300.2 463.6,300.5ZM487.7,272.1 484.6,270.3 482.7,271.5 484.6,274.2 487.1,273.5ZM531.5,230.6 529.9,230.7 529.3,231.6 530,235 531.7,235.1 533.5,232.4ZM445.6,310.7 444.4,312.7 445.7,315.8 448.3,315.2 448.7,313.6 447.1,310.8ZM476.3,270.4 474,269.6 471.9,272.3 474,275.1 474.8,275.2 476.6,271ZM536.3,234.4 536.9,234.5 538.7,233.5 539.1,231.2 538,229.3 536.5,229.3 534.4,232.4ZM463.7,309.8 461.8,310.2 460.3,312.6 461,314.2 464.6,313.2 464.1,310.1ZM449.9,268.4 446.2,268.9 447,272.9 449,273.3 450.4,272.4ZM524.2,359.4 521.6,361.5 521.7,363.4 523.7,365.3 528.1,364.4 528.6,361.1 527.3,359.6ZM500.3,284.4 498.7,283.4 496,284.9 496,285.5 497.6,288 500.5,288.5 500.6,288.4ZM508.6,324.3 510.4,325.6 513.1,322.8 512.4,320.8 510,320.9 508.5,322.7ZM504.5,292.3 503.9,296.4 506.1,297.5 507.8,296.5 506.9,291.9 505.3,291.6ZM432.6,273.6 433.2,272.5 433.1,271.5 428.8,268.5 428.4,268.7 427.5,271.2 429,273.8 431.3,274.2ZM513.4,246.5 515.3,244.5 514.6,241.7 512.9,241.4 511.2,244.6ZM503.2,283.7 502.9,280 502.1,279.5 498.8,281.5 498.7,283.4 500.3,284.4 503.2,283.7ZM510.3,282.2 507.6,282.7 507.2,283.4 507.7,286.4 509.5,287.4 512.1,284.3ZM536.6,259.6 539.6,262.1 541.7,260.6 541.9,259.5 539.7,257.8 536.5,258.9ZM537.1,250.8 535.6,248.1 533.4,249.8 534.1,252.7 535.8,252.5ZM502.7,229.9 501.8,227.9 498.3,228.3 498.9,231.8 501.1,232.2ZM423.4,302.1 422.4,303.7 422.7,304.9 425.5,306.3 427,306 428.5,303.1 426.9,300.9ZM508.2,244 505.8,246.3 506.5,248.4 508.8,249.3 509,249.2 509.2,244.7ZM538.7,244.5 536.3,242.8 536.2,242.9 534.4,245.6 535.6,248 539.3,246.9ZM467.2,309.6 468.5,308.1 465.7,305.3 463.7,307.2 463.7,309.8 464.1,310.1ZM460.4,231.4 458,232.2 457.1,234 459.8,236 461.6,235.3 461.9,234.9ZM496,284.9 494.6,283.8 492.7,283.7 491.6,284.5 491.7,287.1 493.8,287.7 496,285.5ZM446.3,339.7 445.7,340.5 446.7,341 447.2,339.9ZM353.5,336.6 352.9,337.3 354,343.8 358.6,343.2 359.2,337.9ZM442.5,323.4 446.4,324.2 447.5,323.1 446.8,320 446.1,319.8ZM525.5,287.9 522.4,289.7 522.6,291.9 524.5,292.4 526.4,290.3ZM513.7,276.1 513.3,275.2 510.1,275.1 509.2,276.4 509.4,277.8 511.6,279.4 511.6,279.3ZM514,272.8 511.9,271.5 509.4,272 510.1,275.1 513.3,275.2ZM469.9,248.5 471.9,247.3 472.4,245 470.2,244 467.7,246.5 467.6,247.7 467.7,247.9ZM449.8,323.4 450.2,324.7 452,325.3 454.6,323 454.5,322.6 451.1,321.2ZM445.1,197.4 441.3,196.5 439.4,198.1 439.3,198.6 440.8,201.2 444.5,200.7 445.5,198.5ZM515.4,297.8 518.2,296.7 518.1,294.9 515.8,294 514.4,294.8 514.7,297.3ZM514.4,280.5 511.6,279.3 511.6,279.4 510.3,282.2 512.1,284.3 513.7,284.4 514,284.1ZM466.1,292.9 469.1,289.9 465.5,288.6 464.1,290.4 464.6,292.2ZM518.1,294.9 518.2,296.7 519.1,297.6 520,297.6 522,295.3 521.3,293.2 519.7,293.1ZM385.2,263.1 385.6,258.5 385,258.1 381.2,258.7 380.6,262.5 384.8,263.5ZM490,242.1 493.7,244.6 495.1,243.6 495.4,242.5 493.6,239.9 490,241.7ZM526.2,283 524.8,284.1 524.6,285.7 525.7,287.5 528.1,287 528.9,285.7 528.7,284.1ZM534.2,270.7 535.7,270.8 537.4,267.5 536.7,266.8 533.6,266.8 532.9,268.4ZM456.8,320.2 457.8,316.4 456.6,315.5 453,316.5 453,317.2 456,320.5ZM449.5,213.5 449.7,213.2 448.7,212.5 447.6,209.4 446.2,211.4 446.5,212.6 448.6,213.7ZM457.5,200.1 460,200 461.6,198.1 460.4,196.1 457.9,195.3 456,197.2 456,197.5 456.1,198.2ZM535.7,275.9 535.6,278 536.3,278.6 538.5,276ZM478.9,286.8 480.9,285.2 479.6,281.8 477,284.2 477.1,285.4ZM462,289.8 461.3,287.9 459.9,287.5 457.3,290.4 457.4,290.5 460.5,291.4ZM477.1,290.5 480.8,291.1 481.5,289.6 478.9,287 476.9,289.6ZM521.3,293.2 522.6,291.9 522.4,289.7 521.4,288.9 517.7,289.2 517.4,289.9 519.7,293.1ZM520.3,279 520.6,275 519.9,274.6 517.6,275.1 516.4,277.1 516.6,277.9ZM464.6,292.2 464.1,290.4 462,289.8 460.5,291.4 461.4,294.8 461.5,294.8ZM349.2,337.8 347.9,336.8 346.3,337.2 348,340 348.5,341.5ZM484.8,246.3 486.1,248.4 488.7,248.1 489.5,247.2 488.2,244.3 487.4,244.2ZM486.5,314.2 487.7,312.7 487.1,310.9 484.7,310.1 484.6,310.2 483.5,313.2 484.4,314.2ZM547,261.3 546.2,261.3 544.2,262.8 544.1,264.6 544.1,264.6 546.4,265.3 547.8,262.5ZM436.6,264.8 436.3,263.6 433,262.1 430.6,264.2 430.7,265.6 434.9,267.9ZM462.4,279.3 465.7,277.2 466,275.7 463.9,274.2 462.9,274.6 461.4,277.9ZM502.7,250 502.4,249.6 502,249.5 498.3,250.6 498.1,251 499.5,253.9 500.7,253.8ZM455.9,229 458,232.2 460.4,231.4 460.7,230.8 459,228.3 456.6,228.4ZM543.6,225.4 542.6,227.3 543.6,229.7 544.6,229.7 545,228 545.9,226.2ZM445.4,297.6 442.8,294.3 441.2,294 441.1,294.1 440.6,299 444.6,299 445.3,298.3ZM484.6,274.2 483.8,275.8 484.7,277.1 487.1,277.6 488.2,276 487.1,273.5ZM421.6,314.4 424.5,313.8 425.1,311 421.2,309.6 419.8,312.5ZM475,245.4 476.1,247.9 477.2,248.4 478.3,247.9 479.2,245.4 477.5,243.5ZM428.9,318.8 432.6,322.4 433.4,322.1 434.7,318.6 432.2,316.8 429,317.6ZM451.6,310.5 452.9,307.4 450.7,306.2 449,307.4 448.9,309.5ZM545.7,250.8 545.6,253.3 546.7,253.6 547,253.4 546.7,253 546.3,250.4ZM494.7,257.4 496.7,255.2 495.6,253.9 493,253.9 492.4,255.5ZM521.3,260.1 520.5,256.9 518,257.3 517.2,259.7 518.5,261.3ZM507.2,344.5 505.7,340.1 503.8,340.4 504,341.7 505.7,345.3ZM483.8,316.8 486.3,317.9 487.6,316.4 486.5,314.2 484.4,314.2ZM509.5,307 507.9,302.8 505.5,303.6 505,305.7 508.1,307.3ZM452.9,296.6 452.8,293.9 450.4,293.9 449.1,295.6 450.6,298.3ZM493.8,299 496.4,299.7 497.5,298.6 497.3,296.1 495.4,295 493.3,298ZM454.2,303.3 454.5,300.4 450.5,299.4 451.5,303.3 454,303.5ZM525.1,250.1 523.4,250.4 522.2,253 523.9,254.9 525.5,254.4 525.8,251.3ZM533.4,249.8 535.6,248.1 535.6,248 534.4,245.6 531.3,245.6 531.2,245.7 531.9,249.4ZM472,297.7 473.5,297.4 474.3,294.8 472.9,293 470.9,293.1 469.8,295ZM542.6,240.2 544.6,241.6 543.8,239.3ZM488.7,248.1 486.1,248.4 485,250.6 485.3,251.4 488.8,251.7ZM528.8,254.2 526.7,255.2 527,257.6 530.9,257.3 531,256ZM546.2,261.3 547,261.3 548.8,259.6 547.7,257.4 544.6,258ZM528.6,236.1 530,235 529.3,231.6 526.6,232.7 526.9,235.6ZM476.7,237.5 479.9,234.6 479.8,234.2 476.8,233.2 474.6,234.8 476.6,237.5ZM483.5,195.6 483.1,196.6 483.5,198.2 484.8,199 485.5,196 485.3,195.6ZM517.9,283.5 517.9,282.2 515.6,280 514.4,280.5 514,284.1ZM508.5,322.7 510,320.9 508.6,318.5 506,319.9 505.9,320.9ZM453.2,265.3 450.4,266.6 450.2,267.9 453.9,269.1 454.5,265.9ZM353.3,348.5 351.5,349.3 354.4,354.1 354.5,349.7ZM511.2,299.7 509.8,301.5 512.4,304.7 513.9,303.7 513.9,301.1ZM480.8,308.1 477.8,306.7 477.6,306.8 477.1,310.3 480.2,310.8 481.1,309.3ZM503.3,245.2 499.9,245 499.2,245.9 502,249.5 502.4,249.6 503.8,245.9ZM452.5,278.5 454.7,278.9 455.8,277 453.9,274.7 452,276.8ZM540.3,247.7 543.2,245.2 541.4,243 538.7,244.5 539.3,246.9ZM449.9,263.3 447.3,261.2 446.1,264.1 446.9,265.2 449.4,265.1ZM477,284.2 474.3,282.4 473.1,284.8 474.3,287 477.1,285.4ZM435.1,329.3 434.9,328.1 432.3,326.5 429.9,328.5 430.1,330.1 433.3,331.5ZM439.8,285.9 442,283.4 440.9,281.1 439.2,280.6 437.3,281.6 437.3,281.6 438.5,286ZM528.7,284.1 528.9,285.7 530.1,286 532.1,283.5 531.5,281.9 531,281.9ZM485.1,263.5 484.1,262.1 481.2,262.3 480.8,265 482.4,266.3 485.1,263.8ZM534.1,252.7 533.4,249.8 531.9,249.4 530.2,250.6 530,251.5 533.1,253.7ZM428.1,281.3 431.9,281.2 432.4,279.4 430.5,277.5 428.3,278.1 428,281.1ZM493.5,222.4 494.2,220.6 492.8,219.2 490.4,219.9 490.4,221.8 492,222.9ZM403.3,308.3 407.8,308.2 408.4,307.6 407,303.2 403.5,303.4 403.2,308.2ZM480.7,277.3 482,275.8 480.2,272.6 479.6,272.7 478,276ZM505.7,313.4 505.2,316.1 509.2,316.6 509.8,316.2 507.5,312.5ZM533.4,279.7 535.6,278 535.7,275.9 535.3,275.3 534.4,275.2 531.5,276.9ZM504.4,306.2 502.2,305.9 500.5,307.6 503.1,310.4 504.3,309.5ZM467.6,247.7 467.7,246.5 465.4,243.6 463.4,245.7 464.2,247.5ZM474.2,281.5 478.1,280.2 476.3,276.6 476.1,276.6 473.1,280.4ZM489.4,308.4 487.1,310.9 487.7,312.7 490.3,313.2 491.1,311.2ZM543.2,213.9 546.1,214.9 548.8,213.1 548.4,211.7 545.5,211ZM380.6,321.6 381.5,320.8 380.7,316.7 377,317.2 375.7,320.6 375.8,320.8ZM469.9,248.5 470.6,250.7 473.3,251.3 473.6,249.1 471.9,247.3ZM444.9,283.3 448.2,282.7 447.6,279.7 444.8,280.2ZM544.1,264.6 544.1,264.6 540.8,265 539.6,267.7 543.7,268.4 543.7,268.4ZM494.7,272.6 491.5,274.9 491.3,275.9 494.7,277 495.6,276.2 494.8,272.6ZM469.4,269.1 466.9,267.4 465.7,271 469,272.8 469.2,272.6ZM447,326 449,326.3 450.2,324.7 449.8,323.4 447.5,323.1 446.4,324.2ZM529.4,221.3 529.2,221.5 529.2,225.6 529.4,225.8 530.3,225.8 532.5,223.9 532.5,222 531.2,221ZM488.9,253.9 486.4,255.4 486.7,257.5 490.3,257.5 490.8,256.2ZM509.7,228.7 507.9,229.9 508.6,233 508.9,233.1 512.2,231ZM455.6,324.3 454.6,323 452,325.3 452.3,326.2 453,326 455.3,325.3ZM412.6,267.4 412.5,271.1 416.7,272.4 417.5,271.7 416.9,267.6 416.4,267.2ZM406.8,290 407.1,294.7 407.4,294.9 411.8,293.9 411.4,290.1 406.8,290ZM456.6,228.4 459,228.3 460.8,225.9 457.3,224.4 457,224.7ZM447.1,191.6 444.2,191.9 445.5,196.6 447.4,195.4 447.5,195 448.1,192.6ZM523.8,267.4 526.3,268.5 527.8,264.6 527.1,264.2 523.7,265.2ZM493.6,239.9 493.7,238.8 490.9,236.7 490.5,237 489.8,241.3 490,241.7ZM541.7,271.5 540,270.3 538,272.2 539.5,274.1 540.2,273.9 541.6,272.2ZM457.2,303.7 454.2,303.3 454,303.5 454.1,306.9 457,306.2ZM470.3,309 470.8,311.8 473.4,311.7 474.3,310.3 473.5,308.3ZM519.4,266.7 518.8,270.7 519.2,271 522.3,270.6 522.4,268.4ZM498.1,251 498.3,250.6 497.4,247.9 495,248.1 494.7,250.5 496.2,251.6ZM474.2,287.5 472.8,288.7 473.9,291.6 476.5,291.4 477.1,290.5 476.9,289.6ZM520,253.5 520.7,256.6 523.2,256.3 523.9,254.9 522.2,253ZM393.8,272 393.3,275.6 394.2,276.6 398.4,276.2 398.4,276.2 397.8,272Z" fill="#225ea8" stroke="#000" stroke-width=".8"/>
<path d="M352.5,314.7 347.4,314.3 347.3,320.6 347.7,321 352.8,320.3 353.3,319.8ZM358.4,325.7 359.2,326.6 364.6,326.8 364.8,326.5 364.6,320.8 359.1,320.7ZM370.4,326.7 364.8,326.5 364.6,326.8 364.5,331.7 365.5,332.8 370.5,332.5 371.4,331.5ZM365.5,332.8 364.6,337.6 364.6,337.7 370.6,338.1 370.7,338.1 370.5,332.5ZM411.3,181.7 412.3,177.1 411.7,176.5 407.6,177.1 407.3,177.4 407.8,181.5ZM415.9,177.2 415.8,177.1 412.3,177.1 411.3,181.7 411.9,182.2 416,181.9 416.4,181.3ZM389,186.3 389.4,186 390,182 389.5,181.6 384.9,181.1 384.7,181.4 384.9,186ZM399.2,181.1 398.6,181.8 398.6,185.9 398.7,186.1 402.2,186.3 403.4,181.8 402.5,180.9ZM389,186.3 389.2,190.3 389.7,190.7 393.8,190.1 393.6,186.8 389.4,186ZM419.9,195.1 416.4,195 416.3,195.1 416,199.7 416.2,199.8 419.7,199.2 420.5,196.2ZM411.8,217.8 412.2,217.2 411.6,213.8 407.9,213.4 407.6,217.5ZM407.4,226.2 407.5,222.9 402.9,222.2 402.2,226.1 403,226.9 406.7,227ZM419.7,222.1 416.4,222.1 415.9,226 417.6,227.4 420.7,225.9 420.8,225.5ZM412.1,230.1 416.1,231 417.4,230 417.6,227.4 415.9,226 412.6,226.6 411.9,227.5ZM403.1,235.6 407.8,235.3 407.8,231.5 407,230.9 403.7,231.6ZM412.3,244.6 411.7,240.2 408.2,239.8 407.5,240.3 407.7,244.6 411.7,245.1ZM416.1,244.8 416.6,240.1 416.2,239.6 411.9,240 411.7,240.2 412.3,244.6ZM411.7,245.1 407.7,244.6 407.2,245.1 407.4,248.9 411.5,248.9ZM407.4,248.9 407.2,249.2 407.5,253.6 411.6,253.4 411.8,253.1 411.9,249.5 411.5,248.9ZM404.2,263.7 407.2,262.6 407.3,258.6 402.9,258.5 402.5,261.9ZM389.2,271.9 389,275.7 389,275.8 393.3,275.6 393.8,272 393.3,271.5 389.8,271.3ZM394.4,281.3 398.7,280.6 398.7,280.6 398.4,276.2 394.2,276.6 393.4,280.3ZM390,333.7 394,334.6 393.9,330 389.6,329.8ZM452.9,220.6 454,217.9 452.2,216 450.6,217.5 451.1,220.6ZM523.8,203.9 520.2,200.2 518.8,200.8 518.7,200.9 518.7,205 521.5,206.5 523.4,205.2ZM549.1,177.9 552.4,177.9 553.8,171.9 550.4,169.2 547,170.6 545.6,173.2ZM532.3,184.9 532.6,188.8 535.3,189 537,187.3 536.8,184.9 534.4,184ZM529.7,182.3 533.6,179.1 532.5,176.7 528.8,176 526.8,180.5 529,181 528.5,181.7ZM430.3,214.2 430.2,214.1 426.3,212.4 423.9,216.2 426.1,218 427.3,218ZM556.6,199.1 556.2,198.5 554.8,197.9 551.3,199 552,202.5 556.7,200.8ZM456.2,217.5 457.5,219.7 460.3,218.5 460.7,216.8 457.7,214.5 457.1,214.7ZM464.8,217.9 464.5,217 462.4,216.1 460.7,216.8 460.3,218.5 461.7,220.1 464.4,219.7ZM438.2,232.8 434.4,230.5 433.3,231.4 433,235 435.2,235.8 438.3,233.2ZM453.4,230.7 453.4,231.3 455.7,234.4 457.1,234 458,232.2 455.9,229 454.9,229.1ZM523.1,220.8 524.7,220.6 525.6,218.5 525.3,217.4 523.1,216.2 521.1,217.1 521,218ZM543.9,191.1 547,191.4 546.8,187.6 544.6,186.5 542.4,187.6ZM497,208.5 496.8,208.5 492.1,209.4 492.3,212.5 495.1,213.2 497.3,209.8ZM457.7,214.5 459.2,212.3 459,210.2 457.4,209.4 457.5,210 455.1,213.8 457.1,214.7ZM507.8,237.5 508.5,237.7 511.7,235.8 508.9,233.1 508.6,233 507.4,233.8 507.1,236.5ZM420.7,225.9 417.6,227.4 417.4,230 421.4,231.7 422.5,229ZM530.9,194.3 532.5,197.7 534.1,197.5 536.7,193.4 536.3,193 531.4,193ZM505.4,207 505.2,206.2 502.4,204.8 499.6,206.6 499.6,206.6 503,209.6ZM558.8,171.8 560.1,173.2 565.4,173.2 567.2,167 564.6,165.6 559.7,166.8ZM550.1,185.9 551.3,187.8 555.2,187.3 555.7,186.2 554.9,184.2 551.5,183.7 550.1,184.6ZM526.5,209.5 526.1,213 527.7,214.5 527.7,214.6 530.2,212.7 530.1,209.2 527.6,208.6 527.3,208.7ZM435.1,241.1 436.5,238.6 435.2,235.8 433,235 431.8,235.7 431.4,238.2 433.8,241.2ZM542.6,178.1 544,180.5 548,179.5 549.1,177.9 545.6,173.2 545.6,173.2ZM525.6,197.9 524.9,198.8 525.8,202.7 528.2,203.1 529.2,199.2 526.9,197.6ZM460.5,251.5 457.4,252.2 457.1,252.9 460.1,255.9 462.5,254.3 462.4,253.7ZM544.3,207.8 546,207.1 547.2,202.9 546.5,201.8 545.5,201.5 542.6,203.7ZM447.4,219.5 445.7,220.3 445.6,222.7 447.3,223.8 449.9,222 450.1,221.3ZM435.1,241.1 436.8,242.9 439.4,243.2 440.6,240.2 438.5,238.3 436.5,238.6ZM523.7,239.4 524.6,238.5 524.9,236.5 522.7,234.8 522.2,234.8 520.1,238.6 520.2,239.1ZM565.5,179 563.6,180.2 563.7,183 566.1,184.3 567.6,183.8 568.1,182.5 567.5,181 567.6,180.1ZM538.1,179.6 538.9,182.9 540.4,183.3 543.6,181.9 544,180.5 542.6,178.1 539.3,178ZM573.9,157.3 574.7,152.9 569.9,150.3 568.8,150.6 568.4,151.1 568.5,157.8ZM452.8,293.9 453.3,293.4 452.9,290.7 452.1,290.1 449.4,291.5 450.4,293.9ZM435.2,187.3 433,186.5 431.5,188.7 431.6,190.2 434.1,192.2 437.1,191.2ZM451.9,241 452.7,238.8 451.7,236.7 449,237.1 448.7,240.5 451.2,241.2ZM516.4,215.3 516.4,211.8 512.5,211.1 511.6,211.8 511.5,212.8 512.8,215.3ZM429.7,227.6 431.3,225.6 431.2,225.2 428.4,223.2 425.5,223.8 425.2,224.3 426.1,228.2 426.2,228.3ZM440.7,171.6 439.7,167 434.2,168.7 433.6,170.6 436.1,173.9ZM484.4,223.6 482.4,225.1 482.2,225.6 483.3,227.9 486.5,227.4 486.9,225.3ZM537.2,172 535.7,172.3 532.5,176.7 533.6,179.1 533.7,179.2 538.1,179.6 539.3,178 537.8,172.4ZM463.6,267.1 462.9,268.1 463.3,270.8 464.2,271.5 465.7,271 466.9,267.4 466.8,267.2ZM554.8,197.9 556.2,198.5 559.6,193.8 559,193.1 553.8,193.4ZM453.6,224.7 453.8,221.4 452.9,220.6 451.1,220.6 450.1,221.3 449.9,222 452,225.6 452.6,225.6ZM430.6,230.7 433.3,231.4 434.4,230.5 435.1,227.2 431.3,225.6 429.7,227.6ZM448,256.3 448.2,255.2 446.5,252.8 443.5,254.5 443.5,254.7 445.2,257.2ZM506.1,240 507.3,242.7 507.7,242.9 510.1,240.1 508.5,237.7 507.8,237.5ZM542.3,187.6 539.8,188.7 539.5,192.1 542.5,192.6 543.9,191.1 542.4,187.6ZM428.4,223.2 431.2,225.2 433.6,220.4 432.8,219.6 429.1,219.8ZM536.8,201.8 536.5,199.1 534.1,197.5 532.5,197.7 532,198.5 532.9,202.5 536.5,202.1ZM545.5,201.5 544.3,199.5 541.2,198.7 539.9,201.9 541.1,203.5 542.6,203.7ZM541.2,198.7 540.3,197.2 539.7,197 536.5,199.1 536.8,201.8 539.9,201.9ZM513.9,256.1 516.3,254.9 516.8,254 515.5,251.2 513,251.6 512,253.1ZM560.2,178.6 559.4,177.3 554.4,178.9 556,182.3 558.7,182.5ZM436.7,223 440.8,222.2 441,219.7 438.7,217.5 438.3,217.4 434.8,220.6ZM443.6,181.3 446.2,179.8 446.3,179.3 442.7,175.8 440.1,178.1 440.6,180.2ZM491.3,227.2 487.3,228.2 487.4,230.1 490.1,231.2 491.2,230.6ZM531.4,193 536.3,193 535.3,189 532.6,188.8 530.6,190.1ZM546.8,187.6 550.1,185.9 550.1,184.6 548.8,183.5 545.1,183.9 544.6,186.5ZM548,179.5 548.8,183.5 550.1,184.6 551.5,183.7 553,178.5 552.4,177.9 549.1,177.9ZM529.9,189.8 528.6,186.3 525.1,185.8 524.7,188.2 527.4,190.5ZM457.9,195.3 460.4,196.1 462.8,192.5 459.2,191 457.1,192.3ZM441.7,223.6 438.9,227.6 439.9,229 443.6,229.7 444.7,228.1 442.5,223.9ZM562.1,158.3 563.9,159.1 568.2,158.2 568.5,157.8 568.4,151.1 561.7,152.6ZM492.2,325.3 489.7,323.9 488.9,325.1 492.1,325.7ZM559.6,159.3 562.1,158.3 561.7,152.6 561.7,152.5 559.7,152.4 559,156 557.6,158ZM540.4,183.3 538.9,182.9 536.8,184.9 537,187.3 539.8,188.7 542.3,187.6ZM510.9,261.4 514,261.4 515.3,259.5 513.5,257.1 511.2,257.9ZM549.4,197.3 550,198.5 551.3,199 554.8,197.9 553.8,193.4 553.4,193.1 550,194.9ZM438.3,217.4 437.1,215.9 432.6,215.5 432.8,219.6 433.6,220.4 434.8,220.6ZM441.9,262.2 438.2,261.6 436.3,263.6 436.6,264.8 440.1,266.2 441.8,265.6 442.3,263.9ZM457.1,192.3 459.2,191 459.7,187.4 457.6,187.3 457.5,187.5 456.8,192.2ZM522.1,212.4 523.6,213.6 526.1,213 526.5,209.5 522.7,209.9ZM548.6,207.9 549.4,207 548,204 548.9,203.7 547.2,202.9 546,207.1ZM420.8,252.9 421.1,253.2 424.8,252.8 425.3,250.2 422,248 420.4,249.6ZM535.3,189 536.3,193 536.7,193.4 537.8,193.5 539.5,192.1 539.8,188.7 537,187.3ZM544.6,186.5 545.1,183.9 543.6,181.9 540.4,183.3 542.3,187.6 542.4,187.6ZM427,233.6 427.1,233.7 430.6,230.7 429.7,227.6 426.2,228.3ZM439.1,184 442.8,184.9 443.5,184.3 443.6,181.3 440.6,180.2 438.7,183.1ZM547.2,191.6 547.3,192 550,194.9 553.4,193.1 553.3,192.4 551.1,190ZM499.6,206.6 497,208.5 497.3,209.8 500.9,212.5 502.9,211.3 503,209.6ZM462.8,192.5 462.8,192.5 460.4,196.1 461.6,198.1 464.9,198.7 466,195.2ZM425.8,210.8 426.3,209.2 422.1,206.6 420.3,208.7 421.2,211.5ZM529.2,199.2 532,198.5 532.5,197.7 530.9,194.3 528.3,194.8 526.9,197.6ZM544,180.5 543.6,181.9 545.1,183.9 548.8,183.5 548,179.5ZM441,219.7 443.3,218.8 444.4,216.2 444,214.9 441.7,213.8 438.7,217.5ZM435.9,226.8 435.1,227.2 434.4,230.5 438.2,232.8 439.9,229 438.9,227.6ZM527.3,208.7 527.6,208.6 528.3,203.3 528.2,203.1 525.8,202.7 523.8,203.9 523.4,205.2ZM551.3,187.8 551.1,190 553.3,192.4 555.9,189.4 555.2,187.3ZM466.4,213.1 464.5,211.8 462.4,213.3 462.4,216.1 464.5,217 466.6,213.8ZM564.6,165.6 567.2,167 570.3,166.2 570.8,164.4 568.2,158.2 563.9,159.1ZM466.1,189.4 466.8,188.2 464.5,184.8 463.8,184.8 461,186.9 464.1,190.1ZM510.6,206 508.1,208.1 508.5,209.9 511.6,211.8 512.5,211.1 513.1,208.5ZM468,192.3 471.5,191.6 469.2,187.4 466.8,188.2 466.1,189.4ZM551.3,199 550,198.5 546.5,201.8 547.2,202.9 548.9,203.7 552,202.5ZM540,217.4 539.9,214.5 537.7,213.9 536.1,216.6 538.2,218.7ZM490.1,231.2 489.6,233.2 491.4,235.3 493,234.5 492.9,231.4 491.2,230.6ZM538.2,218.7 536.1,216.6 534,217.3 535.3,220.9 538.1,219.9ZM527.7,214.6 529.7,216.8 532.3,217 532.7,216.9 532.6,214.1 530.2,212.7ZM555.9,189.4 553.3,192.4 553.4,193.1 553.8,193.4 559,193.1 558.6,190.3ZM435.2,235.8 436.5,238.6 438.5,238.3 440.6,234.8 438.3,233.2ZM436.1,207.2 432.9,205.6 432.8,205.7 432.2,209.3 434.7,210.9 436.5,209ZM544.2,207.9 544.3,207.8 542.6,203.7 541.1,203.5 539.4,206.2 541.3,209ZM519.3,215.5 520.5,212.7 517.8,210.4 516.4,211.8 516.4,215.3 516.9,215.7ZM425.2,224.3 420.8,225.5 420.7,225.9 422.5,229 426.1,228.2ZM495,235 495.5,237.7 497.5,238.4 499.3,236.6 499.3,236.2 496.9,233.5ZM474.3,203.7 472.6,203.1 469.5,205 469.7,206 473.3,207.8 474.3,207.1ZM449.9,222 447.3,223.8 447.4,225 450.3,226.7 452,225.6ZM522.2,234.8 521.2,234 517.4,234.5 517.5,236.6 520.1,238.6ZM547,191.4 547.2,191.6 551.1,190 551.3,187.8 550.1,185.9 546.8,187.6ZM450.2,251.7 446.9,251.2 446.5,252.8 448.2,255.2 450.3,254ZM487.4,230.1 486.5,231 486.6,234 486.6,234 489.6,233.2 490.1,231.2ZM420.5,193.9 423.6,192.9 423.9,191 421.9,189.2 419.8,191.1ZM533.6,179.1 529.7,182.3 530.5,184.2 532.3,184.9 534.4,184 533.7,179.2ZM437.7,191.4 439.8,188.3 438.5,185.8 435.2,187.3 437.1,191.2ZM561.7,152.5 561.3,146.8 560.7,146.6 559.7,152.4ZM547.3,192 545.4,195.8 545.6,196.2 549.4,197.3 550,194.9ZM481.2,293.1 477.3,294.3 477.7,296.2 480.4,297.3 480.6,297.2 481.3,293.2Z" fill="#ffffcc" stroke="#000" stroke-width=".8"/>
<path d="M268.4,168.4 265.9,158.7 260.9,158.3 257.3,162.7 260.1,169.8 266.4,170.6 267.7,169.9ZM218.5,137.4 219.1,129.3 213,128.3 210.5,132.7 214.2,137.4 217.7,138ZM277.7,254.8 280.1,269 285,271.8 292.4,270.5 293.5,259.8 282,250.2ZM198.3,155.1 198.2,155.3 200.3,160.7 208.9,159.9 210.5,158.2 210.2,155.7 203.8,150.9ZM221.2,194.2 215.8,205.9 226.1,208.1 230.6,198.4 223.7,193.2ZM289.9,154.5 289.4,146.1 287.9,144.4 283.3,146 280.4,152 282.5,155.3ZM247.4,233 247.2,232.1 237.7,223.2 228.8,226.1 228.4,233.4 234.2,240.4 240.3,240.4ZM267.9,139.1 274.8,138.5 274.7,134.2 272.6,133.8 266,132.3ZM293.5,214.8 292.2,213.9 286.9,215.4 281.1,225.4 283.5,230.1 295.2,229.4ZM246.8,196.1 252.2,188.6 244.1,180.4 237.1,187.1 239.3,195.9ZM247.4,233 240.3,240.4 247.2,253 259.3,247.6 261.1,240.2ZM264.8,237.5 265.5,227.1 261,222.4 253.4,222.3 247.2,232.1 247.4,233 261.1,240.2ZM215.6,148.2 217.5,147.7 217.7,138 214.2,137.4 208.2,141.6 208,143.8ZM259,140.2 267,140.3 267.9,139.1 266,132.3 261.4,131.3 258.3,134.2ZM318,296.7 310.8,292.2 302.4,301.6 308.7,304.9 317.9,297.3ZM252.3,151.7 256.7,152.1 259.5,148.2 258.1,141.3 250,141.9ZM250.8,269.1 246.4,254.6 236.2,256.7 232.4,267.5 233,269.6 248.8,271ZM299.2,273 296.8,273.4 296.7,287.6 296.8,287.7 309.4,287.1 311,284.8 311.2,280.9 307.9,276.2ZM236,157.6 237.2,156.8 238.3,151.5 231.1,144.8 229.7,145 223.5,150.1 224.3,155.7 225.1,156.5ZM212.3,247.9 209.1,254.1 211.2,259.6 218.6,262.9 222,261 223.9,251.2 215.9,246.5ZM266.9,285.9 253.7,290.5 253,301.8 259.1,306.1 272.2,300.7 273,299 270.1,288ZM259.3,247.6 265.6,256.5 277.7,254.8 282,250.2 282.5,246.2 279,240.4 264.8,237.5 261.1,240.2ZM181,203 181,205 182,208.1 184.7,210.8 188.1,210.7 187.5,201.3ZM250.1,132.6 243.1,131.6 237.4,136.6 244.6,142.4 249.4,141.5ZM231.6,176.3 224.9,169 219.2,170.6 217.8,172.1 217.5,179.2 226.2,184.5 229.3,183.2ZM246.8,196.1 239.3,195.9 237.6,197.5 239,211.1 241.9,213.8 247.3,213 253.6,206ZM328.7,290.5 326.5,283.3 323.3,283.1 319.4,286.8 320.5,294.8 325.3,294.7ZM215.8,205.9 214.4,206.5 212.9,212 221.8,222.3 225,222.6 227.8,210.5 226.1,208.1ZM301.6,301.6 302.4,301.6 310.8,292.2 309.4,287.1 296.8,287.7ZM190,195 183.1,190.2 181,196 181,203 187.5,201.3 189.4,200.1ZM285,271.8 280.8,284.2 289,289.8 296.7,287.6 296.8,273.4 292.4,270.5ZM224.3,155.7 216.6,160.3 219.2,170.6 224.9,169 226.7,166.5 225.1,156.5ZM211.2,124.1 207,124.5 202.5,123 202.4,123.7 205,126.8 211.1,124.7ZM253.7,290.5 246.8,285.6 237.5,287.9 236.1,289.8 253,301.8ZM217.5,179.2 210.9,183.9 212.3,190.2 221.2,194.2 223.7,193.2 226.2,184.5ZM320.5,294.8 318,296.7 317.9,297.3 321.5,305.7 325.9,307.7 326.7,307.5 329.1,299.7 325.3,294.7ZM239.4,171.1 239.5,172.7 244.2,177.2 251.8,173.7 250.1,163.7 247.7,162.2 245.6,162.6ZM193.5,202.8 201.6,203.2 205.8,200.2 205.7,199.2 197,189.2 190,195 189.4,200.1ZM193.6,183.1 197,189 207.6,182.9 203.7,175.8 195.8,176.4ZM204.4,213.4 212.7,212.2 212.9,212 214.4,206.5 205.8,200.2 201.6,203.2 200.5,210.4ZM205.7,199.2 212.3,190.2 210.9,183.9 207.6,182.9 197,189 197,189.2ZM223.9,251.2 228.9,250.2 234.2,240.4 228.4,233.4 217.7,238.7 215.9,246.5ZM262.2,269 250.8,269.1 248.8,271 246.8,285.6 253.7,290.5 266.9,285.9 265.4,272.3ZM312.7,159.1 312,159.1 307.1,161.7 307.4,167.1 312.8,170.9 318.6,168.1 317.9,163ZM324.1,227.2 315.8,224.8 310.3,229.6 319.8,236.9 324.6,231.3ZM292.4,270.5 296.8,273.4 299.2,273 307.1,264.1 307.2,260.2 300.1,255.1 293.5,259.8ZM193.7,173.2 198.1,165 198.1,165 194.3,163.7 191,170 190,172.2ZM221.2,282.1 216.1,279.5 212.3,281.1 213.7,285.5 221.6,286.8ZM262.2,269 265.4,272.3 280.1,269 277.7,254.8 265.6,256.5ZM321.5,305.7 312.6,309.8 319.7,317.8 320.8,317.4 325.9,307.7ZM233.5,124.4 224.7,121.9 221.6,125.8 221.5,127.5 228.3,131 231.6,130.5ZM247.2,253 246.4,254.6 250.8,269.1 262.2,269 265.6,256.5 259.3,247.6ZM308.7,304.9 302.4,301.6 301.6,301.6 293.9,307.5 299,307.5 305,315 306.6,316.6 311.3,309.4ZM216.6,160.3 210.5,158.2 208.9,159.9 208.9,169.2 217.8,172.1 219.2,170.6ZM237.2,156.8 245.6,162.6 247.7,162.2 250,153.1 241.6,150 238.3,151.5ZM243.1,131.6 250.1,132.6 250.5,132.3 251.3,129 242.6,127 242.3,126.9ZM211.2,259.6 209.1,254.1 198.7,256.4 198.7,256.4 202.4,265.4 207.4,265.7ZM266.9,285.9 270.1,288 280.8,284.2 285,271.8 280.1,269 265.4,272.3ZM205.8,170.8 208.9,169.2 208.9,159.9 200.3,160.7 198.1,165 198.1,165ZM229.7,145 224.3,137.8 218.5,137.4 217.7,138 217.5,147.7 223.5,150.1ZM223.5,150.1 217.5,147.7 215.6,148.2 210.2,155.7 210.5,158.2 216.6,160.3 224.3,155.7ZM285.7,299.1 273,299 272.2,300.7 275,309.7 285,311.7 286.7,309 288,307.5 291.8,307.5ZM313.7,267.9 313.9,270.3 320,274.2 324.8,270.9 319.1,262.5ZM321.5,170.2 318.6,168.1 312.8,170.9 312.5,178 313.9,179.9 316.8,180 322.4,175.4ZM216.1,279.5 215.9,271.1 210.3,270.7 208.6,272.7 210,274 212.3,281.1ZM240.3,240.4 234.2,240.4 228.9,250.2 236.2,256.7 246.4,254.6 247.2,253ZM273.6,147.7 276.8,142.8 275.9,139.2 274.8,138.5 267.9,139.1 267,140.3 267.5,147.3ZM230,274.7 233,269.6 232.4,267.5 222,261 218.6,262.9 217.1,270.1 229.9,274.8ZM226.7,166.5 224.9,169 231.6,176.3 239.5,172.7 239.4,171.1 233.8,165.1ZM324.9,207.1 327.8,200.5 326,196.3 321.3,193.7 316.5,201.5 319,207.1 320.2,207.8ZM211.6,231.1 217.7,238.7 228.4,233.4 228.8,226.1 225,222.6 221.8,222.3 212.1,228ZM193.6,183.1 195.8,176.4 193.7,173.2 190,172.2 187.5,177.5 185.9,182.4ZM238.3,151.5 241.6,150 244.6,142.4 237.4,136.6 236.9,136.6 231.1,144.8ZM279,240.4 283.5,230.1 281.1,225.4 273.6,222.5 265.5,227.1 264.8,237.5ZM236.9,136.6 231.6,130.5 228.3,131 224.3,137.8 229.7,145 231.1,144.8ZM208.9,169.2 205.8,170.8 203.7,175.8 207.6,182.9 210.9,183.9 217.5,179.2 217.8,172.1ZM194.4,245.9 195.4,244.9 194,236.8 190.4,234 189.5,234.1 188.2,238.4 190,243 190.2,245.9ZM237.1,187.1 244.1,180.4 244.2,177.2 239.5,172.7 231.6,176.3 229.3,183.2ZM218.6,262.9 211.2,259.6 207.4,265.7 210.3,270.7 215.9,271.1 217.1,270.1ZM203.6,146.8 208,143.8 208.2,141.6 205.4,137.3 201.5,137.5 202.5,142.5 201.5,145.6ZM276.9,202.3 275.3,199.7 261.9,200.3 257.7,205.9 263,211.4 273.2,211.6 275.7,209.2ZM214.2,137.4 210.5,132.7 207.3,133.2 205.4,137.3 208.2,141.6ZM241.9,213.8 237.7,223.2 247.2,232.1 253.4,222.3 247.3,213ZM323.3,283.1 326.5,283.3 328.1,282 329.3,274.2 325,270.9 324.8,270.9 320,274.2 319.2,277.3ZM233.8,165.1 239.4,171.1 245.6,162.6 237.2,156.8 236,157.6ZM226.2,184.5 223.7,193.2 230.6,198.4 237.6,197.5 239.3,195.9 237.1,187.1 229.3,183.2ZM250.5,132.3 250.1,132.6 249.4,141.5 250,141.9 258.1,141.3 259,140.2 258.3,134.2ZM309.4,287.1 310.8,292.2 318,296.7 320.5,294.8 319.4,286.8 311,284.8ZM333.7,233.2 335,227.9 332.6,222.6 327.1,222.3 324.1,227.2 324.6,231.3 332.9,234.1ZM230,274.7 229.9,274.8 221.2,282.1 221.6,286.8 235,289 236.1,289.8 237.5,287.9ZM311.7,210 305.5,205.5 300.4,214.2 305.6,218.4 311.1,216.3ZM197,189 193.6,183.1 185.9,182.4 185,185 183.1,190.2 190,195 197,189.2ZM227.8,210.5 225,222.6 228.8,226.1 237.7,223.2 241.9,213.8 239,211.1ZM254.7,174.6 251.8,173.7 244.2,177.2 244.1,180.4 252.2,188.6 252.8,188.4 258,180.5ZM198.7,256.4 198.7,256.4 194.4,245.9 190.2,245.9 191,258 193.4,259.8ZM289,289.8 280.8,284.2 270.1,288 273,299 285.7,299.1ZM231.6,130.5 236.9,136.6 237.4,136.6 243.1,131.6 242.3,126.9 233.5,124.4ZM187.5,201.3 188.1,210.7 188.2,210.8 192.7,210.6 193.1,210.2 193.5,202.8 189.4,200.1ZM189.5,234.1 187.4,232.9 186,233 188.2,238.4ZM311,284.8 319.4,286.8 323.3,283.1 319.2,277.3 311.2,280.9ZM205.4,137.3 207.3,133.2 204.2,129.9 201.5,130.7 201,135 201.5,137.5ZM221.5,127.5 221.6,125.8 216.8,120.6 215,121.5 215.5,124 214,128 212,124 211.2,124.1 211.1,124.7 213,128.3 219.1,129.3ZM296.8,164.4 296,167.7 301.4,174.1 307.4,167.1 307.1,161.7 305.1,160.9ZM203.8,150.9 203.6,146.8 201.5,145.6 198.3,155.1ZM263,211.4 261,222.4 265.5,227.1 273.6,222.5 273.2,211.6ZM291.8,307.5 293.9,307.5 301.6,301.6 296.8,287.7 296.7,287.6 289,289.8 285.7,299.1ZM246.8,285.6 248.8,271 233,269.6 230,274.7 237.5,287.9ZM200.8,229.8 200.5,234.9 203.2,239 209.5,232.2 201.1,229.7ZM257.7,205.9 253.6,206 247.3,213 253.4,222.3 261,222.4 263,211.4ZM299.2,273 307.9,276.2 313.9,270.3 313.7,267.9 307.1,264.1ZM236.2,256.7 228.9,250.2 223.9,251.2 222,261 232.4,267.5ZM301.4,174.1 301.4,174.4 302.1,175.4 312.5,178 312.8,170.9 307.4,167.1ZM319.6,318 319.7,317.8 312.6,309.8 311.3,309.4 306.6,316.6 311.5,321.5ZM198.4,211.7 200.5,210.4 201.6,203.2 193.5,202.8 193.1,210.2ZM320.2,207.8 319,207.1 311.7,210 311.1,216.3 315.9,218.5 319.3,216.6ZM203.7,175.8 205.8,170.8 198.1,165 193.7,173.2 195.8,176.4ZM250.1,163.7 251.8,173.7 254.7,174.6 260.1,169.8 257.3,162.7ZM207.4,265.7 202.4,265.4 201.8,266.2 208.6,272.7 210.3,270.7ZM203.6,146.8 203.8,150.9 210.2,155.7 215.6,148.2 208,143.8ZM229.9,274.8 217.1,270.1 215.9,271.1 216.1,279.5 221.2,282.1ZM261.4,131.3 251.3,129 250.5,132.3 258.3,134.2ZM204.2,129.9 205,126.8 202.4,123.7 201.5,130.7ZM230.6,198.4 226.1,208.1 227.8,210.5 239,211.1 237.6,197.5ZM213,128.3 211.1,124.7 205,126.8 204.2,129.9 207.3,133.2 210.5,132.7ZM226.7,166.5 233.8,165.1 236,157.6 225.1,156.5ZM324.5,258.5 320.9,259.2 319.2,261.1 319.1,262.5 324.8,270.9 325,270.9 330.3,263.6 330.1,263ZM315.9,218.5 315.8,224.8 324.1,227.2 327.1,222.3 325.7,219.3 319.3,216.6ZM212.3,190.2 205.7,199.2 205.8,200.2 214.4,206.5 215.8,205.9 221.2,194.2ZM228.3,131 221.5,127.5 219.1,129.3 218.5,137.4 224.3,137.8ZM308.7,304.9 311.3,309.4 312.6,309.8 321.5,305.7 317.9,297.3ZM311.2,280.9 319.2,277.3 320,274.2 313.9,270.3 307.9,276.2ZM203.2,239 202.7,241.8 212.3,247.9 215.9,246.5 217.7,238.7 211.6,231.1 209.5,232.2ZM272.2,300.7 259.1,306.1 260,306.7 275,309.7ZM221.6,125.8 224.7,121.9 218,120 216.8,120.6ZM212.1,228 221.8,222.3 212.9,212 212.7,212.2 208.5,221.2 210.2,225.9ZM244.6,142.4 241.6,150 250,153.1 252.3,151.7 250,141.9 249.4,141.5ZM198.2,155.3 197.5,157.5 194.3,163.7 198.1,165 200.3,160.7ZM280.4,152 283.3,146 276.8,142.8 273.6,147.7 275.7,151.6ZM267.5,147.3 267,140.3 259,140.2 258.1,141.3 259.5,148.2 267.1,147.6Z" fill="none" stroke="#000" stroke-width=".65"/>
<path d="M286.9,215.4 292.2,213.9 291.5,204.8 287,201.3 276.9,202.3 275.7,209.2ZM282.5,155.3 280.4,152 275.7,151.6 272.1,157.1 276.1,160.2 281.2,158.9ZM280.2,174.5 282.9,176.6 289,174.4 290.4,169.3 285.8,164.6 285.2,164.6 280,169ZM332.4,155.4 325.9,155.4 324.6,159.7 328.5,166.3 329.7,166.6 334,160.3 333.9,157.6ZM330.3,263.6 325,270.9 329.3,274.2 333.9,273.5 335.5,267.1 335,266.1ZM300.3,153.2 300.9,150.9 299.5,146.9 289.4,146.1 289.9,154.5 292.3,156.8ZM293.5,214.8 295.2,229.4 295.5,229.6 305.6,227.7 305.6,218.4 300.4,214.2ZM301.4,174.4 293.6,178 292.3,188.2 297.4,189.7 302.4,184.3 302.1,175.4ZM302.4,184.3 310.9,185 313.9,179.9 312.5,178 302.1,175.4ZM261.2,192.8 252.8,188.4 252.2,188.6 246.8,196.1 253.6,206 257.7,205.9 261.9,200.3ZM273.2,211.6 273.6,222.5 281.1,225.4 286.9,215.4 275.7,209.2ZM285.2,164.6 281.2,158.9 276.1,160.2 275.6,166.1 280,169ZM322.4,175.4 316.8,180 322.7,187.3 329.5,183.8 326.5,176.9ZM321.6,247 327.6,250.6 331.4,246.8 331.3,241.1 322.4,241.3ZM287.9,144.4 287.9,144.4 289.4,146.1 299.5,146.9 300.8,143.2 299,138.6 293.3,137.6ZM307.1,161.7 312,159.1 309.6,149.8 300.9,150.9 300.3,153.2 305.1,160.9ZM274.3,176.1 269.9,186 270,186.1 275.4,189.8 283.4,186.5 282.9,176.6 280.2,174.5ZM317.9,328.4 320.3,326.2 319.6,318 311.5,321.5 312.5,322.5 313.8,327.2ZM332.7,171.8 332.8,170.1 329.7,166.6 328.5,166.3 321.5,170.2 322.4,175.4 326.5,176.9ZM334.1,331.2 335,326.2 334.2,324.7 329.8,322.1 325.8,327.5 327.4,332.1ZM261.2,192.8 261.9,200.3 275.3,199.7 275.4,189.8 270,186.1ZM322.3,150.8 321.5,150.5 312.7,159.1 317.9,163 324.6,159.7 325.9,155.4ZM326,196.3 333.2,191.6 333.2,187.4 331.5,184.4 329.5,183.8 322.7,187.3 320.9,192.7 321.3,193.7ZM308.6,194.3 297.9,190.5 298.2,200.8 305.4,204 309,199.9ZM319.8,237 311.8,242.1 314.3,249.5 317.3,249.8 321.6,247 322.4,241.3ZM311.1,147.8 319,147.8 319.1,141.8 309.8,140.3 309,141.8ZM275.6,166.1 268.4,168.4 267.7,169.9 274.3,176.1 280.2,174.5 280,169ZM320.8,317.4 329.3,320.4 330.9,317.8 331.2,309.8 326.7,307.5 325.9,307.7ZM290.4,169.3 296,167.7 296.8,164.4 292.2,158 285.8,164.6ZM283.2,136.1 287.9,144.4 293.3,137.6 283.3,135.8ZM334.1,201.3 327.8,200.5 324.9,207.1 329.5,211 332.9,211 333.8,210.1 335.4,204.4ZM305.5,205.5 305.4,204 298.2,200.8 291.5,204.8 292.2,213.9 293.5,214.8 300.4,214.2ZM325.7,219.3 329.5,211 324.9,207.1 320.2,207.8 319.3,216.6ZM260.1,169.8 254.7,174.6 258,180.5 263.9,180.8 266.4,170.6ZM269.9,186 263.9,180.8 258,180.5 252.8,188.4 261.2,192.8 270,186.1ZM319,147.8 321.5,150.5 322.3,150.8 328.4,145.2 328.3,143.2 319.1,141.8ZM287,201.3 289.9,188.8 283.4,186.5 275.4,189.8 275.3,199.7 276.9,202.3ZM311.1,216.3 305.6,218.4 305.6,227.7 308.7,229.7 310.3,229.6 315.8,224.8 315.9,218.5ZM301.1,248.9 312.6,250.6 314.3,249.5 311.8,242.1 306.8,240.1 299.6,244.3ZM329.5,211 325.7,219.3 327.1,222.3 332.6,222.6 334.3,221.1 335.5,215.6 332.9,211ZM322.7,187.3 316.8,180 313.9,179.9 310.9,185 312,190.6 320.9,192.7ZM326.5,333.9 319.6,335.5 325,340 328.3,337.8ZM326.5,333.9 328.3,337.8 330,336.7 335.1,332.4 334.1,331.2 327.4,332.1ZM317.9,328.4 313.8,327.2 315,331.7 318.4,334.5ZM329.8,322.1 329.3,320.4 320.8,317.4 319.7,317.8 319.6,318 320.3,326.2 325.8,327.5ZM283.3,146 287.9,144.4 287.9,144.4 283.2,136.1 275.9,139.2 276.8,142.8ZM299.6,244.3 306.8,240.1 308.7,229.7 305.6,227.7 295.5,229.6 296.8,242.7ZM187.4,232.9 189.5,234.1 190.4,234 193.3,230.2 192.2,227.5 190.7,226.9 188.1,227.5ZM334.4,147.7 328.4,145.2 322.3,150.8 325.9,155.4 332.4,155.4 334.5,151.7ZM282.9,176.6 283.4,186.5 289.9,188.8 292.3,188.2 293.6,178 289,174.4ZM321.3,193.7 320.9,192.7 312,190.6 308.6,194.3 309,199.9 316.5,201.5ZM319,207.1 316.5,201.5 309,199.9 305.4,204 305.5,205.5 311.7,210ZM300.9,150.9 309.6,149.8 311.1,147.8 309,141.8 300.8,143.2 299.5,146.9ZM282,250.2 293.5,259.8 300.1,255.1 301.1,248.9 299.6,244.3 296.8,242.7 282.5,246.2ZM289,174.4 293.6,178 301.4,174.4 301.4,174.1 296,167.7 290.4,169.3ZM332.7,171.8 326.5,176.9 329.5,183.8 331.5,184.4 334.4,181.5 335.6,175.5ZM276.1,160.2 272.1,157.1 267.4,157.6 265.9,158.7 268.4,168.4 275.6,166.1ZM187.4,232.9 188.1,227.5 187.4,227.2 187.5,227.5 186,233 186,233ZM300.8,143.2 309,141.8 309.8,140.3 300,138.8 299,138.6ZM274.3,176.1 267.7,169.9 266.4,170.6 263.9,180.8 269.9,186ZM326.5,333.9 327.4,332.1 325.8,327.5 320.3,326.2 317.9,328.4 318.4,334.5 319.6,335.5ZM312,190.6 310.9,185 302.4,184.3 297.4,189.7 297.9,190.5 308.6,194.3ZM296.8,164.4 305.1,160.9 300.3,153.2 292.3,156.8 292.2,158ZM291.5,204.8 298.2,200.8 297.9,190.5 297.4,189.7 292.3,188.2 289.9,188.8 287,201.3ZM321.5,150.5 319,147.8 311.1,147.8 309.6,149.8 312,159.1 312.7,159.1ZM300.1,255.1 307.2,260.2 310.7,258.2 312.6,250.6 301.1,248.9ZM335.8,198.9 335.4,193.7 333.2,191.6 326,196.3 327.8,200.5 334.1,201.3ZM329.7,166.6 332.8,170.1 335,169.2 338.2,163.8 334,160.3ZM328.4,145.2 334.4,147.7 335.4,146.7 335.8,144.4 335,144.3 328.3,143.2ZM318.6,168.1 321.5,170.2 328.5,166.3 324.6,159.7 317.9,163ZM274.8,138.5 275.9,139.2 283.2,136.1 283.3,135.8 274.7,134.2ZM333.9,273.5 329.3,274.2 328.1,282 334.8,282.9 336.8,279.9 334.5,273.9ZM313.7,267.9 319.1,262.5 319.2,261.1 310.7,258.2 307.2,260.2 307.1,264.1ZM285.8,164.6 292.2,158 292.3,156.8 289.9,154.5 282.5,155.3 281.2,158.9 285.2,164.6ZM338.2,314.4 333.4,309.5 331.2,309.8 330.9,317.8 336.5,317.6ZM336.5,317.6 330.9,317.8 329.3,320.4 329.8,322.1 334.2,324.7 338.2,320.3ZM334.9,256.8 330.1,263 330.3,263.6 335,266.1 337.9,262.3 336.1,257.3ZM275.7,151.6 273.6,147.7 267.5,147.3 267.1,147.6 267.4,157.6 272.1,157.1Z" fill="url(#hatch)" stroke="#000" stroke-width=".65"/>
<path d="M202.7,241.8 195.4,244.9 194.4,245.9 198.7,256.4 209.1,254.1 212.3,247.9ZM282.5,246.2 296.8,242.7 295.5,229.6 295.2,229.4 283.5,230.1 279,240.4ZM212.7,212.2 204.4,213.4 202.5,218.5 203.5,219.8 208.5,221.2ZM328.1,252.8 324.5,258.5 330.1,263 334.9,256.8 334.2,255.3ZM210.2,225.9 208.5,221.2 203.5,219.8 201.7,223.8 203.4,226ZM335.9,285.5 334.8,282.9 328.1,282 326.5,283.3 328.7,290.5 334.4,290.9 334.7,290.6ZM201.1,229.7 209.5,232.2 211.6,231.1 212.1,228 210.2,225.9 203.4,226ZM188.2,210.8 188,215 191.7,216 192.5,215.5 192.7,210.6ZM326.7,307.5 331.2,309.8 333.4,309.5 334.3,308.7 336.7,303.7 334,298.8 329.1,299.7ZM200.8,229.8 199,229 195.4,230.9 196.5,234.1 200.5,234.9ZM319.2,261.1 320.9,259.2 317.3,249.8 314.3,249.5 312.6,250.6 310.7,258.2ZM328.7,290.5 325.3,294.7 329.1,299.7 334,298.8 335.5,296.9 334.4,290.9ZM203.5,219.8 202.5,218.5 201,218.4 196.1,221.6 196.8,224 197.4,224.4 201.7,223.8ZM186.7,218.8 186.8,216 184.2,214.9 185,217.5 185.4,219.2ZM202.4,265.4 198.7,256.4 193.4,259.8 201,265.5 201.8,266.2ZM196.8,224 196.1,221.6 196,221.5 190.8,220.8 190.5,221 190.7,226.9 192.2,227.5ZM197.7,214.7 201,218.4 202.5,218.5 204.4,213.4 200.5,210.4 198.4,211.7ZM195.4,230.9 193.3,230.2 190.4,234 194,236.8 196.5,234.1ZM201.7,223.8 197.4,224.4 199,229 200.8,229.8 201.1,229.7 203.4,226ZM188.7,220.8 186.7,218.8 185.4,219.2 186.4,223.2ZM335.5,248.4 338.9,245.1 332.9,239.5 331.3,241.1 331.4,246.8Z" fill="#41b6c4" stroke="#000" stroke-width=".65"/>
<path d="M308.7,229.7 306.8,240.1 311.8,242.1 319.8,237 319.8,236.9 310.3,229.6ZM335.5,248.4 331.4,246.8 327.6,250.6 328.1,252.8 334.2,255.3 336.5,251.2Z" fill="#ffffcc" stroke="#000" stroke-width=".65"/>
<path d="M267.1,147.6 259.5,148.2 256.7,152.1 260.9,158.3 265.9,158.7 267.4,157.6ZM191.7,216 190.8,220.8 196,221.5 195.4,216.3 192.5,215.5ZM331.3,241.1 332.9,239.5 333.2,238.5 332.9,234.1 324.6,231.3 319.8,236.9 319.8,237 322.4,241.3ZM317.3,249.8 320.9,259.2 324.5,258.5 328.1,252.8 327.6,250.6 321.6,247ZM256.7,152.1 252.3,151.7 250,153.1 247.7,162.2 250.1,163.7 257.3,162.7 260.9,158.3ZM197.4,224.4 196.8,224 192.2,227.5 193.3,230.2 195.4,230.9 199,229ZM196,221.5 196.1,221.6 201,218.4 197.7,214.7 195.4,216.3Z" fill="#a1dab4" stroke="#000" stroke-width=".65"/>
<path d="M186.8,216 186.7,218.8 188.7,220.8 190.5,221 190.8,220.8 191.7,216 188,215ZM196.5,234.1 194,236.8 195.4,244.9 202.7,241.8 203.2,239 200.5,234.9ZM190.7,226.9 190.5,221 188.7,220.8 186.4,223.2 187.4,227.2 188.1,227.5ZM186.8,216 188,215 188.2,210.8 188.1,210.7 184.7,210.8 183.7,213.5 184.2,214.9ZM192.5,215.5 195.4,216.3 197.7,214.7 198.4,211.7 193.1,210.2 192.7,210.6ZM184.7,210.8 182,208.1 183.7,213.5Z" fill="#225ea8" stroke="#000" stroke-width=".65"/>
</g>
<path d="M202.5,123.0L207.0,124.5L212.0,124.0L214.0,128.0L215.5,124.0L215.0,121.5L218.0,120.0L242.6,127.0L272.6,133.8L300.0,138.8L335.0,144.3L370.0,147.5L392.5,147.5L393.7,142.5L396.0,142.5L396.0,149.0L407.5,151.0L420.0,154.5L437.5,152.5L424.0,160.0L417.5,167.5L427.5,166.0L435.0,163.7L443.7,159.0L442.5,164.0L452.5,168.7L462.5,166.0L472.5,170.0L463.7,172.5L455.0,173.7L451.0,178.7L450.0,185.0L447.5,195.0L446.0,205.0L448.7,212.5L453.7,216.0L457.5,210.0L456.0,197.5L457.5,187.5L461.0,178.7L466.0,173.7L472.5,173.7L477.5,178.7L478.7,187.5L476.0,191.0L482.5,190.0L485.5,196.0L483.7,203.7L481.0,208.7L485.0,212.5L495.0,208.0L503.0,201.7L509.0,191.7L512.0,190.0L520.0,188.5L526.0,185.0L529.0,181.0L525.0,180.0L527.5,173.0L531.7,169.0L543.0,166.0L555.0,161.7L559.0,156.0L561.0,145.0L562.5,136.0L566.7,134.0L571.7,134.0L574.0,136.7L576.7,143.0L579.0,148.0L586.0,152.5L586.0,156.0L581.7,157.5L577.5,160.0L574.0,164.0L571.7,168.0L568.0,173.0L567.5,181.0L570.0,186.7L573.0,187.5L576.0,189.0L575.0,193.0L571.7,193.0L566.7,195.0L561.7,199.0L548.0,204.0L551.7,211.7L550.0,218.0L547.5,223.0L545.0,228.0L543.0,236.7L545.0,243.0L546.7,253.0L550.0,258.0L545.0,268.0L536.0,279.0L527.5,289.0L517.5,300.5L513.7,310.5L513.0,320.0L518.0,330.0L523.0,336.7L528.0,345.0L531.0,353.0L531.0,363.0L530.0,370.0L525.0,369.0L521.7,366.7L516.7,360.0L511.7,353.0L506.7,347.5L504.0,341.7L503.0,335.0L500.0,331.0L494.0,326.0L488.0,325.0L483.0,329.0L480.0,328.0L470.0,324.0L460.0,324.0L453.0,326.0L446.7,327.5L443.0,331.7L448.0,338.0L446.7,341.0L440.0,337.5L435.0,336.7L430.0,337.5L420.0,332.0L407.0,334.0L397.0,339.0L388.0,345.0L380.0,351.7L376.0,356.7L376.7,361.7L376.7,370.0L365.0,368.0L360.0,363.0L355.0,355.0L350.0,346.7L348.0,340.0L343.0,331.7L336.7,331.0L330.0,336.7L325.0,340.0L315.0,331.7L312.5,322.5L305.0,315.0L299.0,307.5L288.0,307.5L286.7,309.0L285.0,311.7L260.0,306.7L235.0,289.0L213.7,285.5L210.0,274.0L201.0,265.5L191.0,258.0L190.0,243.0L186.0,233.0L187.5,227.5L185.0,217.5L181.0,205.0L181.0,196.0L185.0,185.0L187.5,177.5L191.0,170.0L197.5,157.5L202.5,142.5L201.0,135.0ZM548.0,203.5L556.0,200.5L565.0,197.5L565.5,199.0L556.0,202.5L549.0,205.5Z" fill="none" stroke="#000" stroke-width="1" shape-rendering="crispEdges"/>
<path d="M541.5,226L543,226.5L544,236L545.5,246L544,246L542,237Z" fill="#fff" stroke="#000" stroke-width=".5"/>
<path d="M214.5,126.5l3,-.5l1.5,5l-1,5.5l-2.5,-1l.5,-4z" fill="#000"/>
<path d="M203,262h3M193,265.5h2M196,268h1.5M548,262l3,3l-1,4" fill="none" stroke="#000" stroke-width="1"/>
<clipPath id="ak"><path d="M191.5,329.3L199.6,323.2L208.8,318.1L218.9,319.7L231.1,320.1L232.7,334.3L234.1,350.5L237.1,353.6L234.1,352.1L225.0,355.6L216.9,359.6L212.8,355.6L206.7,358.6L202.7,368.8L193.6,375.9L184.4,379.9L175.3,384.0L175.9,382.9L184.4,378.5L193.6,372.8L199.6,364.7L195.6,362.7L193.6,364.7L188.5,358.6L186.5,353.6L193.6,349.5L198.6,346.5L187.5,340.4L193.6,336.3L198.6,336.3L199.6,333.3Z"/></clipPath>
<g stroke-linejoin="round">
<path d="M191.5,329.3L199.6,323.2L208.8,318.1L218.9,319.7L231.1,320.1L232.7,334.3L234.1,350.5L237.1,353.6L234.1,352.1L225.0,355.6L216.9,359.6L212.8,355.6L206.7,358.6L202.7,368.8L193.6,375.9L184.4,379.9L175.3,384.0L175.9,382.9L184.4,378.5L193.6,372.8L199.6,364.7L195.6,362.7L193.6,364.7L188.5,358.6L186.5,353.6L193.6,349.5L198.6,346.5L187.5,340.4L193.6,336.3L198.6,336.3L199.6,333.3Z" fill="url(#hatch)"/>
<g clip-path="url(#ak)" stroke="#000" stroke-width=".9">
<path d="M210.8,332.3L231.1,326.2L232.7,334.3L222.9,340.4L214.8,345.5L212.8,352.6L202.7,353.6L195.6,359.6L188.5,358.6L186.5,353.6L193.6,349.5L198.6,347.5L203.7,338.4Z" fill="#225ea8"/>
<path d="M232.7,334.3L235.1,350.9L225.0,355.4L216.9,359.2L213.2,353.6L214.8,345.5L222.9,340.4ZM204.7,357.6L210.8,357.6L203.7,368.8L199.6,367.8Z" fill="#41b6c4"/>
<path d="M214.8,345.5L198.6,347.5M229.0,340.0L222.0,352.0" fill="none"/>
</g>
<path d="M191.5,329.3L199.6,323.2L208.8,318.1L218.9,319.7L231.1,320.1L232.7,334.3L234.1,350.5L237.1,353.6L234.1,352.1L225.0,355.6L216.9,359.6L212.8,355.6L206.7,358.6L202.7,368.8L193.6,375.9L184.4,379.9L175.3,384.0L175.9,382.9L184.4,378.5L193.6,372.8L199.6,364.7L195.6,362.7L193.6,364.7L188.5,358.6L186.5,353.6L193.6,349.5L198.6,346.5L187.5,340.4L193.6,336.3L198.6,336.3L199.6,333.3Z" fill="none" stroke="#000"/>
<path d="M237.1,353.0L244.2,352.6L251.3,356.2L260.4,361.1L259.0,363.1L255.4,365.1L250.3,361.9L245.2,357.8L239.2,354.6Z" fill="#111" stroke="#000"/>
<path d="M155.1,386.4h1.5M159.1,386.2h1.5M162.6,385.8h1.5M180.4,346.5h1.5M182.0,347.7h1.5M174.7,358.2h1.5M186.1,360.3h1.5M209.8,367.8h1.5M211.8,364.7h1.5M210.8,369.2h1.5" stroke="#000" stroke-width="1.6" stroke-linecap="round" fill="none"/>
<path d="M268.5,340.8L271.6,340.2L273.6,341.4L272.2,342.8L269.1,342.4Z" fill="url(#hatch)" stroke="#000" stroke-width=".9"/>
<path d="M281.7,346.1L284.1,345.5L285.8,348.1L283.7,349.5L282.1,348.1Z" fill="#ffffcc" stroke="#000" stroke-width=".9"/>
<path d="M290.8,349.7L294.9,351.1L301.0,352.6L302.0,354.6L297.9,355.4L291.8,352.6Z" fill="#999" stroke="#000" stroke-width="1.2"/>
<path d="M300.4,358.6L306.0,358.2L311.7,363.1L310.1,367.8L303.0,368.8L299.9,364.3Z" fill="url(#hatch)" stroke="#000" stroke-width=".9"/>
</g>
</svg>
<svg class="abs" style="left:165px;top:415px" width="25" height="19"><rect x=".5" y=".5" width="23" height="18" fill="url(#hatch)" stroke="#222" stroke-width="1"/></svg>
<div class="lg" style="left:313px;top:415px;background:#ffffcc"></div>
<div class="lg" style="left:460px;top:415px;background:#a1dab4"></div>
<div class="lg" style="left:165px;top:442px;background:#41b6c4"></div>
<div class="lg" style="left:313px;top:442px;background:#225ea8"></div>
<div class="lt" style="left:193px;top:425.3px">Suppressed/undefined</div>
<div class="lt" style="left:341px;top:425.3px">0.00-1.24</div>
<div class="lt" style="left:488px;top:425.3px">1.25-2.34</div>
<div class="lt" style="left:193px;top:452px">2.35-4.05</div>
<div class="lt" style="left:341px;top:452px">4.06-34.69</div>
<div class="sb sbh" style="left:728px;top:122.5px">Action Notes</div>
<div class="abs" style="left:748px;top:152px;width:3px;height:3px;border-radius:2px;background:#111"></div>
<div class="sb sbl" style="left:759px;top:148.5px">Scroll to the</div>
<div class="sb sbl" style="left:759px;top:159.0px">top of the web</div>
<div class="sb sbl" style="left:759px;top:169.5px">page to</div>
<div class="sb sbl" style="left:759px;top:180.0px">change the</div>
<div class="sb sbl" style="left:759px;top:190.5px">parameters of</div>
<div class="sb sbl" style="left:759px;top:201.0px">the map</div>
<div class="sb sbh blue" style="left:728px;top:252px">Export / Printing</div>
<div class="sb sbh blue" style="left:728px;top:261.5px">Options</div>
<div class="sb blue" style="left:744px;top:293px">Save Map Image</div>
<div class="sb blue" style="left:744px;top:309px">Export Data</div>
<div class="sb blue" style="left:744px;top:324px">Printable View</div>
<svg class="abs" style="left:728px;top:288px" width="14" height="48" viewBox="0 0 14 48"><rect x="1.5" y="1.5" width="10" height="10" fill="#e8b65a" stroke="#4a3a20"/><rect x="3.5" y="2" width="6" height="4" fill="#fff" stroke="#666" stroke-width=".5"/><rect x="4" y="8" width="5" height="3.5" fill="#555"/><path d="M3.5 16.5h5l3 3v8h-8z" fill="#fff" stroke="#333"/><path d="M1 16l5 4" stroke="#1a8aa0" stroke-width="2.2"/><path d="M5 22h5M5 24h5" stroke="#999" stroke-width=".7"/><path d="M3.5 36l1-3.5h6l1 3.5" fill="#fff" stroke="#222"/><rect x="1" y="36" width="12" height="4.5" rx="1" fill="#777" stroke="#222"/><rect x="3" y="40" width="8" height="2.5" fill="#444"/></svg>
<div class="abs" id="lstrip"></div><div class="abs" id="lline"></div><div class="abs" id="sline"></div>
<div class="abs" id="rstrip"></div><div class="abs" id="rline"></div><div class="abs" id="rstrip2"></div>
<div class="abs" id="vsb"></div><div class="abs" id="vthumb"></div>
<div class="abs btn" id="vup"><div class="tri" style="left:2px;top:3px;border-left:3px solid transparent;border-right:3px solid transparent;border-bottom:3px solid #000"></div></div>
<div class="abs btn" id="vdn"><div class="tri" style="left:2px;top:4px;border-left:3px solid transparent;border-right:3px solid transparent;border-top:3px solid #000"></div></div>
<svg class="abs" style="left:831px;top:275px" width="5" height="8"><path d="M0 1.5h4M0 3.5h4M0 5.5h4" stroke="#a8a8a8" stroke-width="0.8"/></svg>
<div class="abs" id="hsb"></div>
<div class="abs btn" id="hl"><div class="tri" style="left:3px;top:2px;border-top:3px solid transparent;border-bottom:3px solid transparent;border-right:3.5px solid #000"></div></div>
<div class="abs btn" id="hr"><div class="tri" style="left:4px;top:2px;border-top:3px solid transparent;border-bottom:3px solid transparent;border-left:3.5px solid #999"></div></div>
<div class="abs" style="left:12px;top:481px;width:3px;height:10px;background:#d0d0d0"></div>
<svg class="abs" style="left:412px;top:483px" width="8" height="6"><path d="M1 0v5M3.5 0v5M6 0v5" stroke="#999" stroke-width="0.9"/></svg>
<div class="abs" id="corner"></div>
</body></html>
